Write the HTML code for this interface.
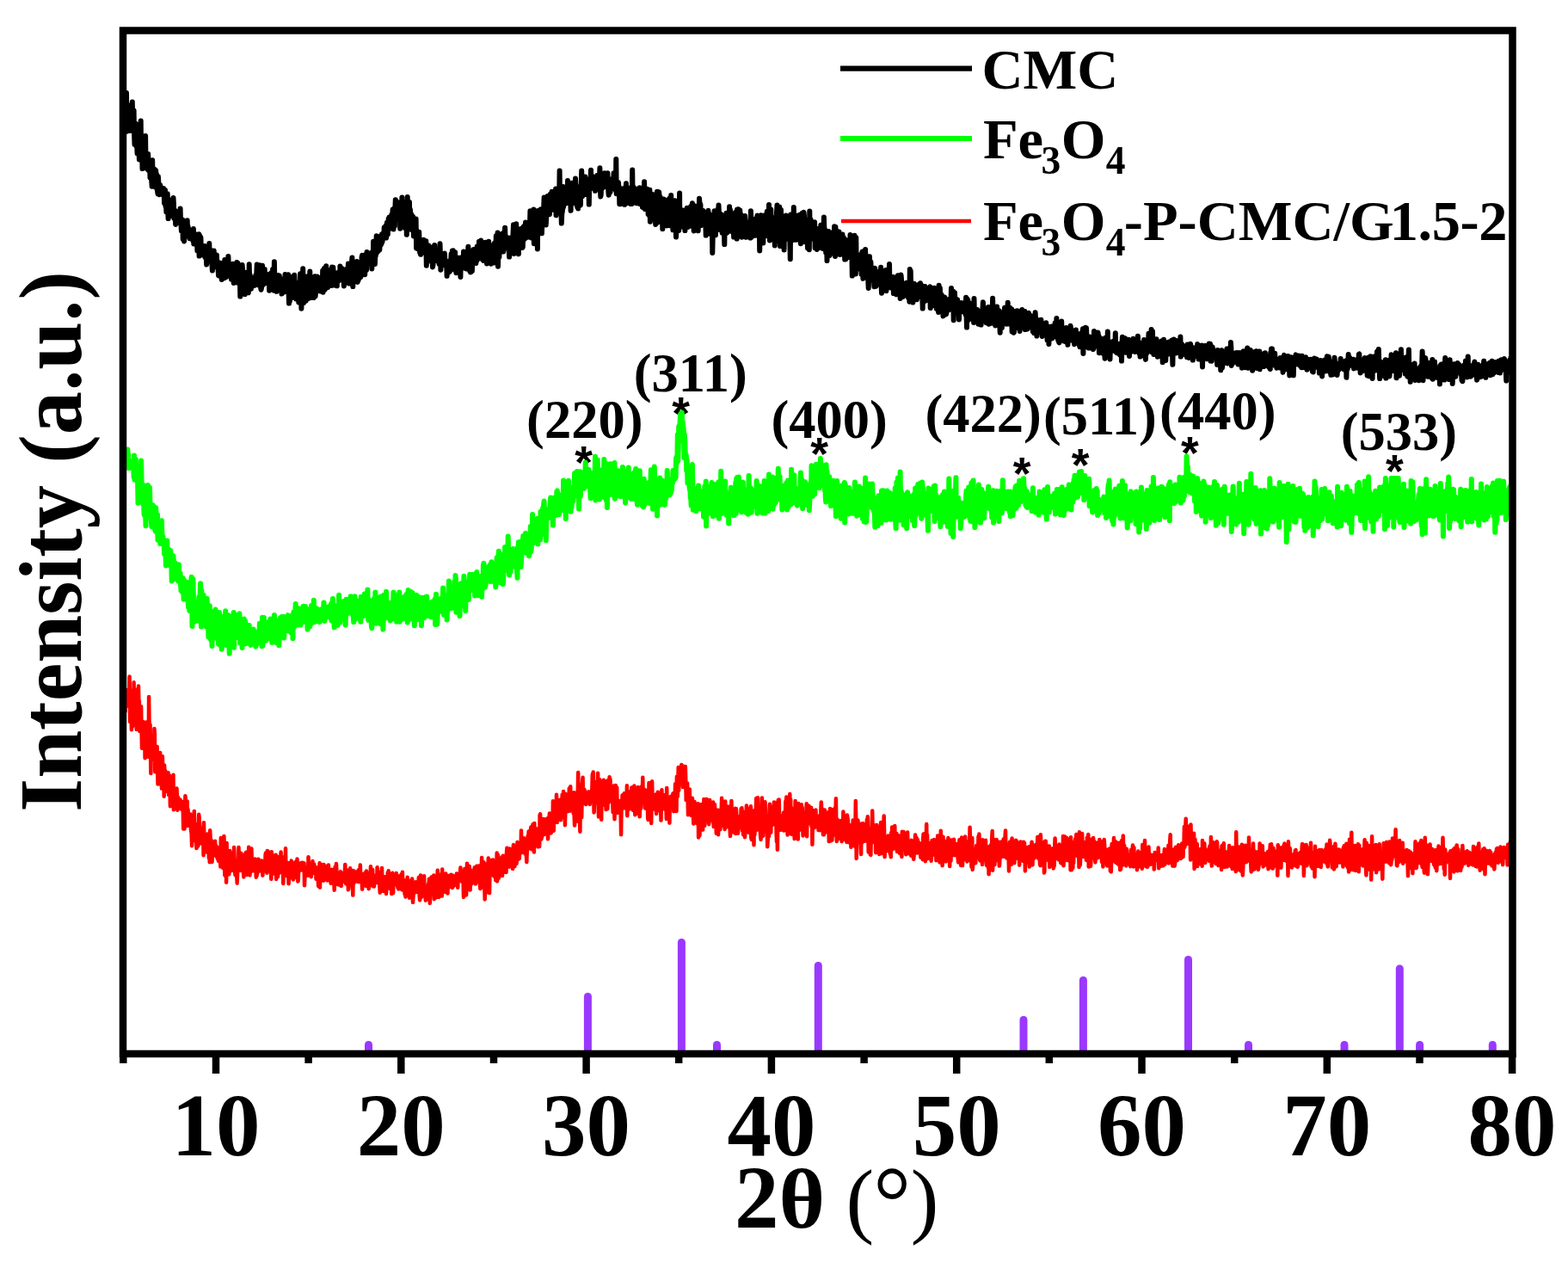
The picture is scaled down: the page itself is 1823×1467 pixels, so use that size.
<!DOCTYPE html>
<html><head><meta charset="utf-8"><title>XRD</title>
<style>html,body{margin:0;padding:0;background:#fff;overflow:hidden}svg{display:block}</style>
</head><body>
<svg width="1823" height="1467" viewBox="0 0 1823 1467" font-family="'Liberation Serif', 'Times New Roman', serif"><text x="678.5" y="556.3" text-anchor="middle" font-family="Liberation Sans, Arial, sans-serif" font-size="53.3" font-weight="bold">*</text>
<text x="791.5" y="498.7" text-anchor="middle" font-family="Liberation Sans, Arial, sans-serif" font-size="53.3" font-weight="bold">*</text>
<text x="952.5" y="546.4" text-anchor="middle" font-family="Liberation Sans, Arial, sans-serif" font-size="53.3" font-weight="bold">*</text>
<text x="1188.0" y="568.8" text-anchor="middle" font-family="Liberation Sans, Arial, sans-serif" font-size="53.3" font-weight="bold">*</text>
<text x="1256.0" y="559.4" text-anchor="middle" font-family="Liberation Sans, Arial, sans-serif" font-size="53.3" font-weight="bold">*</text>
<text x="1383.4" y="544.9" text-anchor="middle" font-family="Liberation Sans, Arial, sans-serif" font-size="53.3" font-weight="bold">*</text>
<text x="1621.3" y="565.8" text-anchor="middle" font-family="Liberation Sans, Arial, sans-serif" font-size="53.3" font-weight="bold">*</text>
<polyline fill="none" stroke="#000" stroke-width="6.0" stroke-linejoin="round" points="143.0,125.4 143.4,142.3 143.9,141.0 144.3,119.8 144.8,123.2 145.2,121.1 145.7,135.8 146.1,128.9 146.6,140.0 147.0,108.1 147.5,152.8 147.9,132.5 148.4,143.7 148.8,134.0 149.3,131.7 149.7,144.2 150.2,150.3 150.6,137.2 151.1,138.9 151.5,151.9 152.0,130.6 152.4,122.1 152.9,151.0 153.3,136.3 153.8,118.4 154.2,136.0 154.7,142.2 155.1,131.9 155.6,128.1 156.0,153.1 156.5,167.9 156.9,150.8 157.4,143.5 157.8,162.9 158.3,169.6 158.7,153.6 159.2,168.9 159.6,178.5 160.1,158.2 160.5,148.6 161.0,169.9 161.4,169.2 161.9,185.5 162.3,144.2 162.8,156.4 163.2,154.5 163.7,140.6 164.1,173.1 164.6,180.7 165.0,161.1 165.5,196.1 165.9,188.0 166.4,185.8 166.8,183.3 167.3,192.5 167.7,159.8 168.2,189.2 168.6,189.9 169.1,157.9 169.5,188.2 170.0,181.2 170.4,195.8 170.9,180.9 171.3,187.4 171.8,192.9 172.2,179.1 172.7,197.8 173.1,190.5 173.6,198.3 174.0,188.0 174.5,206.5 174.9,202.1 175.4,195.0 175.8,204.1 176.3,211.1 176.7,216.8 177.2,186.2 177.6,209.7 178.1,206.8 178.5,202.9 179.0,196.4 179.4,215.6 179.9,196.9 180.3,211.7 180.8,217.8 181.2,198.3 181.7,208.3 182.1,202.8 182.6,213.6 183.0,222.0 183.5,225.4 183.9,205.2 184.4,212.6 184.8,220.4 185.3,226.2 185.7,220.7 186.2,215.0 186.6,221.8 187.1,220.8 187.5,220.6 188.0,218.3 188.4,225.8 188.9,226.2 189.3,224.6 189.8,224.7 190.2,218.9 190.7,224.6 191.1,236.1 191.6,228.1 192.0,220.9 192.5,239.6 192.9,235.2 193.4,246.4 193.8,233.8 194.3,231.1 194.7,225.2 195.2,244.7 195.6,254.1 196.1,231.6 196.5,233.6 197.0,243.0 197.4,233.7 197.9,238.4 198.3,238.6 198.8,243.3 199.2,250.6 199.7,243.5 200.1,250.9 200.6,241.7 201.0,248.0 201.5,230.0 201.9,235.9 202.4,253.8 202.8,243.8 203.3,253.6 203.7,254.0 204.2,260.9 204.6,257.5 205.1,259.9 205.5,251.5 206.0,247.3 206.4,247.7 206.9,250.3 207.3,245.7 207.8,251.1 208.2,255.4 208.7,258.8 209.1,254.6 209.6,242.4 210.0,257.9 210.5,260.9 210.9,268.4 211.4,264.9 211.8,255.7 212.3,255.6 212.7,278.0 213.2,268.5 213.6,277.6 214.1,280.5 214.5,257.7 215.0,267.7 215.4,268.8 215.9,270.2 216.3,270.6 216.8,268.4 217.2,268.7 217.7,256.2 218.1,267.1 218.6,263.1 219.0,270.4 219.5,266.4 219.9,275.3 220.4,277.3 220.8,273.9 221.3,274.5 221.7,273.3 222.2,269.6 222.6,272.3 223.1,270.3 223.5,277.6 224.0,275.3 224.4,280.1 224.9,266.1 225.3,283.4 225.8,271.5 226.2,272.2 226.7,276.8 227.1,274.6 227.6,281.6 228.0,275.6 228.5,272.5 228.9,274.7 229.4,291.3 229.8,282.5 230.3,274.0 230.7,283.3 231.2,272.3 231.6,297.6 232.1,273.8 232.5,289.1 233.0,290.2 233.4,276.1 233.9,289.5 234.3,295.2 234.8,291.9 235.2,291.0 235.7,296.6 236.1,291.5 236.6,293.3 237.0,290.6 237.5,296.6 237.9,285.9 238.4,298.9 238.8,290.2 239.3,286.6 239.7,297.6 240.2,307.6 240.6,302.9 241.1,293.0 241.5,302.1 242.0,294.5 242.4,297.4 242.9,299.4 243.3,283.0 243.8,301.1 244.2,293.1 244.7,295.9 245.1,290.9 245.6,291.1 246.0,295.6 246.5,308.2 246.9,314.5 247.4,303.2 247.8,311.3 248.3,302.3 248.7,291.4 249.2,305.9 249.6,308.2 250.1,302.6 250.5,307.9 251.0,310.1 251.4,300.4 251.9,296.4 252.3,305.4 252.8,305.8 253.2,305.0 253.7,314.8 254.1,320.4 254.6,305.3 255.0,313.6 255.5,315.6 255.9,314.2 256.4,316.9 256.8,306.6 257.3,315.2 257.7,325.0 258.2,316.2 258.6,305.7 259.1,315.2 259.5,320.4 260.0,313.8 260.4,306.9 260.9,323.3 261.3,302.0 261.8,315.7 262.2,311.9 262.7,302.9 263.1,322.0 263.6,315.3 264.0,303.5 264.5,317.8 264.9,309.7 265.4,298.1 265.8,308.0 266.3,315.8 266.7,319.1 267.2,315.4 267.6,314.6 268.1,318.3 268.5,312.9 269.0,324.6 269.4,316.3 269.9,317.7 270.3,320.0 270.8,306.7 271.2,309.8 271.7,329.0 272.1,319.0 272.6,314.0 273.0,319.5 273.5,312.8 273.9,319.3 274.4,311.8 274.8,319.7 275.3,305.0 275.7,328.6 276.2,314.1 276.6,305.9 277.1,316.9 277.5,316.0 278.0,320.3 278.4,310.6 278.9,322.6 279.3,344.6 279.8,310.5 280.2,322.8 280.7,318.2 281.1,322.1 281.6,307.9 282.0,313.0 282.5,324.7 282.9,321.4 283.4,333.2 283.8,317.2 284.3,323.4 284.7,342.1 285.2,317.5 285.6,316.9 286.1,322.8 286.5,322.9 287.0,328.8 287.4,324.4 287.9,318.9 288.3,325.2 288.8,340.3 289.2,331.9 289.7,307.3 290.1,323.5 290.6,319.2 291.0,328.2 291.5,323.6 291.9,335.8 292.4,330.0 292.8,329.7 293.3,325.8 293.7,324.6 294.2,326.7 294.6,332.0 295.1,327.8 295.5,322.8 296.0,332.1 296.4,325.9 296.9,324.3 297.3,320.1 297.8,321.3 298.2,320.9 298.7,307.6 299.1,330.9 299.6,328.2 300.0,323.2 300.5,331.2 300.9,327.3 301.4,326.9 301.8,308.2 302.3,322.9 302.7,327.9 303.2,335.2 303.6,336.8 304.1,334.0 304.5,316.2 305.0,308.8 305.4,328.1 305.9,324.3 306.3,330.9 306.8,323.1 307.2,325.6 307.7,312.9 308.1,327.2 308.6,320.5 309.0,326.4 309.5,327.3 309.9,322.8 310.4,326.2 310.8,323.6 311.3,329.6 311.7,327.6 312.2,319.2 312.6,318.9 313.1,337.7 313.5,322.7 314.0,331.7 314.4,326.8 314.9,318.9 315.3,317.3 315.8,324.6 316.2,325.8 316.7,328.9 317.1,313.1 317.6,318.9 318.0,323.2 318.5,337.7 318.9,304.3 319.4,328.2 319.8,320.0 320.3,328.5 320.7,320.8 321.2,328.3 321.6,338.8 322.1,328.7 322.5,329.6 323.0,329.4 323.4,320.1 323.9,331.4 324.3,325.3 324.8,320.4 325.2,327.3 325.7,326.0 326.1,334.7 326.6,328.2 327.0,324.3 327.5,341.6 327.9,337.9 328.4,340.7 328.8,335.3 329.3,329.4 329.7,327.1 330.2,328.6 330.6,339.4 331.1,332.5 331.5,319.0 332.0,331.7 332.4,320.1 332.9,334.0 333.3,322.4 333.8,322.1 334.2,334.2 334.7,332.7 335.1,319.2 335.6,340.2 336.0,352.6 336.5,321.2 336.9,349.9 337.4,328.3 337.8,330.1 338.3,332.9 338.7,321.9 339.2,346.0 339.6,339.0 340.1,328.2 340.5,332.4 341.0,321.5 341.4,331.9 341.9,343.4 342.3,319.8 342.8,331.3 343.2,336.6 343.7,344.8 344.1,347.6 344.6,331.3 345.0,328.8 345.5,339.7 345.9,332.3 346.4,332.8 346.8,345.7 347.3,351.4 347.7,338.3 348.2,334.1 348.6,341.3 349.1,318.3 349.5,335.9 350.0,326.1 350.4,358.7 350.9,343.0 351.3,337.6 351.8,334.4 352.2,312.3 352.7,343.1 353.1,352.0 353.6,329.4 354.0,343.0 354.5,343.4 354.9,321.4 355.4,345.6 355.8,349.7 356.3,338.7 356.7,335.9 357.2,344.3 357.6,321.3 358.1,337.4 358.5,346.9 359.0,324.1 359.4,346.3 359.9,332.2 360.3,315.6 360.8,335.1 361.2,326.4 361.7,339.1 362.1,324.2 362.6,345.9 363.0,328.1 363.5,338.7 363.9,329.1 364.4,331.5 364.8,346.1 365.3,336.2 365.7,329.9 366.2,321.3 366.6,344.5 367.1,340.0 367.5,329.3 368.0,334.5 368.4,321.8 368.9,321.6 369.3,323.1 369.8,334.1 370.2,333.2 370.7,322.8 371.1,336.7 371.6,336.8 372.0,330.5 372.5,338.5 372.9,325.4 373.4,326.7 373.8,331.9 374.3,326.7 374.7,334.3 375.2,314.4 375.6,339.7 376.1,318.3 376.5,323.9 377.0,312.1 377.4,330.6 377.9,336.8 378.3,334.6 378.8,332.1 379.2,309.3 379.7,316.5 380.1,319.3 380.6,314.8 381.0,334.0 381.5,325.0 381.9,323.0 382.4,327.6 382.8,314.3 383.3,314.7 383.7,314.9 384.2,327.2 384.6,325.7 385.1,327.7 385.5,332.0 386.0,310.6 386.4,317.6 386.9,323.6 387.3,310.8 387.8,317.8 388.2,330.7 388.7,331.4 389.1,331.0 389.6,322.4 390.0,320.3 390.5,330.7 390.9,318.9 391.4,324.6 391.8,332.3 392.3,318.9 392.7,317.0 393.2,321.6 393.6,326.3 394.1,325.3 394.5,322.8 395.0,325.7 395.4,309.6 395.9,315.1 396.3,322.6 396.8,314.6 397.2,311.6 397.7,312.6 398.1,314.7 398.6,319.8 399.0,313.9 399.5,322.6 399.9,332.4 400.4,319.8 400.8,329.2 401.3,322.5 401.7,313.2 402.2,318.8 402.6,314.0 403.1,325.1 403.5,312.7 404.0,328.5 404.4,323.6 404.9,306.5 405.3,324.7 405.8,329.6 406.2,313.9 406.7,325.6 407.1,306.8 407.6,320.3 408.0,307.1 408.5,321.5 408.9,305.7 409.4,299.6 409.8,320.2 410.3,333.1 410.7,312.8 411.2,322.5 411.6,317.2 412.1,313.8 412.5,320.2 413.0,327.2 413.4,306.3 413.9,318.9 414.3,317.1 414.8,303.9 415.2,325.7 415.7,327.9 416.1,306.2 416.6,325.7 417.0,312.9 417.5,310.9 417.9,323.1 418.4,313.1 418.8,313.5 419.3,322.2 419.7,320.1 420.2,316.7 420.6,298.7 421.1,296.9 421.5,317.5 422.0,301.1 422.4,309.1 422.9,299.0 423.3,305.6 423.8,296.5 424.2,319.3 424.7,297.7 425.1,304.4 425.6,303.4 426.0,314.0 426.5,293.0 426.9,303.3 427.4,301.5 427.8,306.6 428.3,305.6 428.7,298.1 429.2,302.8 429.6,297.8 430.1,303.3 430.5,298.6 431.0,294.2 431.4,298.0 431.9,300.1 432.3,312.5 432.8,293.0 433.2,297.8 433.7,304.7 434.1,280.8 434.6,282.5 435.0,285.5 435.5,291.7 435.9,307.0 436.4,293.4 436.8,297.7 437.3,288.3 437.7,274.2 438.2,274.6 438.6,293.3 439.1,287.7 439.5,278.6 440.0,291.4 440.4,275.9 440.9,289.8 441.3,290.6 441.8,278.0 442.2,275.5 442.7,284.8 443.1,274.1 443.6,283.2 444.0,272.2 444.5,281.1 444.9,276.8 445.4,273.5 445.8,270.5 446.3,274.8 446.7,264.4 447.2,270.6 447.6,269.0 448.1,273.2 448.5,262.4 449.0,276.6 449.4,264.7 449.9,258.8 450.3,272.0 450.8,272.6 451.2,260.1 451.7,254.3 452.1,258.7 452.6,252.6 453.0,253.8 453.5,265.7 453.9,256.2 454.4,253.2 454.8,253.5 455.3,249.3 455.7,255.4 456.2,254.9 456.6,243.6 457.1,246.8 457.5,266.4 458.0,248.3 458.4,242.3 458.9,262.7 459.3,243.3 459.8,232.2 460.2,249.4 460.7,233.7 461.1,237.6 461.6,245.9 462.0,241.3 462.5,234.9 462.9,237.1 463.4,236.8 463.8,255.4 464.3,235.7 464.7,237.5 465.2,265.7 465.6,238.1 466.1,260.6 466.5,259.1 467.0,243.2 467.4,229.4 467.9,250.7 468.3,253.5 468.8,257.3 469.2,247.5 469.7,261.0 470.1,263.6 470.6,235.4 471.0,265.1 471.5,250.7 471.9,242.3 472.4,245.7 472.8,272.8 473.3,262.5 473.7,228.9 474.2,252.4 474.6,250.2 475.1,250.2 475.5,246.5 476.0,235.1 476.4,265.1 476.9,243.4 477.3,251.3 477.8,249.4 478.2,248.9 478.7,267.1 479.1,263.9 479.6,253.0 480.0,251.3 480.5,257.9 480.9,274.4 481.4,266.8 481.8,269.1 482.3,264.8 482.7,266.9 483.2,272.8 483.6,254.6 484.1,288.4 484.5,267.6 485.0,271.0 485.4,289.1 485.9,280.5 486.3,280.2 486.8,276.3 487.2,269.7 487.7,284.6 488.1,293.3 488.6,278.5 489.0,295.8 489.5,278.9 489.9,282.5 490.4,291.5 490.8,288.7 491.3,293.7 491.7,285.0 492.2,283.7 492.6,278.8 493.1,283.4 493.5,284.6 494.0,282.7 494.4,294.0 494.9,288.2 495.3,280.2 495.8,308.7 496.2,288.1 496.7,285.7 497.1,301.7 497.6,301.5 498.0,287.2 498.5,285.4 498.9,288.7 499.4,302.3 499.8,293.5 500.3,290.6 500.7,295.7 501.2,303.7 501.6,287.7 502.1,294.2 502.5,288.2 503.0,310.5 503.4,308.5 503.9,303.3 504.3,296.7 504.8,301.8 505.2,284.9 505.7,299.8 506.1,290.0 506.6,290.3 507.0,294.3 507.5,296.6 507.9,302.5 508.4,303.4 508.8,300.9 509.3,293.6 509.7,303.8 510.2,299.0 510.6,307.2 511.1,294.4 511.5,283.3 512.0,297.4 512.4,313.7 512.9,303.5 513.3,299.6 513.8,306.4 514.2,304.3 514.7,304.2 515.1,298.1 515.6,302.0 516.0,303.0 516.5,297.7 516.9,294.6 517.4,303.1 517.8,308.8 518.3,306.8 518.7,306.0 519.2,306.2 519.6,320.8 520.1,304.8 520.5,310.5 521.0,317.2 521.4,303.8 521.9,305.5 522.3,311.3 522.8,316.1 523.2,306.2 523.7,306.8 524.1,304.9 524.6,295.2 525.0,312.8 525.5,302.6 525.9,291.4 526.4,303.6 526.8,291.3 527.3,297.0 527.7,305.1 528.2,297.7 528.6,313.6 529.1,293.3 529.5,307.3 530.0,309.8 530.4,317.2 530.9,312.9 531.3,307.2 531.8,306.0 532.2,304.8 532.7,314.7 533.1,299.8 533.6,309.5 534.0,304.4 534.5,307.0 534.9,302.9 535.4,322.0 535.8,299.6 536.3,306.7 536.7,306.7 537.2,309.1 537.6,307.8 538.1,307.4 538.5,311.5 539.0,292.4 539.4,303.7 539.9,294.2 540.3,305.0 540.8,294.3 541.2,295.8 541.7,302.2 542.1,312.5 542.6,306.4 543.0,304.1 543.5,311.7 543.9,295.0 544.4,286.8 544.8,298.2 545.3,299.0 545.7,309.1 546.2,314.9 546.6,291.4 547.1,316.5 547.5,310.1 548.0,305.1 548.4,301.8 548.9,314.8 549.3,299.6 549.8,295.9 550.2,299.5 550.7,290.0 551.1,301.2 551.6,297.5 552.0,300.0 552.5,300.0 552.9,291.0 553.4,305.9 553.8,290.8 554.3,303.0 554.7,286.4 555.2,299.4 555.6,291.1 556.1,296.9 556.5,291.9 557.0,280.7 557.4,288.1 557.9,296.5 558.3,300.6 558.8,284.7 559.2,279.4 559.7,288.7 560.1,293.7 560.6,290.2 561.0,288.6 561.5,301.9 561.9,302.8 562.4,300.8 562.8,286.6 563.3,295.0 563.7,292.6 564.2,281.7 564.6,301.8 565.1,294.6 565.5,289.3 566.0,306.5 566.4,300.5 566.9,301.3 567.3,304.4 567.8,299.8 568.2,280.7 568.7,288.9 569.1,302.4 569.6,284.8 570.0,292.6 570.5,296.1 570.9,306.7 571.4,305.2 571.8,301.0 572.3,289.5 572.7,301.0 573.2,296.8 573.6,289.3 574.1,305.6 574.5,296.0 575.0,282.5 575.4,303.7 575.9,287.5 576.3,296.1 576.8,274.3 577.2,289.5 577.7,280.0 578.1,279.7 578.6,270.4 579.0,309.8 579.5,287.4 579.9,290.9 580.4,298.9 580.8,287.2 581.3,292.8 581.7,275.6 582.2,289.5 582.6,283.9 583.1,291.8 583.5,288.8 584.0,275.2 584.4,271.2 584.9,278.2 585.3,292.6 585.8,289.8 586.2,289.4 586.7,269.9 587.1,264.7 587.6,280.7 588.0,282.8 588.5,280.6 588.9,287.6 589.4,283.5 589.8,276.0 590.3,278.1 590.7,285.1 591.2,284.4 591.6,283.2 592.1,298.6 592.5,281.5 593.0,283.8 593.4,276.5 593.9,280.3 594.3,285.6 594.8,285.6 595.2,281.0 595.7,284.0 596.1,281.8 596.6,270.0 597.0,261.2 597.5,294.9 597.9,285.6 598.4,279.8 598.8,268.7 599.3,271.3 599.7,288.5 600.2,260.3 600.6,276.7 601.1,284.7 601.5,279.4 602.0,283.6 602.4,276.9 602.9,295.3 603.3,269.6 603.8,266.6 604.2,278.8 604.7,287.6 605.1,275.7 605.6,284.3 606.0,271.2 606.5,265.4 606.9,286.6 607.4,287.9 607.8,287.5 608.3,270.2 608.7,263.5 609.2,262.9 609.6,271.0 610.1,278.0 610.5,277.0 611.0,258.6 611.4,273.5 611.9,271.5 612.3,271.8 612.8,270.4 613.2,268.2 613.7,275.8 614.1,270.8 614.6,271.4 615.0,261.6 615.5,272.5 615.9,266.7 616.4,245.2 616.8,272.3 617.3,263.9 617.7,276.4 618.2,264.1 618.6,264.3 619.1,267.2 619.5,264.3 620.0,259.0 620.4,243.6 620.9,283.2 621.3,244.8 621.8,257.9 622.2,268.3 622.7,264.6 623.1,266.1 623.6,267.7 624.0,272.5 624.5,261.1 624.9,289.5 625.4,245.0 625.8,258.2 626.3,250.9 626.7,248.1 627.2,256.7 627.6,269.2 628.1,244.0 628.5,243.3 629.0,258.8 629.4,256.0 629.9,271.3 630.3,260.1 630.8,250.4 631.2,243.3 631.7,248.8 632.1,243.7 632.6,229.5 633.0,244.5 633.5,241.8 633.9,240.5 634.4,237.7 634.8,261.4 635.3,249.5 635.7,251.7 636.2,233.4 636.6,228.1 637.1,236.2 637.5,241.9 638.0,234.6 638.4,236.1 638.9,249.1 639.3,241.1 639.8,225.8 640.2,232.0 640.7,229.1 641.1,238.6 641.6,222.8 642.0,234.0 642.5,243.8 642.9,235.9 643.4,224.9 643.8,228.2 644.3,236.5 644.7,240.4 645.2,244.2 645.6,232.9 646.1,219.5 646.5,250.3 647.0,237.4 647.4,238.5 647.9,237.2 648.3,222.0 648.8,229.9 649.2,236.2 649.7,244.7 650.1,233.8 650.6,198.4 651.0,230.2 651.5,236.6 651.9,246.8 652.4,240.3 652.8,259.6 653.3,247.8 653.7,246.8 654.2,242.2 654.6,216.9 655.1,240.9 655.5,238.1 656.0,225.8 656.4,237.6 656.9,235.7 657.3,226.1 657.8,229.6 658.2,228.0 658.7,233.1 659.1,226.0 659.6,236.1 660.0,209.9 660.5,227.0 660.9,212.1 661.4,224.6 661.8,234.9 662.3,229.5 662.7,228.0 663.2,229.6 663.6,244.8 664.1,217.2 664.5,237.3 665.0,212.8 665.4,223.2 665.9,229.3 666.3,219.0 666.8,229.3 667.2,234.2 667.7,215.1 668.1,225.8 668.6,222.7 669.0,207.4 669.5,224.0 669.9,218.0 670.4,238.1 670.8,216.9 671.3,240.8 671.7,219.6 672.2,242.4 672.6,229.1 673.1,228.1 673.5,231.0 674.0,231.6 674.4,235.8 674.9,238.5 675.3,219.6 675.8,211.3 676.2,198.6 676.7,218.6 677.1,228.3 677.6,224.8 678.0,222.2 678.5,218.0 678.9,215.4 679.4,218.2 679.8,223.6 680.3,205.4 680.7,226.0 681.2,207.7 681.6,218.2 682.1,214.1 682.5,216.1 683.0,210.5 683.4,209.5 683.9,216.7 684.3,209.7 684.8,237.6 685.2,214.6 685.7,212.5 686.1,213.2 686.6,208.8 687.0,197.7 687.5,214.9 687.9,219.1 688.4,204.7 688.8,216.3 689.3,206.6 689.7,215.6 690.2,218.5 690.6,219.3 691.1,218.7 691.5,209.6 692.0,221.8 692.4,211.2 692.9,217.2 693.3,219.8 693.8,211.7 694.2,203.9 694.7,218.5 695.1,204.9 695.6,206.5 696.0,204.6 696.5,219.6 696.9,211.6 697.4,195.3 697.8,218.3 698.3,228.5 698.7,226.3 699.2,207.8 699.6,212.7 700.1,215.9 700.5,218.8 701.0,212.0 701.4,203.2 701.9,217.4 702.3,216.2 702.8,201.2 703.2,208.5 703.7,213.4 704.1,211.3 704.6,215.3 705.0,217.4 705.5,215.5 705.9,210.5 706.4,201.2 706.8,216.2 707.3,222.3 707.7,226.7 708.2,211.8 708.6,212.0 709.1,223.2 709.5,223.3 710.0,215.5 710.4,218.5 710.9,208.2 711.3,218.2 711.8,208.5 712.2,213.8 712.7,214.3 713.1,212.3 713.6,201.2 714.0,210.7 714.5,219.3 714.9,217.1 715.4,215.2 715.8,221.4 716.3,185.0 716.7,225.2 717.2,214.5 717.6,220.6 718.1,218.7 718.5,215.6 719.0,212.0 719.4,221.7 719.9,217.2 720.3,237.3 720.8,223.2 721.2,222.8 721.7,222.1 722.1,237.0 722.6,219.6 723.0,224.9 723.5,221.5 723.9,225.9 724.4,226.8 724.8,234.0 725.3,218.9 725.7,227.7 726.2,237.8 726.6,225.2 727.1,227.4 727.5,223.4 728.0,213.3 728.4,228.4 728.9,236.2 729.3,226.5 729.8,218.2 730.2,231.1 730.7,230.1 731.1,235.8 731.6,235.4 732.0,228.2 732.5,232.5 732.9,218.9 733.4,237.1 733.8,231.4 734.3,237.1 734.7,237.0 735.2,197.6 735.6,229.6 736.1,225.0 736.5,217.5 737.0,229.9 737.4,231.8 737.9,223.9 738.3,235.5 738.8,231.6 739.2,234.0 739.7,226.1 740.1,219.7 740.6,236.3 741.0,235.3 741.5,230.6 741.9,228.6 742.4,229.7 742.8,230.7 743.3,228.3 743.7,218.3 744.2,237.1 744.6,221.8 745.1,229.7 745.5,230.0 746.0,233.9 746.4,221.3 746.9,240.6 747.3,237.0 747.8,237.9 748.2,241.5 748.7,227.4 749.1,211.2 749.6,235.6 750.0,243.0 750.5,242.3 750.9,229.7 751.4,233.3 751.8,236.5 752.3,219.7 752.7,229.1 753.2,229.5 753.6,248.9 754.1,229.8 754.5,249.9 755.0,236.2 755.4,220.8 755.9,257.7 756.3,227.7 756.8,243.4 757.2,254.7 757.7,232.6 758.1,225.7 758.6,249.6 759.0,239.8 759.5,226.2 759.9,227.9 760.4,235.8 760.8,251.3 761.3,237.5 761.7,248.7 762.2,260.9 762.6,257.0 763.1,259.6 763.5,257.6 764.0,222.8 764.4,258.6 764.9,247.7 765.3,242.2 765.8,229.9 766.2,223.3 766.7,229.7 767.1,244.6 767.6,229.0 768.0,234.1 768.5,237.0 768.9,255.4 769.4,241.9 769.8,244.2 770.3,266.1 770.7,241.9 771.2,255.8 771.6,231.4 772.1,252.1 772.5,249.1 773.0,250.1 773.4,241.1 773.9,233.4 774.3,243.9 774.8,241.7 775.2,262.5 775.7,260.8 776.1,232.6 776.6,257.1 777.0,242.7 777.5,255.0 777.9,243.1 778.4,230.7 778.8,262.2 779.3,255.2 779.7,234.8 780.2,227.1 780.6,243.7 781.1,236.2 781.5,246.1 782.0,257.6 782.4,267.3 782.9,246.7 783.3,266.1 783.8,263.6 784.2,246.3 784.7,233.3 785.1,260.2 785.6,257.6 786.0,275.5 786.5,265.9 786.9,259.3 787.4,268.2 787.8,241.6 788.3,253.6 788.7,249.3 789.2,268.0 789.6,257.1 790.1,224.6 790.5,264.1 791.0,244.2 791.4,258.7 791.9,248.1 792.3,254.2 792.8,257.3 793.2,253.7 793.7,244.4 794.1,263.6 794.6,255.4 795.0,252.0 795.5,258.1 795.9,247.6 796.4,268.1 796.8,254.0 797.3,255.2 797.7,255.0 798.2,244.1 798.6,241.7 799.1,253.8 799.5,255.0 800.0,263.9 800.4,255.9 800.9,241.9 801.3,256.5 801.8,259.2 802.2,260.9 802.7,254.6 803.1,240.1 803.6,262.4 804.0,244.4 804.5,256.8 804.9,236.2 805.4,258.6 805.8,243.5 806.3,261.7 806.7,268.4 807.2,262.5 807.6,239.3 808.1,241.5 808.5,242.1 809.0,257.5 809.4,254.3 809.9,252.3 810.3,253.9 810.8,256.6 811.2,257.4 811.7,268.3 812.1,250.0 812.6,252.7 813.0,230.8 813.5,236.3 813.9,243.0 814.4,237.7 814.8,252.9 815.3,262.0 815.7,245.8 816.2,245.3 816.6,245.1 817.1,252.4 817.5,244.9 818.0,256.1 818.4,254.9 818.9,255.6 819.3,260.8 819.8,252.5 820.2,254.1 820.7,273.6 821.1,252.5 821.6,263.0 822.0,254.4 822.5,248.5 822.9,248.8 823.4,244.7 823.8,255.3 824.3,248.1 824.7,250.7 825.2,271.8 825.6,255.1 826.1,271.8 826.5,261.0 827.0,269.2 827.4,250.5 827.9,260.8 828.3,294.0 828.8,270.6 829.2,273.4 829.7,263.5 830.1,272.3 830.6,245.3 831.0,249.8 831.5,267.5 831.9,273.3 832.4,256.5 832.8,259.9 833.3,257.6 833.7,260.3 834.2,246.1 834.6,242.8 835.1,262.2 835.5,238.5 836.0,249.4 836.4,254.0 836.9,248.3 837.3,267.1 837.8,257.2 838.2,262.5 838.7,249.3 839.1,253.1 839.6,270.7 840.0,268.5 840.5,257.0 840.9,268.2 841.4,265.7 841.8,265.2 842.3,284.1 842.7,257.6 843.2,268.2 843.6,268.1 844.1,259.6 844.5,247.7 845.0,270.9 845.4,265.4 845.9,262.6 846.3,262.2 846.8,262.0 847.2,250.9 847.7,264.9 848.1,240.3 848.6,260.9 849.0,243.9 849.5,256.9 849.9,268.8 850.4,257.7 850.8,255.2 851.3,265.9 851.7,257.3 852.2,255.8 852.6,255.9 853.1,275.6 853.5,266.6 854.0,264.6 854.4,247.7 854.9,265.6 855.3,246.8 855.8,264.0 856.2,248.7 856.7,277.6 857.1,243.6 857.6,270.4 858.0,266.4 858.5,243.3 858.9,257.0 859.4,271.8 859.8,269.1 860.3,244.6 860.7,254.7 861.2,249.0 861.6,250.3 862.1,253.8 862.5,275.7 863.0,260.7 863.4,257.7 863.9,256.8 864.3,265.7 864.8,266.1 865.2,252.0 865.7,273.1 866.1,250.9 866.6,258.1 867.0,264.6 867.5,275.8 867.9,257.9 868.4,263.6 868.8,272.7 869.3,266.9 869.7,271.5 870.2,270.9 870.6,264.2 871.1,267.6 871.5,270.3 872.0,262.1 872.4,276.6 872.9,245.2 873.3,254.7 873.8,275.6 874.2,266.9 874.7,257.6 875.1,266.7 875.6,273.0 876.0,258.7 876.5,270.4 876.9,262.7 877.4,262.9 877.8,263.4 878.3,273.8 878.7,254.3 879.2,260.9 879.6,270.0 880.1,253.5 880.5,250.4 881.0,269.3 881.4,264.3 881.9,262.9 882.3,265.6 882.8,255.3 883.2,291.4 883.7,254.9 884.1,260.0 884.6,250.3 885.0,260.0 885.5,279.1 885.9,264.1 886.4,269.9 886.8,258.8 887.3,282.5 887.7,265.4 888.2,250.4 888.6,271.7 889.1,259.4 889.5,270.0 890.0,264.8 890.4,266.1 890.9,264.6 891.3,252.7 891.8,245.7 892.2,274.2 892.7,261.2 893.1,266.1 893.6,257.1 894.0,238.1 894.5,246.9 894.9,279.5 895.4,252.5 895.8,257.4 896.3,243.6 896.7,255.3 897.2,257.2 897.6,259.0 898.1,260.9 898.5,253.5 899.0,254.1 899.4,261.5 899.9,266.0 900.3,259.6 900.8,285.5 901.2,264.4 901.7,263.7 902.1,252.2 902.6,276.0 903.0,246.8 903.5,238.4 903.9,247.6 904.4,270.2 904.8,245.4 905.3,279.6 905.7,261.2 906.2,240.5 906.6,258.4 907.1,286.1 907.5,249.9 908.0,243.9 908.4,268.7 908.9,279.4 909.3,275.5 909.8,257.5 910.2,264.5 910.7,266.4 911.1,277.6 911.6,290.4 912.0,260.9 912.5,279.2 912.9,258.0 913.4,270.1 913.8,250.6 914.3,252.9 914.7,268.0 915.2,251.5 915.6,274.1 916.1,256.2 916.5,264.1 917.0,262.2 917.4,259.2 917.9,265.0 918.3,276.7 918.8,301.3 919.2,249.4 919.7,267.4 920.1,261.8 920.6,253.2 921.0,267.5 921.5,253.9 921.9,263.4 922.4,278.9 922.8,241.1 923.3,267.5 923.7,269.8 924.2,253.9 924.6,270.9 925.1,269.0 925.5,261.2 926.0,278.8 926.4,250.7 926.9,272.6 927.3,262.9 927.8,253.9 928.2,263.8 928.7,262.0 929.1,274.9 929.6,249.7 930.0,264.0 930.5,261.3 930.9,283.3 931.4,254.4 931.8,277.9 932.3,247.9 932.7,270.4 933.2,265.4 933.6,271.0 934.1,259.7 934.5,246.8 935.0,251.2 935.4,281.1 935.9,269.8 936.3,258.8 936.8,277.1 937.2,260.3 937.7,260.5 938.1,255.9 938.6,280.3 939.0,288.3 939.5,258.9 939.9,271.7 940.4,278.7 940.8,290.2 941.3,245.4 941.7,270.8 942.2,275.9 942.6,255.2 943.1,273.9 943.5,272.1 944.0,277.4 944.4,264.8 944.9,274.9 945.3,265.1 945.8,277.2 946.2,273.0 946.7,268.1 947.1,258.2 947.6,288.3 948.0,283.3 948.5,281.4 948.9,266.7 949.4,270.0 949.8,289.9 950.3,281.2 950.7,266.1 951.2,275.1 951.6,276.3 952.1,273.3 952.5,266.5 953.0,287.9 953.4,281.9 953.9,274.6 954.3,261.7 954.8,271.5 955.2,277.4 955.7,286.0 956.1,274.5 956.6,288.9 957.0,279.9 957.5,271.8 957.9,252.6 958.4,268.3 958.8,265.5 959.3,278.5 959.7,283.3 960.2,293.5 960.6,280.5 961.1,269.9 961.5,303.1 962.0,284.1 962.4,278.9 962.9,279.0 963.3,269.0 963.8,287.7 964.2,285.4 964.7,297.1 965.1,292.7 965.6,290.6 966.0,294.5 966.5,279.6 966.9,278.1 967.4,282.1 967.8,270.2 968.3,281.3 968.7,279.5 969.2,289.7 969.6,282.8 970.1,263.3 970.5,283.4 971.0,298.0 971.4,263.8 971.9,275.2 972.3,283.5 972.8,269.1 973.2,277.5 973.7,284.1 974.1,269.0 974.6,286.8 975.0,288.2 975.5,269.5 975.9,284.0 976.4,296.0 976.8,281.8 977.3,288.9 977.7,291.4 978.2,281.3 978.6,295.6 979.1,288.7 979.5,272.5 980.0,290.5 980.4,294.7 980.9,294.2 981.3,276.7 981.8,290.2 982.2,301.6 982.7,287.7 983.1,299.6 983.6,301.3 984.0,284.7 984.5,293.6 984.9,281.7 985.4,299.2 985.8,284.6 986.3,278.9 986.7,285.8 987.2,285.5 987.6,291.5 988.1,292.8 988.5,273.0 989.0,279.8 989.4,292.5 989.9,294.3 990.3,290.1 990.8,320.6 991.2,303.2 991.7,289.8 992.1,299.6 992.6,307.1 993.0,296.7 993.5,273.7 993.9,295.0 994.4,295.1 994.8,318.4 995.3,276.3 995.7,313.2 996.2,295.8 996.6,307.9 997.1,295.9 997.5,301.5 998.0,311.9 998.4,302.0 998.9,312.4 999.3,301.9 999.8,299.4 1000.2,302.0 1000.7,300.1 1001.1,304.4 1001.6,318.9 1002.0,296.2 1002.5,292.5 1002.9,308.0 1003.4,323.8 1003.8,318.6 1004.3,321.5 1004.7,321.3 1005.2,304.9 1005.6,312.6 1006.1,290.1 1006.5,307.6 1007.0,317.8 1007.4,301.0 1007.9,297.6 1008.3,303.9 1008.8,316.1 1009.2,323.7 1009.7,334.9 1010.1,326.3 1010.6,304.0 1011.0,298.3 1011.5,317.3 1011.9,324.4 1012.4,304.6 1012.8,313.0 1013.3,313.9 1013.7,317.7 1014.2,316.4 1014.6,321.7 1015.1,325.9 1015.5,318.9 1016.0,324.0 1016.4,333.2 1016.9,311.7 1017.3,311.8 1017.8,323.1 1018.2,332.8 1018.7,321.0 1019.1,327.7 1019.6,318.1 1020.0,326.8 1020.5,316.3 1020.9,325.5 1021.4,323.7 1021.8,323.9 1022.3,330.8 1022.7,328.8 1023.2,317.8 1023.6,327.9 1024.1,310.8 1024.5,328.9 1025.0,340.7 1025.4,326.3 1025.9,326.3 1026.3,323.6 1026.8,328.8 1027.2,320.7 1027.7,328.1 1028.1,322.3 1028.6,321.5 1029.0,325.2 1029.5,324.3 1029.9,314.0 1030.4,338.2 1030.8,326.2 1031.3,314.7 1031.7,332.7 1032.2,325.8 1032.6,327.6 1033.1,331.1 1033.5,320.7 1034.0,307.0 1034.4,326.4 1034.9,329.0 1035.3,334.5 1035.8,322.5 1036.2,326.2 1036.7,331.1 1037.1,326.3 1037.6,326.9 1038.0,330.8 1038.5,321.9 1038.9,341.1 1039.4,322.8 1039.8,330.2 1040.3,327.6 1040.7,325.0 1041.2,334.7 1041.6,338.6 1042.1,342.4 1042.5,335.8 1043.0,327.9 1043.4,338.6 1043.9,320.3 1044.3,332.5 1044.8,336.6 1045.2,337.2 1045.7,323.3 1046.1,320.5 1046.6,347.0 1047.0,329.0 1047.5,319.6 1047.9,323.2 1048.4,334.0 1048.8,344.3 1049.3,334.3 1049.7,345.0 1050.2,336.6 1050.6,339.0 1051.1,343.8 1051.5,331.8 1052.0,338.0 1052.4,332.0 1052.9,329.9 1053.3,341.6 1053.8,328.7 1054.2,336.7 1054.7,329.3 1055.1,335.5 1055.6,331.9 1056.0,345.9 1056.5,337.4 1056.9,337.5 1057.4,350.7 1057.8,313.1 1058.3,328.0 1058.7,314.9 1059.2,337.3 1059.6,341.0 1060.1,342.7 1060.5,339.8 1061.0,330.9 1061.4,351.6 1061.9,340.4 1062.3,336.1 1062.8,329.7 1063.2,341.6 1063.7,334.8 1064.1,335.3 1064.6,340.3 1065.0,340.5 1065.5,333.0 1065.9,348.2 1066.4,332.0 1066.8,331.4 1067.3,341.6 1067.7,340.5 1068.2,340.2 1068.6,337.0 1069.1,340.3 1069.5,336.3 1070.0,329.2 1070.4,345.3 1070.9,333.8 1071.3,339.2 1071.8,345.6 1072.2,341.1 1072.7,358.6 1073.1,332.5 1073.6,336.8 1074.0,342.2 1074.5,350.3 1074.9,340.4 1075.4,332.9 1075.8,349.7 1076.3,336.4 1076.7,341.4 1077.2,348.8 1077.6,338.5 1078.1,340.2 1078.5,346.9 1079.0,342.3 1079.4,345.9 1079.9,337.3 1080.3,343.4 1080.8,336.6 1081.2,333.3 1081.7,358.0 1082.1,348.6 1082.6,352.3 1083.0,338.2 1083.5,345.6 1083.9,344.4 1084.4,335.1 1084.8,350.8 1085.3,340.9 1085.7,345.3 1086.2,334.8 1086.6,355.5 1087.1,353.8 1087.5,351.0 1088.0,340.3 1088.4,343.6 1088.9,358.8 1089.3,346.2 1089.8,351.1 1090.2,350.2 1090.7,339.3 1091.1,362.9 1091.6,331.7 1092.0,351.7 1092.5,349.0 1092.9,335.1 1093.4,353.2 1093.8,355.2 1094.3,350.9 1094.7,342.7 1095.2,355.0 1095.6,361.5 1096.1,353.1 1096.5,367.4 1097.0,359.3 1097.4,358.5 1097.9,364.3 1098.3,345.4 1098.8,346.8 1099.2,356.4 1099.7,356.5 1100.1,365.4 1100.6,362.2 1101.0,353.6 1101.5,354.0 1101.9,349.8 1102.4,349.1 1102.8,348.5 1103.3,360.2 1103.7,348.5 1104.2,349.6 1104.6,354.0 1105.1,348.5 1105.5,350.9 1106.0,335.0 1106.4,356.0 1106.9,350.6 1107.3,354.7 1107.8,356.2 1108.2,338.7 1108.7,372.3 1109.1,354.8 1109.6,355.1 1110.0,340.2 1110.5,358.7 1110.9,357.2 1111.4,351.6 1111.8,356.3 1112.3,364.0 1112.7,352.3 1113.2,348.3 1113.6,364.5 1114.1,357.0 1114.5,354.0 1115.0,371.4 1115.4,356.6 1115.9,354.4 1116.3,357.5 1116.8,353.1 1117.2,357.4 1117.7,357.1 1118.1,351.9 1118.6,354.7 1119.0,358.7 1119.5,359.4 1119.9,360.9 1120.4,362.5 1120.8,359.2 1121.3,361.2 1121.7,355.5 1122.2,356.6 1122.6,365.5 1123.1,345.7 1123.5,361.7 1124.0,380.6 1124.4,347.4 1124.9,370.1 1125.3,348.7 1125.8,363.2 1126.2,371.9 1126.7,371.3 1127.1,355.6 1127.6,353.3 1128.0,352.7 1128.5,367.5 1128.9,360.4 1129.4,363.4 1129.8,365.4 1130.3,366.7 1130.7,367.9 1131.2,365.4 1131.6,354.1 1132.1,375.0 1132.5,347.0 1133.0,374.1 1133.4,362.0 1133.9,364.9 1134.3,363.0 1134.8,364.2 1135.2,366.8 1135.7,365.2 1136.1,359.9 1136.6,373.2 1137.0,363.7 1137.5,376.7 1137.9,366.7 1138.4,363.1 1138.8,370.8 1139.3,373.9 1139.7,361.7 1140.2,366.1 1140.6,377.6 1141.1,361.2 1141.5,362.2 1142.0,369.0 1142.4,359.7 1142.9,351.2 1143.3,356.5 1143.8,370.3 1144.2,372.1 1144.7,371.6 1145.1,370.2 1145.6,359.2 1146.0,372.0 1146.5,375.1 1146.9,362.6 1147.4,373.6 1147.8,364.7 1148.3,368.4 1148.7,369.5 1149.2,356.9 1149.6,376.7 1150.1,361.0 1150.5,366.0 1151.0,363.3 1151.4,369.6 1151.9,369.4 1152.3,366.5 1152.8,375.8 1153.2,368.1 1153.7,363.5 1154.1,346.7 1154.6,364.1 1155.0,364.0 1155.5,360.0 1155.9,360.1 1156.4,369.8 1156.8,372.8 1157.3,378.5 1157.7,373.3 1158.2,360.9 1158.6,367.3 1159.1,356.4 1159.5,370.5 1160.0,367.9 1160.4,361.4 1160.9,364.8 1161.3,363.8 1161.8,361.2 1162.2,374.5 1162.7,386.7 1163.1,371.2 1163.6,372.9 1164.0,366.8 1164.5,363.4 1164.9,380.9 1165.4,363.4 1165.8,368.7 1166.3,365.3 1166.7,370.3 1167.2,365.9 1167.6,370.5 1168.1,357.7 1168.5,365.9 1169.0,376.3 1169.4,359.6 1169.9,362.3 1170.3,376.7 1170.8,370.1 1171.2,374.9 1171.7,351.7 1172.1,368.7 1172.6,358.7 1173.0,358.0 1173.5,371.0 1173.9,376.7 1174.4,357.7 1174.8,360.6 1175.3,364.5 1175.7,368.0 1176.2,359.4 1176.6,385.5 1177.1,373.6 1177.5,366.9 1178.0,365.9 1178.4,386.8 1178.9,386.4 1179.3,366.5 1179.8,372.8 1180.2,379.7 1180.7,361.8 1181.1,366.3 1181.6,380.8 1182.0,365.8 1182.5,367.9 1182.9,361.2 1183.4,365.7 1183.8,376.6 1184.3,365.5 1184.7,362.1 1185.2,367.3 1185.6,384.9 1186.1,373.4 1186.5,368.2 1187.0,373.5 1187.4,375.7 1187.9,373.5 1188.3,359.9 1188.8,375.0 1189.2,371.5 1189.7,379.1 1190.1,363.8 1190.6,380.8 1191.0,370.1 1191.5,361.9 1191.9,383.1 1192.4,370.5 1192.8,376.7 1193.3,373.2 1193.7,381.9 1194.2,382.1 1194.6,382.3 1195.1,379.7 1195.5,364.2 1196.0,363.9 1196.4,376.6 1196.9,369.1 1197.3,378.7 1197.8,376.8 1198.2,366.7 1198.7,369.3 1199.1,368.8 1199.6,370.6 1200.0,375.2 1200.5,381.0 1200.9,385.4 1201.4,370.8 1201.8,373.6 1202.3,387.1 1202.7,383.0 1203.2,379.1 1203.6,363.2 1204.1,371.7 1204.5,379.1 1205.0,374.6 1205.4,390.6 1205.9,379.1 1206.3,380.5 1206.8,372.1 1207.2,372.6 1207.7,375.1 1208.1,375.5 1208.6,378.1 1209.0,382.1 1209.5,381.4 1209.9,386.4 1210.4,371.8 1210.8,381.8 1211.3,382.1 1211.7,390.9 1212.2,379.6 1212.6,383.2 1213.1,376.1 1213.5,384.2 1214.0,384.3 1214.4,377.9 1214.9,379.3 1215.3,382.1 1215.8,386.2 1216.2,375.2 1216.7,388.5 1217.1,380.8 1217.6,395.5 1218.0,392.9 1218.5,380.9 1218.9,379.6 1219.4,400.0 1219.8,388.2 1220.3,388.0 1220.7,381.6 1221.2,383.7 1221.6,390.1 1222.1,389.0 1222.5,379.6 1223.0,393.5 1223.4,387.5 1223.9,379.2 1224.3,392.4 1224.8,384.7 1225.2,391.3 1225.7,382.4 1226.1,388.8 1226.6,375.5 1227.0,389.2 1227.5,376.5 1227.9,388.0 1228.4,370.1 1228.8,386.8 1229.3,392.1 1229.7,390.7 1230.2,395.4 1230.6,380.7 1231.1,398.0 1231.5,398.4 1232.0,380.4 1232.4,383.2 1232.9,384.8 1233.3,388.4 1233.8,389.8 1234.2,373.4 1234.7,392.6 1235.1,387.5 1235.6,382.9 1236.0,395.1 1236.5,387.3 1236.9,396.4 1237.4,392.9 1237.8,387.9 1238.3,396.9 1238.7,394.8 1239.2,387.2 1239.6,380.9 1240.1,387.2 1240.5,394.1 1241.0,389.3 1241.4,400.8 1241.9,392.3 1242.3,392.0 1242.8,393.3 1243.2,386.3 1243.7,390.6 1244.1,387.8 1244.6,378.7 1245.0,382.0 1245.5,395.6 1245.9,389.4 1246.4,391.2 1246.8,384.2 1247.3,389.0 1247.7,396.2 1248.2,392.7 1248.6,389.7 1249.1,400.2 1249.5,392.2 1250.0,390.7 1250.4,398.7 1250.9,383.5 1251.3,395.8 1251.8,386.8 1252.2,388.6 1252.7,389.2 1253.1,393.8 1253.6,393.7 1254.0,394.9 1254.5,394.5 1254.9,401.5 1255.4,403.3 1255.8,397.6 1256.3,398.0 1256.7,391.3 1257.2,386.9 1257.6,397.3 1258.1,393.9 1258.5,399.1 1259.0,382.3 1259.4,410.9 1259.9,385.8 1260.3,394.2 1260.8,400.5 1261.2,385.0 1261.7,390.5 1262.1,380.7 1262.6,384.6 1263.0,381.2 1263.5,395.1 1263.9,396.5 1264.4,392.3 1264.8,403.4 1265.3,404.4 1265.7,394.7 1266.2,393.2 1266.6,392.9 1267.1,391.6 1267.5,404.6 1268.0,396.8 1268.4,392.7 1268.9,393.5 1269.3,399.4 1269.8,392.4 1270.2,397.9 1270.7,395.3 1271.1,406.1 1271.6,404.7 1272.0,385.0 1272.5,394.8 1272.9,401.5 1273.4,392.8 1273.8,402.5 1274.3,399.1 1274.7,401.1 1275.2,396.4 1275.6,399.3 1276.1,401.0 1276.5,386.4 1277.0,390.7 1277.4,390.2 1277.9,410.2 1278.3,400.2 1278.8,400.9 1279.2,399.6 1279.7,394.8 1280.1,393.4 1280.6,405.0 1281.0,396.5 1281.5,410.5 1281.9,400.9 1282.4,400.3 1282.8,398.3 1283.3,399.5 1283.7,400.5 1284.2,411.0 1284.6,416.7 1285.1,392.8 1285.5,402.7 1286.0,405.9 1286.4,395.1 1286.9,397.1 1287.3,398.4 1287.8,385.5 1288.2,406.2 1288.7,401.6 1289.1,401.4 1289.6,402.7 1290.0,403.9 1290.5,417.5 1290.9,403.6 1291.4,407.9 1291.8,399.2 1292.3,404.9 1292.7,400.7 1293.2,401.8 1293.6,397.1 1294.1,397.7 1294.5,405.8 1295.0,407.6 1295.4,405.9 1295.9,398.8 1296.3,405.0 1296.8,387.3 1297.2,409.0 1297.7,402.9 1298.1,404.8 1298.6,410.3 1299.0,400.7 1299.5,409.1 1299.9,400.6 1300.4,406.6 1300.8,400.9 1301.3,405.2 1301.7,412.1 1302.2,399.6 1302.6,399.9 1303.1,401.6 1303.5,405.3 1304.0,419.6 1304.4,400.2 1304.9,391.8 1305.3,399.8 1305.8,394.5 1306.2,400.5 1306.7,403.8 1307.1,398.3 1307.6,399.9 1308.0,393.2 1308.5,404.8 1308.9,399.6 1309.4,409.8 1309.8,409.6 1310.3,399.0 1310.7,401.8 1311.2,404.1 1311.6,408.0 1312.1,394.8 1312.5,403.5 1313.0,413.9 1313.4,403.4 1313.9,405.1 1314.3,403.9 1314.8,397.6 1315.2,408.9 1315.7,405.3 1316.1,404.8 1316.6,407.8 1317.0,408.1 1317.5,393.7 1317.9,406.5 1318.4,400.7 1318.8,404.7 1319.3,400.0 1319.7,399.2 1320.2,409.1 1320.6,403.8 1321.1,402.3 1321.5,402.3 1322.0,404.3 1322.4,403.7 1322.9,390.7 1323.3,399.0 1323.8,402.5 1324.2,408.0 1324.7,411.4 1325.1,398.6 1325.6,414.6 1326.0,404.3 1326.5,406.5 1326.9,400.7 1327.4,400.3 1327.8,411.9 1328.3,402.5 1328.7,403.1 1329.2,410.3 1329.6,413.6 1330.1,395.1 1330.5,402.6 1331.0,403.6 1331.4,414.1 1331.9,417.9 1332.3,403.3 1332.8,405.8 1333.2,408.6 1333.7,410.3 1334.1,401.7 1334.6,408.6 1335.0,399.4 1335.5,387.7 1335.9,395.3 1336.4,404.7 1336.8,408.1 1337.3,390.0 1337.7,392.6 1338.2,403.2 1338.6,383.1 1339.1,406.7 1339.5,409.6 1340.0,385.3 1340.4,408.0 1340.9,402.2 1341.3,412.0 1341.8,405.0 1342.2,401.8 1342.7,404.0 1343.1,409.0 1343.6,404.4 1344.0,403.5 1344.5,394.3 1344.9,406.2 1345.4,403.4 1345.8,414.7 1346.3,403.1 1346.7,402.6 1347.2,399.2 1347.6,407.7 1348.1,401.9 1348.5,398.7 1349.0,413.2 1349.4,414.4 1349.9,400.2 1350.3,396.6 1350.8,410.3 1351.2,397.7 1351.7,421.1 1352.1,402.2 1352.6,409.2 1353.0,394.7 1353.5,402.8 1353.9,410.1 1354.4,405.9 1354.8,399.5 1355.3,419.0 1355.7,407.8 1356.2,401.5 1356.6,399.0 1357.1,401.2 1357.5,411.9 1358.0,397.9 1358.4,403.2 1358.9,397.5 1359.3,411.3 1359.8,401.9 1360.2,408.7 1360.7,406.8 1361.1,399.1 1361.6,407.7 1362.0,409.3 1362.5,395.4 1362.9,407.7 1363.4,423.8 1363.8,401.1 1364.3,407.3 1364.7,394.4 1365.2,406.2 1365.6,399.4 1366.1,408.3 1366.5,403.0 1367.0,395.7 1367.4,410.6 1367.9,402.1 1368.3,397.0 1368.8,404.1 1369.2,397.5 1369.7,406.3 1370.1,403.5 1370.6,401.6 1371.0,408.3 1371.5,395.9 1371.9,410.4 1372.4,391.5 1372.8,414.6 1373.3,405.6 1373.7,402.9 1374.2,400.0 1374.6,408.2 1375.1,403.9 1375.5,403.9 1376.0,411.6 1376.4,402.5 1376.9,403.8 1377.3,408.1 1377.8,412.2 1378.2,404.7 1378.7,406.8 1379.1,406.2 1379.6,410.6 1380.0,415.3 1380.5,400.5 1380.9,405.6 1381.4,406.2 1381.8,410.3 1382.3,416.0 1382.7,406.8 1383.2,408.3 1383.6,414.0 1384.1,399.7 1384.5,402.8 1385.0,404.8 1385.4,407.7 1385.9,409.2 1386.3,404.8 1386.8,418.6 1387.2,404.0 1387.7,407.2 1388.1,415.0 1388.6,413.2 1389.0,408.7 1389.5,411.1 1389.9,413.9 1390.4,409.1 1390.8,413.1 1391.3,404.1 1391.7,410.0 1392.2,400.1 1392.6,404.6 1393.1,403.3 1393.5,417.4 1394.0,407.5 1394.4,412.1 1394.9,405.1 1395.3,409.4 1395.8,409.1 1396.2,405.9 1396.7,415.9 1397.1,401.6 1397.6,414.8 1398.0,426.5 1398.5,406.8 1398.9,411.7 1399.4,402.8 1399.8,411.6 1400.3,402.1 1400.7,415.5 1401.2,409.3 1401.6,401.8 1402.1,405.0 1402.5,403.5 1403.0,410.8 1403.4,417.2 1403.9,410.4 1404.3,406.1 1404.8,408.1 1405.2,413.4 1405.7,399.5 1406.1,416.2 1406.6,415.2 1407.0,399.7 1407.5,419.6 1407.9,404.3 1408.4,412.1 1408.8,419.7 1409.3,404.5 1409.7,403.4 1410.2,407.4 1410.6,407.7 1411.1,412.8 1411.5,410.8 1412.0,411.0 1412.4,411.1 1412.9,412.8 1413.3,409.2 1413.8,415.6 1414.2,413.9 1414.7,408.4 1415.1,423.9 1415.6,407.1 1416.0,418.1 1416.5,410.1 1416.9,416.2 1417.4,417.1 1417.8,419.0 1418.3,422.2 1418.7,409.8 1419.2,430.3 1419.6,416.8 1420.1,410.1 1420.5,407.1 1421.0,427.8 1421.4,423.9 1421.9,414.7 1422.3,419.1 1422.8,422.3 1423.2,415.5 1423.7,412.6 1424.1,414.8 1424.6,419.8 1425.0,415.3 1425.5,408.2 1425.9,419.5 1426.4,405.4 1426.8,411.0 1427.3,422.4 1427.7,416.7 1428.2,416.7 1428.6,416.0 1429.1,421.4 1429.5,415.2 1430.0,404.3 1430.4,417.0 1430.9,397.9 1431.3,403.8 1431.8,424.9 1432.2,421.7 1432.7,413.0 1433.1,415.3 1433.6,416.3 1434.0,421.7 1434.5,411.3 1434.9,410.7 1435.4,412.2 1435.8,416.8 1436.3,417.5 1436.7,413.7 1437.2,420.5 1437.6,410.0 1438.1,415.7 1438.5,412.0 1439.0,410.2 1439.4,423.5 1439.9,414.3 1440.3,410.2 1440.8,416.5 1441.2,410.3 1441.7,419.9 1442.1,421.5 1442.6,422.6 1443.0,410.1 1443.5,415.6 1443.9,427.7 1444.4,415.3 1444.8,424.3 1445.3,425.9 1445.7,408.2 1446.2,424.1 1446.6,421.3 1447.1,422.1 1447.5,427.2 1448.0,419.7 1448.4,417.4 1448.9,420.7 1449.3,414.8 1449.8,420.0 1450.2,404.6 1450.7,427.8 1451.1,413.8 1451.6,420.5 1452.0,419.1 1452.5,417.8 1452.9,417.9 1453.4,417.7 1453.8,407.0 1454.3,413.9 1454.7,424.9 1455.2,411.0 1455.6,410.8 1456.1,430.8 1456.5,425.1 1457.0,427.4 1457.4,417.5 1457.9,419.3 1458.3,422.5 1458.8,421.3 1459.2,417.2 1459.7,408.4 1460.1,413.1 1460.6,408.2 1461.0,428.0 1461.5,415.3 1461.9,416.8 1462.4,419.8 1462.8,418.1 1463.3,421.4 1463.7,414.1 1464.2,408.4 1464.6,429.3 1465.1,413.7 1465.5,415.2 1466.0,413.2 1466.4,414.8 1466.9,418.5 1467.3,423.1 1467.8,411.8 1468.2,420.3 1468.7,414.3 1469.1,426.1 1469.6,410.9 1470.0,419.3 1470.5,423.2 1470.9,410.2 1471.4,419.5 1471.8,419.7 1472.3,413.9 1472.7,417.6 1473.2,425.1 1473.6,420.6 1474.1,416.5 1474.5,417.8 1475.0,421.9 1475.4,427.1 1475.9,424.2 1476.3,423.8 1476.8,429.0 1477.2,409.9 1477.7,410.6 1478.1,405.6 1478.6,424.7 1479.0,405.6 1479.5,419.4 1479.9,424.3 1480.4,411.3 1480.8,415.8 1481.3,418.3 1481.7,424.4 1482.2,410.8 1482.6,422.0 1483.1,424.3 1483.5,421.0 1484.0,421.1 1484.4,427.8 1484.9,421.6 1485.3,420.2 1485.8,418.4 1486.2,424.4 1486.7,418.8 1487.1,424.5 1487.6,421.2 1488.0,427.4 1488.5,416.0 1488.9,421.2 1489.4,422.9 1489.8,423.4 1490.3,427.7 1490.7,423.3 1491.2,426.4 1491.6,432.7 1492.1,426.2 1492.5,414.9 1493.0,412.8 1493.4,425.3 1493.9,419.1 1494.3,423.1 1494.8,420.4 1495.2,429.2 1495.7,428.6 1496.1,415.0 1496.6,423.3 1497.0,419.9 1497.5,414.1 1497.9,425.6 1498.4,421.0 1498.8,424.5 1499.3,436.4 1499.7,429.7 1500.2,428.5 1500.6,419.7 1501.1,415.3 1501.5,429.4 1502.0,420.5 1502.4,422.5 1502.9,420.1 1503.3,422.9 1503.8,436.3 1504.2,420.6 1504.7,420.8 1505.1,423.7 1505.6,424.2 1506.0,415.7 1506.5,412.4 1506.9,419.3 1507.4,421.4 1507.8,418.2 1508.3,417.0 1508.7,417.3 1509.2,420.5 1509.6,422.1 1510.1,413.5 1510.5,419.7 1511.0,424.8 1511.4,422.1 1511.9,415.1 1512.3,420.9 1512.8,422.8 1513.2,427.3 1513.7,413.7 1514.1,426.8 1514.6,420.4 1515.0,424.2 1515.5,426.9 1515.9,418.1 1516.4,418.5 1516.8,422.5 1517.3,427.2 1517.7,420.1 1518.2,415.2 1518.6,419.3 1519.1,425.4 1519.5,429.8 1520.0,420.4 1520.4,421.5 1520.9,422.3 1521.3,422.6 1521.8,418.0 1522.2,420.9 1522.7,424.6 1523.1,424.0 1523.6,423.5 1524.0,417.8 1524.5,420.4 1524.9,419.5 1525.4,429.4 1525.8,431.7 1526.3,425.5 1526.7,432.5 1527.2,422.0 1527.6,422.0 1528.1,416.5 1528.5,425.0 1529.0,421.2 1529.4,424.3 1529.9,426.5 1530.3,422.5 1530.8,417.6 1531.2,423.6 1531.7,423.5 1532.1,424.1 1532.6,427.7 1533.0,422.8 1533.5,422.5 1533.9,433.6 1534.4,430.0 1534.8,423.6 1535.3,419.0 1535.7,421.7 1536.2,426.3 1536.6,428.8 1537.1,437.4 1537.5,422.9 1538.0,425.1 1538.4,422.4 1538.9,424.8 1539.3,422.3 1539.8,418.6 1540.2,430.0 1540.7,425.2 1541.1,431.5 1541.6,421.8 1542.0,426.0 1542.5,428.1 1542.9,414.3 1543.4,417.4 1543.8,428.7 1544.3,425.2 1544.7,414.7 1545.2,420.7 1545.6,419.0 1546.1,422.1 1546.5,433.1 1547.0,421.7 1547.4,435.8 1547.9,423.5 1548.3,420.9 1548.8,433.3 1549.2,430.0 1549.7,432.4 1550.1,435.4 1550.6,430.7 1551.0,431.6 1551.5,415.7 1551.9,420.6 1552.4,427.4 1552.8,426.2 1553.3,429.0 1553.7,422.5 1554.2,431.1 1554.6,436.0 1555.1,428.3 1555.5,429.7 1556.0,427.9 1556.4,430.2 1556.9,426.4 1557.3,422.5 1557.8,426.3 1558.2,425.8 1558.7,417.0 1559.1,426.5 1559.6,425.4 1560.0,426.4 1560.5,422.3 1560.9,427.8 1561.4,428.6 1561.8,421.5 1562.3,427.0 1562.7,429.5 1563.2,429.3 1563.6,420.3 1564.1,419.7 1564.5,425.4 1565.0,419.5 1565.4,438.8 1565.9,420.7 1566.3,420.8 1566.8,428.7 1567.2,422.5 1567.7,412.1 1568.1,424.3 1568.6,419.6 1569.0,422.1 1569.5,416.0 1569.9,419.9 1570.4,424.0 1570.8,424.5 1571.3,418.6 1571.7,420.8 1572.2,420.0 1572.6,425.6 1573.1,423.9 1573.5,417.7 1574.0,428.4 1574.4,420.7 1574.9,426.9 1575.3,419.4 1575.8,426.4 1576.2,424.0 1576.7,425.0 1577.1,427.6 1577.6,427.2 1578.0,425.6 1578.5,425.6 1578.9,417.2 1579.4,424.2 1579.8,411.8 1580.3,411.5 1580.7,422.8 1581.2,423.3 1581.6,433.5 1582.1,428.6 1582.5,431.2 1583.0,422.8 1583.4,427.3 1583.9,431.6 1584.3,427.8 1584.8,426.8 1585.2,425.3 1585.7,419.1 1586.1,419.3 1586.6,416.0 1587.0,427.2 1587.5,423.1 1587.9,420.6 1588.4,426.9 1588.8,421.2 1589.3,431.2 1589.7,436.5 1590.2,427.6 1590.6,420.5 1591.1,415.5 1591.5,437.3 1592.0,427.6 1592.4,417.5 1592.9,431.5 1593.3,414.3 1593.8,422.0 1594.2,423.3 1594.7,422.5 1595.1,417.6 1595.6,440.0 1596.0,422.3 1596.5,427.2 1596.9,425.0 1597.4,414.6 1597.8,421.3 1598.3,426.2 1598.7,430.8 1599.2,422.6 1599.6,427.2 1600.1,422.6 1600.5,428.6 1601.0,408.7 1601.4,428.7 1601.9,420.8 1602.3,421.0 1602.8,406.1 1603.2,417.8 1603.7,428.9 1604.1,440.1 1604.6,420.2 1605.0,420.4 1605.5,428.1 1605.9,426.8 1606.4,420.9 1606.8,423.7 1607.3,422.3 1607.7,429.0 1608.2,430.2 1608.6,436.7 1609.1,431.1 1609.5,429.4 1610.0,425.9 1610.4,431.3 1610.9,418.2 1611.3,439.6 1611.8,426.8 1612.2,434.6 1612.7,419.4 1613.1,432.0 1613.6,427.7 1614.0,423.6 1614.5,420.3 1614.9,418.9 1615.4,437.4 1615.8,433.5 1616.3,425.8 1616.7,426.4 1617.2,420.0 1617.6,412.3 1618.1,412.6 1618.5,420.9 1619.0,424.1 1619.4,417.0 1619.9,430.9 1620.3,429.0 1620.8,426.5 1621.2,413.1 1621.7,424.0 1622.1,425.3 1622.6,416.7 1623.0,410.2 1623.5,439.3 1623.9,430.2 1624.4,423.1 1624.8,437.3 1625.3,433.9 1625.7,429.2 1626.2,427.7 1626.6,431.7 1627.1,436.7 1627.5,426.8 1628.0,424.8 1628.4,430.7 1628.9,406.3 1629.3,427.3 1629.8,423.8 1630.2,426.7 1630.7,425.6 1631.1,429.4 1631.6,427.8 1632.0,427.6 1632.5,426.3 1632.9,430.6 1633.4,423.7 1633.8,434.6 1634.3,415.4 1634.7,429.2 1635.2,431.1 1635.6,418.6 1636.1,424.8 1636.5,437.7 1637.0,427.2 1637.4,421.8 1637.9,406.5 1638.3,430.9 1638.8,429.3 1639.2,433.1 1639.7,443.8 1640.1,428.8 1640.6,429.9 1641.0,423.9 1641.5,428.6 1641.9,428.9 1642.4,434.8 1642.8,433.4 1643.3,423.8 1643.7,426.0 1644.2,439.8 1644.6,422.5 1645.1,435.3 1645.5,442.0 1646.0,434.8 1646.4,431.9 1646.9,440.3 1647.3,432.8 1647.8,430.2 1648.2,428.8 1648.7,439.0 1649.1,435.7 1649.6,442.2 1650.0,428.1 1650.5,428.3 1650.9,427.5 1651.4,432.9 1651.8,425.7 1652.3,438.0 1652.7,433.6 1653.2,423.6 1653.6,408.6 1654.1,417.3 1654.5,442.2 1655.0,430.8 1655.4,432.5 1655.9,428.1 1656.3,434.4 1656.8,416.8 1657.2,416.2 1657.7,419.0 1658.1,432.1 1658.6,437.0 1659.0,435.3 1659.5,430.7 1659.9,421.8 1660.4,437.8 1660.8,429.5 1661.3,431.6 1661.7,431.2 1662.2,428.1 1662.6,426.1 1663.1,427.2 1663.5,421.8 1664.0,433.7 1664.4,430.4 1664.9,439.5 1665.3,417.9 1665.8,440.7 1666.2,431.2 1666.7,430.5 1667.1,425.7 1667.6,425.6 1668.0,420.5 1668.5,438.5 1668.9,430.1 1669.4,437.1 1669.8,437.9 1670.3,428.0 1670.7,430.0 1671.2,429.2 1671.6,439.2 1672.1,432.7 1672.5,432.9 1673.0,436.9 1673.4,431.2 1673.9,446.5 1674.3,425.0 1674.8,440.7 1675.2,441.8 1675.7,423.5 1676.1,437.8 1676.6,433.7 1677.0,437.8 1677.5,423.2 1677.9,433.4 1678.4,424.8 1678.8,429.3 1679.3,441.6 1679.7,430.7 1680.2,416.0 1680.6,422.0 1681.1,423.8 1681.5,438.6 1682.0,426.8 1682.4,421.0 1682.9,439.2 1683.3,433.3 1683.8,433.9 1684.2,426.2 1684.7,441.1 1685.1,430.7 1685.6,418.3 1686.0,423.9 1686.5,425.9 1686.9,430.4 1687.4,436.5 1687.8,426.7 1688.3,427.5 1688.7,445.9 1689.2,432.0 1689.6,428.0 1690.1,431.6 1690.5,423.3 1691.0,434.8 1691.4,437.6 1691.9,427.7 1692.3,437.7 1692.8,429.5 1693.2,433.2 1693.7,426.7 1694.1,426.3 1694.6,421.9 1695.0,432.7 1695.5,429.5 1695.9,429.7 1696.4,424.3 1696.8,424.1 1697.3,427.4 1697.7,434.1 1698.2,433.1 1698.6,427.1 1699.1,433.0 1699.5,441.8 1700.0,431.8 1700.4,443.2 1700.9,433.7 1701.3,439.0 1701.8,428.0 1702.2,438.0 1702.7,424.1 1703.1,432.5 1703.6,429.1 1704.0,419.4 1704.5,423.1 1704.9,437.5 1705.4,433.8 1705.8,438.4 1706.3,432.1 1706.7,414.4 1707.2,432.3 1707.6,427.7 1708.1,428.1 1708.5,428.4 1709.0,426.6 1709.4,425.5 1709.9,437.7 1710.3,433.3 1710.8,427.2 1711.2,428.5 1711.7,436.1 1712.1,432.8 1712.6,431.8 1713.0,424.1 1713.5,428.4 1713.9,424.6 1714.4,420.4 1714.8,435.4 1715.3,428.9 1715.7,428.4 1716.2,425.4 1716.6,434.6 1717.1,441.7 1717.5,433.6 1718.0,435.5 1718.4,423.8 1718.9,431.4 1719.3,431.6 1719.8,438.4 1720.2,430.4 1720.7,425.2 1721.1,429.9 1721.6,427.9 1722.0,438.0 1722.5,433.8 1722.9,432.0 1723.4,431.1 1723.8,434.6 1724.3,427.4 1724.7,425.0 1725.2,419.8 1725.6,436.3 1726.1,432.6 1726.5,433.3 1727.0,430.0 1727.4,438.8 1727.9,424.4 1728.3,436.2 1728.8,425.1 1729.2,427.1 1729.7,422.9 1730.1,430.0 1730.6,427.9 1731.0,431.7 1731.5,426.2 1731.9,421.7 1732.4,432.3 1732.8,436.2 1733.3,433.2 1733.7,428.8 1734.2,431.3 1734.6,419.8 1735.1,427.1 1735.5,435.2 1736.0,431.4 1736.4,424.1 1736.9,433.4 1737.3,428.0 1737.8,432.6 1738.2,420.9 1738.7,425.7 1739.1,430.3 1739.6,430.1 1740.0,431.4 1740.5,428.3 1740.9,427.2 1741.4,430.8 1741.8,432.9 1742.3,419.8 1742.7,426.3 1743.2,426.9 1743.6,428.8 1744.1,433.4 1744.5,420.5 1745.0,430.7 1745.4,418.2 1745.9,423.5 1746.3,424.7 1746.8,426.0 1747.2,424.1 1747.7,424.6 1748.1,425.5 1748.6,425.8 1749.0,417.1 1749.5,419.4 1749.9,424.7 1750.4,429.9 1750.8,432.5 1751.3,442.6 1751.7,427.4 1752.2,422.5 1752.6,427.7 1753.1,430.4 1753.5,427.4 1754.0,420.7 1754.4,425.9 1754.9,426.2 1755.3,418.6 1755.8,419.7 1756.2,433.0 1756.7,414.0"/>
<polyline fill="none" stroke="#00ff00" stroke-width="6.0" stroke-linejoin="round" points="143.0,523.0 143.4,524.4 143.9,524.4 144.3,524.8 144.8,527.1 145.2,522.9 145.7,524.6 146.1,523.2 146.6,527.3 147.0,532.0 147.5,529.3 147.9,532.4 148.4,522.4 148.8,532.9 149.3,528.1 149.7,544.3 150.2,540.4 150.6,542.1 151.1,536.4 151.5,542.2 152.0,543.7 152.4,536.8 152.9,536.3 153.3,540.5 153.8,536.8 154.2,537.7 154.7,541.5 155.1,537.7 155.6,554.6 156.0,529.4 156.5,557.8 156.9,541.8 157.4,543.5 157.8,534.0 158.3,550.4 158.7,549.9 159.2,556.9 159.6,547.7 160.1,557.7 160.5,584.7 161.0,564.7 161.4,550.3 161.9,575.9 162.3,559.4 162.8,572.1 163.2,573.4 163.7,558.5 164.1,535.4 164.6,561.4 165.0,576.4 165.5,563.2 165.9,576.8 166.4,586.0 166.8,564.2 167.3,591.8 167.7,598.5 168.2,591.5 168.6,593.8 169.1,593.8 169.5,611.3 170.0,583.0 170.4,581.6 170.9,591.1 171.3,571.4 171.8,563.9 172.2,574.3 172.7,592.4 173.1,594.9 173.6,569.6 174.0,566.5 174.5,588.1 174.9,590.9 175.4,593.9 175.8,604.1 176.3,612.1 176.7,600.9 177.2,606.7 177.6,587.2 178.1,587.6 178.5,605.5 179.0,611.7 179.4,613.5 179.9,613.0 180.3,616.3 180.8,617.6 181.2,590.3 181.7,602.8 182.1,616.9 182.6,619.5 183.0,598.2 183.5,627.6 183.9,611.9 184.4,615.2 184.8,621.5 185.3,627.4 185.7,606.5 186.2,631.9 186.6,623.9 187.1,616.7 187.5,622.7 188.0,605.3 188.4,621.4 188.9,630.5 189.3,623.2 189.8,627.9 190.2,630.8 190.7,633.7 191.1,643.8 191.6,635.3 192.0,634.3 192.5,642.6 192.9,657.4 193.4,636.9 193.8,645.6 194.3,628.4 194.7,654.9 195.2,650.0 195.6,656.8 196.1,646.0 196.5,638.9 197.0,656.0 197.4,655.9 197.9,643.7 198.3,639.9 198.8,656.5 199.2,652.6 199.7,675.5 200.1,651.2 200.6,652.9 201.0,657.1 201.5,646.3 201.9,653.3 202.4,673.2 202.8,660.9 203.3,658.4 203.7,654.5 204.2,668.9 204.6,670.3 205.1,668.4 205.5,664.7 206.0,670.5 206.4,672.0 206.9,665.3 207.3,675.7 207.8,656.2 208.2,663.1 208.7,671.5 209.1,674.0 209.6,666.4 210.0,679.5 210.5,686.6 210.9,682.6 211.4,681.6 211.8,688.0 212.3,685.3 212.7,672.1 213.2,681.7 213.6,696.7 214.1,674.6 214.5,687.0 215.0,683.5 215.4,679.3 215.9,678.9 216.3,691.1 216.8,694.3 217.2,695.1 217.7,677.1 218.1,690.3 218.6,698.1 219.0,705.7 219.5,703.5 219.9,706.2 220.4,710.1 220.8,707.7 221.3,688.9 221.7,700.0 222.2,691.1 222.6,670.8 223.1,679.8 223.5,727.9 224.0,687.5 224.4,673.1 224.9,694.9 225.3,723.2 225.8,702.6 226.2,709.0 226.7,699.9 227.1,702.7 227.6,721.8 228.0,715.4 228.5,702.9 228.9,717.1 229.4,719.9 229.8,701.1 230.3,708.3 230.7,708.1 231.2,694.3 231.6,721.9 232.1,701.8 232.5,694.8 233.0,678.3 233.4,684.6 233.9,728.5 234.3,686.3 234.8,711.3 235.2,698.5 235.7,712.8 236.1,714.4 236.6,691.7 237.0,699.8 237.5,706.4 237.9,706.8 238.4,704.6 238.8,700.1 239.3,716.6 239.7,728.5 240.2,716.0 240.6,695.8 241.1,715.1 241.5,710.8 242.0,718.2 242.4,740.4 242.9,710.7 243.3,715.2 243.8,704.2 244.2,714.5 244.7,712.3 245.1,743.5 245.6,727.4 246.0,717.4 246.5,751.0 246.9,710.9 247.4,739.4 247.8,742.1 248.3,737.6 248.7,728.6 249.2,730.8 249.6,729.0 250.1,741.6 250.5,708.4 251.0,728.1 251.4,735.4 251.9,727.5 252.3,714.1 252.8,731.1 253.2,725.5 253.7,742.3 254.1,748.7 254.6,734.1 255.0,712.1 255.5,731.0 255.9,722.8 256.4,740.3 256.8,751.2 257.3,736.0 257.7,754.8 258.2,748.9 258.6,739.7 259.1,722.3 259.5,733.9 260.0,716.6 260.4,744.1 260.9,733.7 261.3,747.6 261.8,735.4 262.2,710.3 262.7,739.2 263.1,742.2 263.6,750.3 264.0,720.5 264.5,720.9 264.9,731.9 265.4,719.1 265.8,715.2 266.3,718.2 266.7,759.8 267.2,723.1 267.6,718.5 268.1,724.7 268.5,729.7 269.0,744.3 269.4,740.3 269.9,738.4 270.3,729.8 270.8,731.1 271.2,721.9 271.7,711.9 272.1,752.7 272.6,724.1 273.0,740.7 273.5,726.0 273.9,728.6 274.4,728.1 274.8,715.2 275.3,729.3 275.7,734.3 276.2,739.1 276.6,735.9 277.1,741.4 277.5,734.4 278.0,731.8 278.4,713.3 278.9,727.5 279.3,747.5 279.8,734.5 280.2,741.0 280.7,732.3 281.1,728.7 281.6,752.9 282.0,738.6 282.5,748.6 282.9,740.9 283.4,734.5 283.8,719.4 284.3,738.6 284.7,726.1 285.2,721.8 285.6,748.4 286.1,744.9 286.5,744.6 287.0,740.7 287.4,740.5 287.9,744.0 288.3,742.5 288.8,742.2 289.2,746.8 289.7,726.9 290.1,748.0 290.6,738.9 291.0,748.0 291.5,749.9 291.9,738.5 292.4,747.7 292.8,747.6 293.3,739.7 293.7,740.6 294.2,743.9 294.6,731.4 295.1,740.8 295.5,744.2 296.0,740.6 296.4,733.9 296.9,740.6 297.3,751.6 297.8,750.4 298.2,741.7 298.7,737.4 299.1,742.0 299.6,742.0 300.0,737.5 300.5,739.4 300.9,745.4 301.4,747.3 301.8,724.7 302.3,747.3 302.7,741.4 303.2,748.1 303.6,739.8 304.1,742.8 304.5,751.2 305.0,717.7 305.4,750.5 305.9,740.1 306.3,724.8 306.8,717.9 307.2,740.2 307.7,729.6 308.1,745.1 308.6,738.7 309.0,735.7 309.5,744.5 309.9,737.8 310.4,742.0 310.8,742.6 311.3,738.1 311.7,741.8 312.2,741.6 312.6,722.8 313.1,732.0 313.5,733.1 314.0,730.6 314.4,719.5 314.9,728.4 315.3,736.4 315.8,734.9 316.2,746.8 316.7,727.2 317.1,728.6 317.6,727.1 318.0,729.3 318.5,726.5 318.9,714.9 319.4,734.7 319.8,740.3 320.3,741.3 320.7,721.3 321.2,729.1 321.6,747.2 322.1,729.5 322.5,733.4 323.0,728.8 323.4,738.9 323.9,738.3 324.3,750.1 324.8,733.8 325.2,733.2 325.7,718.4 326.1,725.3 326.6,722.6 327.0,725.7 327.5,717.0 327.9,738.7 328.4,718.9 328.8,730.2 329.3,716.8 329.7,730.5 330.2,741.5 330.6,720.1 331.1,730.1 331.5,726.2 332.0,729.0 332.4,730.0 332.9,720.8 333.3,724.5 333.8,720.9 334.2,718.7 334.7,715.1 335.1,733.4 335.6,718.9 336.0,730.5 336.5,729.3 336.9,716.2 337.4,733.0 337.8,716.9 338.3,729.1 338.7,735.8 339.2,717.5 339.6,715.4 340.1,715.1 340.5,742.1 341.0,719.4 341.4,711.6 341.9,729.0 342.3,720.3 342.8,721.3 343.2,712.8 343.7,702.0 344.1,714.5 344.6,711.5 345.0,706.3 345.5,710.6 345.9,711.5 346.4,726.4 346.8,725.3 347.3,723.4 347.7,714.0 348.2,707.4 348.6,720.8 349.1,722.0 349.5,726.5 350.0,717.2 350.4,716.1 350.9,719.7 351.3,708.5 351.8,709.4 352.2,722.0 352.7,704.8 353.1,715.2 353.6,722.7 354.0,717.6 354.5,719.2 354.9,705.1 355.4,713.8 355.8,712.3 356.3,720.1 356.7,718.3 357.2,714.6 357.6,731.6 358.1,719.1 358.5,711.4 359.0,708.2 359.4,713.4 359.9,708.5 360.3,728.3 360.8,718.5 361.2,710.6 361.7,707.6 362.1,703.9 362.6,710.7 363.0,724.0 363.5,719.9 363.9,712.4 364.4,713.9 364.8,697.7 365.3,718.6 365.7,710.7 366.2,723.0 366.6,710.9 367.1,708.5 367.5,713.7 368.0,707.3 368.4,721.7 368.9,713.9 369.3,714.4 369.8,714.0 370.2,709.2 370.7,714.8 371.1,712.7 371.6,723.0 372.0,711.8 372.5,713.7 372.9,708.4 373.4,708.9 373.8,709.3 374.3,718.9 374.7,711.6 375.2,716.7 375.6,709.6 376.1,709.0 376.5,700.4 377.0,715.4 377.4,721.8 377.9,709.7 378.3,718.2 378.8,715.1 379.2,707.5 379.7,714.5 380.1,706.5 380.6,709.4 381.0,716.2 381.5,711.4 381.9,705.3 382.4,717.5 382.8,705.4 383.3,710.0 383.7,709.0 384.2,710.0 384.6,706.2 385.1,701.8 385.5,721.4 386.0,705.4 386.4,705.7 386.9,696.1 387.3,711.5 387.8,719.2 388.2,720.1 388.7,729.3 389.1,721.2 389.6,713.9 390.0,711.3 390.5,721.4 390.9,711.0 391.4,712.7 391.8,704.1 392.3,712.1 392.7,726.7 393.2,710.8 393.6,714.6 394.1,691.7 394.5,722.6 395.0,714.6 395.4,723.6 395.9,713.6 396.3,703.9 396.8,699.2 397.2,716.0 397.7,711.1 398.1,702.2 398.6,710.7 399.0,705.1 399.5,718.3 399.9,707.1 400.4,698.8 400.8,710.2 401.3,705.2 401.7,726.4 402.2,706.0 402.6,696.7 403.1,710.1 403.5,707.8 404.0,713.4 404.4,712.7 404.9,699.3 405.3,709.7 405.8,709.0 406.2,697.5 406.7,704.0 407.1,711.8 407.6,693.3 408.0,698.4 408.5,704.6 408.9,708.2 409.4,714.0 409.8,695.4 410.3,711.5 410.7,714.4 411.2,723.1 411.6,704.0 412.1,699.2 412.5,693.3 413.0,712.7 413.4,719.3 413.9,700.9 414.3,711.1 414.8,714.8 415.2,715.5 415.7,703.2 416.1,712.4 416.6,706.2 417.0,698.4 417.5,708.8 417.9,709.5 418.4,698.2 418.8,710.0 419.3,722.7 419.7,693.7 420.2,711.7 420.6,713.3 421.1,706.2 421.5,708.3 422.0,703.5 422.4,716.1 422.9,698.2 423.3,704.3 423.8,690.6 424.2,707.6 424.7,707.9 425.1,692.7 425.6,698.6 426.0,708.7 426.5,701.3 426.9,695.7 427.4,685.4 427.8,707.9 428.3,720.8 428.7,701.5 429.2,708.9 429.6,708.9 430.1,704.8 430.5,706.4 431.0,706.7 431.4,698.3 431.9,728.0 432.3,730.3 432.8,709.1 433.2,722.7 433.7,699.1 434.1,704.7 434.6,717.5 435.0,696.3 435.5,694.9 435.9,710.8 436.4,688.4 436.8,724.8 437.3,715.5 437.7,710.7 438.2,715.3 438.6,699.5 439.1,699.2 439.5,717.7 440.0,719.1 440.4,711.0 440.9,709.1 441.3,704.0 441.8,725.0 442.2,693.8 442.7,700.7 443.1,704.3 443.6,693.3 444.0,695.5 444.5,698.8 444.9,722.2 445.4,731.5 445.8,714.8 446.3,691.7 446.7,703.5 447.2,709.1 447.6,707.5 448.1,706.2 448.5,716.6 449.0,687.8 449.4,703.6 449.9,712.6 450.3,718.2 450.8,713.1 451.2,709.9 451.7,707.9 452.1,701.8 452.6,710.0 453.0,706.5 453.5,700.8 453.9,721.4 454.4,720.9 454.8,703.7 455.3,714.0 455.7,719.9 456.2,709.6 456.6,707.8 457.1,711.3 457.5,688.5 458.0,690.5 458.4,710.5 458.9,707.5 459.3,718.4 459.8,699.0 460.2,714.8 460.7,714.0 461.1,722.7 461.6,694.8 462.0,698.9 462.5,704.8 462.9,704.4 463.4,691.9 463.8,695.8 464.3,688.6 464.7,722.8 465.2,700.0 465.6,700.4 466.1,694.6 466.5,700.4 467.0,707.3 467.4,696.9 467.9,699.6 468.3,719.4 468.8,708.0 469.2,701.9 469.7,696.0 470.1,699.6 470.6,693.2 471.0,702.4 471.5,694.0 471.9,693.6 472.4,696.6 472.8,690.7 473.3,702.3 473.7,723.5 474.2,695.3 474.6,686.0 475.1,710.0 475.5,700.6 476.0,719.8 476.4,705.4 476.9,710.7 477.3,695.4 477.8,688.1 478.2,701.3 478.7,709.4 479.1,695.6 479.6,689.2 480.0,698.6 480.5,700.3 480.9,701.6 481.4,704.6 481.8,727.3 482.3,705.7 482.7,701.1 483.2,695.9 483.6,713.7 484.1,691.8 484.5,720.3 485.0,706.9 485.4,693.2 485.9,709.2 486.3,706.6 486.8,719.3 487.2,693.9 487.7,710.1 488.1,708.1 488.6,717.1 489.0,697.8 489.5,701.2 489.9,727.3 490.4,714.0 490.8,694.8 491.3,711.9 491.7,701.3 492.2,702.2 492.6,697.2 493.1,718.1 493.5,703.6 494.0,710.6 494.4,709.4 494.9,694.1 495.3,701.5 495.8,715.8 496.2,693.5 496.7,710.7 497.1,707.3 497.6,714.4 498.0,714.7 498.5,716.0 498.9,708.6 499.4,710.4 499.8,701.1 500.3,702.6 500.7,716.3 501.2,701.9 501.6,717.3 502.1,716.9 502.5,699.6 503.0,712.5 503.4,699.3 503.9,710.2 504.3,699.4 504.8,709.9 505.2,708.2 505.7,696.5 506.1,726.0 506.6,715.5 507.0,690.7 507.5,709.3 507.9,701.7 508.4,725.4 508.8,705.0 509.3,709.3 509.7,703.6 510.2,711.3 510.6,699.9 511.1,696.2 511.5,700.0 512.0,700.5 512.4,710.5 512.9,705.1 513.3,699.8 513.8,700.0 514.2,694.8 514.7,704.8 515.1,683.4 515.6,700.9 516.0,714.6 516.5,699.0 516.9,695.8 517.4,702.5 517.8,692.5 518.3,693.9 518.7,708.1 519.2,694.5 519.6,720.5 520.1,705.8 520.5,698.9 521.0,693.3 521.4,696.6 521.9,675.4 522.3,701.1 522.8,707.5 523.2,703.8 523.7,692.9 524.1,703.6 524.6,703.5 525.0,695.0 525.5,699.7 525.9,706.7 526.4,700.1 526.8,690.8 527.3,694.6 527.7,695.7 528.2,676.3 528.6,694.7 529.1,691.6 529.5,668.9 530.0,673.4 530.4,711.7 530.9,692.6 531.3,706.1 531.8,686.6 532.2,707.6 532.7,696.5 533.1,682.1 533.6,692.6 534.0,706.9 534.5,716.0 534.9,694.5 535.4,683.3 535.8,678.3 536.3,695.4 536.7,699.6 537.2,688.8 537.6,685.8 538.1,695.6 538.5,691.7 539.0,690.4 539.4,669.7 539.9,682.2 540.3,705.2 540.8,685.0 541.2,710.0 541.7,688.6 542.1,681.5 542.6,687.0 543.0,690.0 543.5,676.5 543.9,685.8 544.4,679.1 544.8,697.0 545.3,678.2 545.7,683.5 546.2,667.8 546.6,669.0 547.1,680.7 547.5,672.8 548.0,678.3 548.4,682.9 548.9,685.6 549.3,667.7 549.8,678.4 550.2,685.6 550.7,673.6 551.1,668.0 551.6,673.0 552.0,692.5 552.5,678.6 552.9,691.5 553.4,675.3 553.8,687.9 554.3,664.9 554.7,674.9 555.2,677.7 555.6,692.1 556.1,680.5 556.5,686.0 557.0,672.2 557.4,671.9 557.9,686.8 558.3,688.0 558.8,686.0 559.2,685.5 559.7,669.7 560.1,693.8 560.6,675.5 561.0,685.3 561.5,680.3 561.9,657.0 562.4,654.9 562.8,657.7 563.3,672.0 563.7,682.7 564.2,669.6 564.6,679.6 565.1,659.7 565.5,665.2 566.0,662.3 566.4,670.9 566.9,659.3 567.3,669.1 567.8,675.5 568.2,665.0 568.7,660.5 569.1,664.5 569.6,656.7 570.0,658.2 570.5,676.1 570.9,671.2 571.4,653.2 571.8,664.5 572.3,671.5 572.7,674.8 573.2,672.9 573.6,676.0 574.1,665.4 574.5,665.3 575.0,662.7 575.4,676.0 575.9,673.3 576.3,682.4 576.8,675.3 577.2,655.3 577.7,648.2 578.1,648.7 578.6,653.4 579.0,668.5 579.5,647.5 579.9,640.7 580.4,659.3 580.8,669.1 581.3,668.4 581.7,677.2 582.2,659.3 582.6,653.5 583.1,655.8 583.5,644.8 584.0,651.2 584.4,671.0 584.9,679.1 585.3,670.1 585.8,659.7 586.2,653.7 586.7,658.4 587.1,635.9 587.6,661.0 588.0,662.8 588.5,652.9 588.9,654.1 589.4,635.8 589.8,661.3 590.3,660.9 590.7,623.4 591.2,645.8 591.6,655.1 592.1,668.5 592.5,641.6 593.0,649.8 593.4,665.2 593.9,654.4 594.3,646.7 594.8,644.0 595.2,648.6 595.7,639.5 596.1,658.1 596.6,638.0 597.0,652.6 597.5,656.1 597.9,658.5 598.4,647.0 598.8,645.6 599.3,648.6 599.7,645.7 600.2,655.7 600.6,643.1 601.1,663.3 601.5,671.7 602.0,636.3 602.4,646.5 602.9,630.3 603.3,649.1 603.8,645.2 604.2,638.4 604.7,629.7 605.1,639.9 605.6,659.1 606.0,654.6 606.5,642.0 606.9,631.7 607.4,637.0 607.8,628.9 608.3,623.1 608.7,626.5 609.2,641.1 609.6,637.7 610.1,635.9 610.5,623.1 611.0,619.7 611.4,642.3 611.9,628.7 612.3,642.9 612.8,624.0 613.2,639.8 613.7,632.3 614.1,625.5 614.6,625.0 615.0,646.3 615.5,636.6 615.9,625.0 616.4,628.4 616.8,612.0 617.3,641.5 617.7,637.9 618.2,620.9 618.6,628.2 619.1,598.1 619.5,631.6 620.0,626.4 620.4,623.8 620.9,628.3 621.3,622.8 621.8,610.4 622.2,612.2 622.7,616.2 623.1,625.4 623.6,616.6 624.0,609.4 624.5,618.1 624.9,602.7 625.4,632.4 625.8,615.3 626.3,602.6 626.7,612.4 627.2,620.1 627.6,614.3 628.1,627.4 628.5,594.7 629.0,621.7 629.4,606.0 629.9,613.7 630.3,620.6 630.8,592.9 631.2,590.1 631.7,598.9 632.1,586.4 632.6,582.4 633.0,601.1 633.5,610.5 633.9,594.6 634.4,603.0 634.8,628.2 635.3,600.2 635.7,593.6 636.2,594.4 636.6,599.3 637.1,592.1 637.5,600.7 638.0,595.7 638.4,601.8 638.9,594.1 639.3,591.5 639.8,583.2 640.2,578.5 640.7,588.4 641.1,587.0 641.6,592.9 642.0,589.2 642.5,585.9 642.9,610.6 643.4,591.9 643.8,600.1 644.3,578.5 644.7,597.5 645.2,598.8 645.6,591.7 646.1,578.6 646.5,598.8 647.0,579.6 647.4,571.3 647.9,570.4 648.3,586.4 648.8,580.7 649.2,593.0 649.7,591.5 650.1,598.0 650.6,587.8 651.0,585.3 651.5,584.1 651.9,576.1 652.4,575.4 652.8,576.1 653.3,585.3 653.7,574.4 654.2,581.6 654.6,592.9 655.1,558.4 655.5,573.1 656.0,571.6 656.4,581.0 656.9,566.0 657.3,573.9 657.8,603.0 658.2,566.3 658.7,578.8 659.1,581.4 659.6,576.0 660.0,566.6 660.5,588.4 660.9,558.7 661.4,567.9 661.8,574.9 662.3,570.5 662.7,588.2 663.2,572.8 663.6,594.6 664.1,574.9 664.5,590.0 665.0,578.2 665.4,571.0 665.9,570.1 666.3,582.6 666.8,566.5 667.2,571.0 667.7,562.9 668.1,549.9 668.6,575.1 669.0,575.4 669.5,556.6 669.9,572.7 670.4,565.0 670.8,548.1 671.3,557.1 671.7,572.3 672.2,575.4 672.6,568.6 673.1,591.6 673.5,567.1 674.0,555.8 674.4,548.3 674.9,576.8 675.3,557.1 675.8,557.6 676.2,552.8 676.7,552.5 677.1,556.5 677.6,564.1 678.0,564.6 678.5,562.3 678.9,567.8 679.4,553.6 679.8,548.2 680.3,557.3 680.7,537.8 681.2,565.6 681.6,562.2 682.1,562.2 682.5,546.5 683.0,552.1 683.4,556.9 683.9,546.9 684.3,545.9 684.8,554.4 685.2,557.9 685.7,549.6 686.1,566.8 686.6,579.2 687.0,562.3 687.5,554.3 687.9,552.7 688.4,573.5 688.8,559.4 689.3,562.8 689.7,558.6 690.2,549.6 690.6,573.2 691.1,553.2 691.5,557.7 692.0,530.8 692.4,581.5 692.9,564.8 693.3,554.6 693.8,546.1 694.2,548.2 694.7,534.5 695.1,561.5 695.6,544.6 696.0,561.0 696.5,561.4 696.9,580.5 697.4,558.4 697.8,559.5 698.3,562.3 698.7,547.2 699.2,552.3 699.6,560.1 700.1,571.6 700.5,566.0 701.0,552.0 701.4,573.0 701.9,550.5 702.3,534.0 702.8,578.5 703.2,556.3 703.7,549.3 704.1,538.3 704.6,549.6 705.0,581.6 705.5,555.4 705.9,589.9 706.4,556.9 706.8,573.4 707.3,557.1 707.7,549.9 708.2,550.5 708.6,552.9 709.1,539.3 709.5,539.1 710.0,562.2 710.4,574.8 710.9,559.4 711.3,558.0 711.8,544.6 712.2,573.2 712.7,572.1 713.1,541.8 713.6,558.8 714.0,553.4 714.5,537.9 714.9,579.8 715.4,574.1 715.8,562.7 716.3,577.2 716.7,552.1 717.2,562.5 717.6,576.5 718.1,555.4 718.5,563.2 719.0,547.2 719.4,567.8 719.9,574.2 720.3,547.8 720.8,550.3 721.2,559.2 721.7,577.2 722.1,554.2 722.6,550.5 723.0,559.3 723.5,574.1 723.9,542.9 724.4,558.9 724.8,576.2 725.3,560.8 725.7,558.1 726.2,571.1 726.6,548.0 727.1,584.5 727.5,567.1 728.0,557.7 728.4,562.9 728.9,561.4 729.3,559.0 729.8,548.7 730.2,559.7 730.7,543.4 731.1,578.2 731.6,550.2 732.0,554.8 732.5,554.2 732.9,571.4 733.4,561.2 733.8,579.9 734.3,558.6 734.7,565.7 735.2,563.4 735.6,560.5 736.1,577.3 736.5,578.8 737.0,579.9 737.4,549.2 737.9,569.3 738.3,552.5 738.8,552.4 739.2,545.0 739.7,555.1 740.1,573.1 740.6,582.6 741.0,586.8 741.5,556.3 741.9,559.7 742.4,569.9 742.8,569.1 743.3,570.1 743.7,547.2 744.2,565.7 744.6,575.0 745.1,571.4 745.5,567.1 746.0,560.1 746.4,567.7 746.9,588.0 747.3,575.1 747.8,581.9 748.2,589.3 748.7,556.7 749.1,577.8 749.6,575.5 750.0,585.8 750.5,567.4 750.9,567.8 751.4,562.9 751.8,572.7 752.3,567.6 752.7,569.2 753.2,574.8 753.6,566.9 754.1,561.0 754.5,567.0 755.0,565.6 755.4,576.4 755.9,585.3 756.3,568.4 756.8,546.2 757.2,578.5 757.7,571.8 758.1,562.9 758.6,570.2 759.0,591.8 759.5,557.9 759.9,561.5 760.4,572.6 760.8,542.6 761.3,568.9 761.7,583.0 762.2,578.9 762.6,577.3 763.1,570.7 763.5,572.4 764.0,599.5 764.4,576.2 764.9,586.4 765.3,562.8 765.8,576.4 766.2,577.5 766.7,575.6 767.1,555.4 767.6,570.6 768.0,586.7 768.5,578.9 768.9,567.6 769.4,581.4 769.8,558.6 770.3,578.7 770.7,576.6 771.2,568.8 771.6,565.4 772.1,560.1 772.5,571.4 773.0,586.9 773.4,579.7 773.9,575.8 774.3,579.8 774.8,567.0 775.2,575.9 775.7,547.0 776.1,566.7 776.6,566.3 777.0,569.2 777.5,567.8 777.9,573.6 778.4,562.7 778.8,575.2 779.3,564.4 779.7,573.2 780.2,565.7 780.6,571.0 781.1,566.6 781.5,556.0 782.0,561.5 782.4,546.9 782.9,557.1 783.3,558.2 783.8,550.3 784.2,549.0 784.7,556.7 785.1,556.0 785.6,554.9 786.0,533.5 786.5,531.2 786.9,538.3 787.4,534.9 787.8,505.3 788.3,535.6 788.7,523.1 789.2,495.7 789.6,513.3 790.1,494.1 790.5,493.0 791.0,481.7 791.4,481.2 791.9,484.5 792.3,489.5 792.8,479.7 793.2,492.5 793.7,490.0 794.1,496.2 794.6,497.6 795.0,505.2 795.5,532.2 795.9,505.6 796.4,513.4 796.8,530.3 797.3,530.3 797.7,528.7 798.2,547.0 798.6,534.4 799.1,549.2 799.5,561.7 800.0,560.3 800.4,553.9 800.9,559.0 801.3,562.6 801.8,568.8 802.2,554.3 802.7,578.8 803.1,574.8 803.6,587.7 804.0,578.1 804.5,581.1 804.9,540.0 805.4,567.4 805.8,592.7 806.3,577.7 806.7,569.4 807.2,582.4 807.6,576.5 808.1,580.4 808.5,568.7 809.0,582.8 809.4,594.1 809.9,580.6 810.3,583.2 810.8,570.9 811.2,584.4 811.7,574.8 812.1,564.4 812.6,575.2 813.0,577.5 813.5,586.7 813.9,591.4 814.4,578.5 814.8,576.9 815.3,588.4 815.7,571.0 816.2,577.6 816.6,578.9 817.1,579.8 817.5,575.0 818.0,600.7 818.4,593.1 818.9,580.2 819.3,565.5 819.8,576.4 820.2,589.2 820.7,559.6 821.1,611.5 821.6,581.5 822.0,581.8 822.5,589.9 822.9,565.6 823.4,583.2 823.8,582.4 824.3,590.9 824.7,570.4 825.2,589.9 825.6,596.6 826.1,585.9 826.5,575.8 827.0,572.1 827.4,560.9 827.9,575.3 828.3,588.2 828.8,600.2 829.2,594.6 829.7,596.5 830.1,576.2 830.6,576.6 831.0,563.1 831.5,573.5 831.9,567.8 832.4,578.6 832.8,589.8 833.3,580.0 833.7,577.4 834.2,589.9 834.6,600.0 835.1,594.7 835.5,560.2 836.0,602.8 836.4,575.6 836.9,563.1 837.3,576.5 837.8,593.4 838.2,547.7 838.7,597.1 839.1,583.5 839.6,587.7 840.0,563.6 840.5,573.7 840.9,566.4 841.4,595.1 841.8,570.7 842.3,584.9 842.7,572.0 843.2,559.5 843.6,591.0 844.1,594.8 844.5,598.6 845.0,572.9 845.4,580.3 845.9,588.3 846.3,583.7 846.8,582.1 847.2,608.4 847.7,574.1 848.1,590.2 848.6,572.6 849.0,596.7 849.5,575.8 849.9,566.8 850.4,588.2 850.8,579.5 851.3,574.0 851.7,575.9 852.2,571.0 852.6,585.0 853.1,582.6 853.5,599.1 854.0,570.0 854.4,596.0 854.9,585.1 855.3,560.8 855.8,596.7 856.2,556.3 856.7,584.4 857.1,555.1 857.6,581.5 858.0,573.5 858.5,574.7 858.9,554.4 859.4,568.6 859.8,592.5 860.3,585.6 860.7,577.3 861.2,576.6 861.6,570.5 862.1,595.2 862.5,577.9 863.0,590.9 863.4,561.3 863.9,560.7 864.3,593.7 864.8,568.6 865.2,576.2 865.7,583.7 866.1,588.5 866.6,585.3 867.0,584.4 867.5,595.8 867.9,581.2 868.4,588.0 868.8,578.9 869.3,580.1 869.7,597.8 870.2,575.8 870.6,553.0 871.1,579.1 871.5,580.2 872.0,596.2 872.4,574.7 872.9,567.2 873.3,579.4 873.8,595.5 874.2,574.9 874.7,589.8 875.1,582.6 875.6,583.8 876.0,570.4 876.5,578.5 876.9,570.7 877.4,577.7 877.8,571.6 878.3,586.9 878.7,573.0 879.2,575.4 879.6,558.9 880.1,569.2 880.5,596.8 881.0,573.9 881.4,563.9 881.9,576.7 882.3,574.8 882.8,572.4 883.2,574.0 883.7,572.3 884.1,584.4 884.6,565.5 885.0,577.9 885.5,583.5 885.9,567.6 886.4,596.5 886.8,575.9 887.3,574.3 887.7,569.7 888.2,582.5 888.6,559.1 889.1,580.3 889.5,596.6 890.0,577.7 890.4,582.7 890.9,564.5 891.3,582.1 891.8,565.6 892.2,568.9 892.7,573.5 893.1,594.2 893.6,566.7 894.0,551.4 894.5,574.3 894.9,581.6 895.4,580.2 895.8,575.2 896.3,588.4 896.7,582.8 897.2,582.2 897.6,567.1 898.1,554.4 898.5,591.7 899.0,561.2 899.4,587.8 899.9,586.5 900.3,556.9 900.8,563.4 901.2,577.0 901.7,584.2 902.1,559.0 902.6,567.7 903.0,557.8 903.5,555.3 903.9,572.7 904.4,565.1 904.8,544.8 905.3,576.7 905.7,566.4 906.2,566.3 906.6,554.3 907.1,580.9 907.5,575.7 908.0,575.7 908.4,571.1 908.9,576.7 909.3,592.5 909.8,574.7 910.2,575.6 910.7,567.0 911.1,581.2 911.6,570.1 912.0,564.2 912.5,587.7 912.9,571.6 913.4,563.0 913.8,565.3 914.3,567.8 914.7,561.1 915.2,592.4 915.6,582.0 916.1,558.4 916.5,589.5 917.0,570.9 917.4,578.7 917.9,571.1 918.3,580.9 918.8,580.6 919.2,585.3 919.7,586.1 920.1,545.8 920.6,570.3 921.0,575.9 921.5,573.8 921.9,559.1 922.4,571.7 922.8,573.9 923.3,552.3 923.7,565.9 924.2,584.3 924.6,567.2 925.1,573.7 925.5,575.7 926.0,581.4 926.4,584.0 926.9,587.7 927.3,577.0 927.8,578.0 928.2,574.1 928.7,577.9 929.1,574.3 929.6,584.1 930.0,583.5 930.5,559.8 930.9,549.6 931.4,580.0 931.8,569.0 932.3,557.4 932.7,585.3 933.2,591.3 933.6,561.4 934.1,563.3 934.5,566.1 935.0,564.5 935.4,571.8 935.9,560.2 936.3,572.3 936.8,567.7 937.2,583.4 937.7,570.3 938.1,580.9 938.6,587.2 939.0,575.9 939.5,576.9 939.9,563.7 940.4,568.7 940.8,593.3 941.3,582.6 941.7,567.2 942.2,561.7 942.6,563.7 943.1,576.6 943.5,541.2 944.0,565.7 944.4,547.6 944.9,576.8 945.3,544.6 945.8,569.3 946.2,555.1 946.7,557.5 947.1,574.4 947.6,555.2 948.0,561.8 948.5,557.5 948.9,539.8 949.4,551.1 949.8,561.3 950.3,553.7 950.7,551.4 951.2,541.0 951.6,565.1 952.1,542.0 952.5,567.3 953.0,549.9 953.4,555.6 953.9,533.0 954.3,549.9 954.8,539.1 955.2,550.9 955.7,563.8 956.1,555.5 956.6,555.4 957.0,564.2 957.5,542.0 957.9,557.1 958.4,550.6 958.8,570.0 959.3,551.9 959.7,577.8 960.2,583.4 960.6,540.3 961.1,562.3 961.5,548.1 962.0,579.1 962.4,557.7 962.9,574.5 963.3,572.0 963.8,559.7 964.2,554.2 964.7,582.9 965.1,565.5 965.6,575.3 966.0,588.1 966.5,573.5 966.9,571.2 967.4,564.2 967.8,580.3 968.3,567.4 968.7,558.8 969.2,570.7 969.6,570.7 970.1,560.7 970.5,575.5 971.0,586.9 971.4,584.7 971.9,600.2 972.3,591.2 972.8,582.5 973.2,559.0 973.7,582.7 974.1,593.3 974.6,578.1 975.0,596.0 975.5,571.9 975.9,584.4 976.4,590.5 976.8,599.6 977.3,581.8 977.7,602.7 978.2,579.0 978.6,564.4 979.1,581.8 979.5,597.3 980.0,579.8 980.4,600.3 980.9,581.4 981.3,603.1 981.8,561.1 982.2,607.4 982.7,563.0 983.1,583.4 983.6,572.0 984.0,587.5 984.5,582.1 984.9,581.4 985.4,591.0 985.8,594.4 986.3,581.2 986.7,597.4 987.2,566.9 987.6,573.7 988.1,570.6 988.5,589.8 989.0,594.3 989.4,580.3 989.9,578.1 990.3,572.1 990.8,591.9 991.2,596.8 991.7,578.8 992.1,582.7 992.6,580.3 993.0,584.3 993.5,589.5 993.9,560.5 994.4,578.6 994.8,593.2 995.3,574.4 995.7,598.1 996.2,599.7 996.6,573.7 997.1,575.3 997.5,598.6 998.0,565.7 998.4,572.1 998.9,565.6 999.3,584.0 999.8,587.6 1000.2,589.1 1000.7,586.7 1001.1,567.6 1001.6,596.8 1002.0,582.6 1002.5,578.7 1002.9,602.9 1003.4,584.6 1003.8,587.2 1004.3,592.7 1004.7,606.4 1005.2,582.8 1005.6,591.0 1006.1,555.6 1006.5,571.4 1007.0,607.1 1007.4,606.4 1007.9,581.1 1008.3,572.3 1008.8,566.7 1009.2,568.7 1009.7,576.1 1010.1,562.4 1010.6,581.8 1011.0,581.1 1011.5,568.4 1011.9,567.6 1012.4,569.2 1012.8,577.5 1013.3,580.8 1013.7,590.5 1014.2,562.4 1014.6,579.5 1015.1,584.3 1015.5,587.9 1016.0,594.5 1016.4,579.2 1016.9,599.5 1017.3,612.6 1017.8,590.1 1018.2,603.9 1018.7,597.0 1019.1,590.7 1019.6,582.7 1020.0,588.7 1020.5,611.1 1020.9,586.7 1021.4,576.3 1021.8,579.9 1022.3,596.0 1022.7,578.4 1023.2,598.0 1023.6,595.8 1024.1,589.7 1024.5,607.8 1025.0,570.6 1025.4,580.2 1025.9,585.0 1026.3,592.3 1026.8,570.3 1027.2,580.2 1027.7,604.1 1028.1,582.4 1028.6,599.3 1029.0,584.5 1029.5,577.9 1029.9,594.2 1030.4,604.5 1030.8,587.0 1031.3,570.4 1031.7,577.3 1032.2,581.6 1032.6,584.1 1033.1,574.9 1033.5,597.0 1034.0,573.1 1034.4,601.3 1034.9,573.0 1035.3,574.0 1035.8,603.7 1036.2,597.9 1036.7,582.9 1037.1,579.2 1037.6,584.6 1038.0,588.6 1038.5,591.6 1038.9,603.5 1039.4,575.6 1039.8,588.1 1040.3,589.0 1040.7,567.2 1041.2,606.1 1041.6,614.1 1042.1,588.0 1042.5,560.6 1043.0,575.2 1043.4,603.0 1043.9,555.5 1044.3,555.9 1044.8,579.7 1045.2,595.6 1045.7,601.6 1046.1,604.7 1046.6,548.6 1047.0,578.1 1047.5,571.5 1047.9,571.2 1048.4,601.1 1048.8,595.1 1049.3,575.2 1049.7,591.8 1050.2,591.6 1050.6,610.2 1051.1,578.3 1051.5,599.1 1052.0,575.3 1052.4,595.9 1052.9,587.4 1053.3,592.7 1053.8,588.0 1054.2,614.3 1054.7,576.2 1055.1,572.3 1055.6,578.8 1056.0,596.1 1056.5,600.3 1056.9,587.3 1057.4,577.1 1057.8,581.3 1058.3,576.6 1058.7,596.0 1059.2,587.4 1059.6,591.2 1060.1,588.3 1060.5,588.3 1061.0,605.2 1061.4,579.0 1061.9,593.1 1062.3,593.4 1062.8,574.5 1063.2,611.1 1063.7,588.9 1064.1,567.5 1064.6,599.5 1065.0,593.1 1065.5,595.0 1065.9,580.9 1066.4,578.4 1066.8,585.8 1067.3,563.0 1067.7,585.5 1068.2,583.9 1068.6,595.9 1069.1,579.4 1069.5,591.1 1070.0,561.6 1070.4,571.0 1070.9,593.1 1071.3,602.7 1071.8,594.4 1072.2,560.4 1072.7,566.9 1073.1,572.8 1073.6,598.8 1074.0,573.0 1074.5,584.7 1074.9,587.9 1075.4,587.9 1075.8,579.6 1076.3,586.3 1076.7,593.6 1077.2,584.3 1077.6,581.5 1078.1,593.2 1078.5,603.4 1079.0,616.8 1079.4,567.5 1079.9,587.1 1080.3,585.0 1080.8,568.8 1081.2,580.2 1081.7,575.1 1082.1,571.2 1082.6,576.5 1083.0,593.7 1083.5,571.4 1083.9,578.5 1084.4,584.1 1084.8,572.7 1085.3,569.8 1085.7,565.2 1086.2,576.8 1086.6,606.0 1087.1,564.6 1087.5,599.0 1088.0,575.6 1088.4,575.5 1088.9,598.7 1089.3,596.1 1089.8,597.4 1090.2,589.0 1090.7,600.8 1091.1,581.1 1091.6,594.3 1092.0,602.6 1092.5,589.4 1092.9,578.8 1093.4,612.3 1093.8,587.4 1094.3,577.6 1094.7,598.8 1095.2,607.3 1095.6,598.1 1096.1,574.9 1096.5,591.6 1097.0,594.9 1097.4,599.3 1097.9,571.6 1098.3,573.6 1098.8,593.4 1099.2,591.0 1099.7,597.0 1100.1,606.8 1100.6,571.9 1101.0,574.9 1101.5,582.4 1101.9,611.9 1102.4,587.7 1102.8,604.3 1103.3,556.6 1103.7,593.7 1104.2,603.8 1104.6,610.9 1105.1,580.2 1105.5,620.0 1106.0,578.7 1106.4,612.3 1106.9,616.1 1107.3,589.7 1107.8,570.8 1108.2,623.9 1108.7,596.6 1109.1,572.6 1109.6,598.3 1110.0,574.6 1110.5,593.3 1110.9,573.6 1111.4,555.2 1111.8,600.9 1112.3,579.3 1112.7,588.0 1113.2,591.7 1113.6,587.2 1114.1,578.7 1114.5,595.6 1115.0,599.5 1115.4,593.4 1115.9,584.1 1116.3,590.4 1116.8,614.3 1117.2,609.5 1117.7,585.9 1118.1,599.9 1118.6,599.6 1119.0,599.6 1119.5,590.9 1119.9,598.0 1120.4,584.8 1120.8,601.1 1121.3,598.3 1121.7,600.4 1122.2,599.9 1122.6,598.0 1123.1,576.9 1123.5,570.6 1124.0,590.6 1124.4,582.1 1124.9,599.1 1125.3,577.7 1125.8,580.1 1126.2,566.5 1126.7,584.7 1127.1,580.1 1127.6,602.9 1128.0,586.4 1128.5,605.8 1128.9,573.8 1129.4,561.3 1129.8,600.0 1130.3,591.3 1130.7,606.5 1131.2,574.0 1131.6,558.6 1132.1,605.7 1132.5,587.4 1133.0,574.9 1133.4,613.1 1133.9,583.7 1134.3,571.4 1134.8,588.0 1135.2,575.3 1135.7,571.0 1136.1,587.8 1136.6,582.7 1137.0,579.5 1137.5,580.4 1137.9,563.6 1138.4,591.2 1138.8,606.9 1139.3,585.3 1139.7,598.3 1140.2,607.5 1140.6,578.7 1141.1,572.7 1141.5,569.1 1142.0,575.4 1142.4,591.5 1142.9,579.7 1143.3,596.5 1143.8,573.6 1144.2,602.3 1144.7,577.7 1145.1,580.7 1145.6,582.7 1146.0,579.1 1146.5,580.5 1146.9,589.1 1147.4,580.7 1147.8,587.4 1148.3,572.8 1148.7,572.9 1149.2,565.7 1149.6,590.8 1150.1,572.7 1150.5,587.6 1151.0,583.8 1151.4,584.1 1151.9,580.2 1152.3,589.3 1152.8,588.5 1153.2,601.5 1153.7,580.8 1154.1,579.3 1154.6,570.2 1155.0,607.4 1155.5,576.0 1155.9,592.5 1156.4,592.0 1156.8,570.9 1157.3,577.2 1157.7,591.7 1158.2,583.9 1158.6,570.7 1159.1,585.4 1159.5,599.6 1160.0,587.6 1160.4,589.7 1160.9,597.0 1161.3,605.9 1161.8,584.5 1162.2,578.0 1162.7,583.4 1163.1,579.4 1163.6,570.5 1164.0,582.5 1164.5,574.5 1164.9,596.3 1165.4,582.8 1165.8,558.3 1166.3,573.7 1166.7,587.3 1167.2,577.9 1167.6,575.6 1168.1,578.0 1168.5,575.1 1169.0,589.0 1169.4,578.5 1169.9,574.2 1170.3,590.9 1170.8,571.5 1171.2,584.8 1171.7,573.1 1172.1,578.4 1172.6,577.6 1173.0,571.5 1173.5,576.5 1173.9,595.7 1174.4,571.4 1174.8,600.2 1175.3,589.2 1175.7,595.9 1176.2,576.6 1176.6,590.9 1177.1,582.6 1177.5,599.2 1178.0,576.3 1178.4,591.3 1178.9,574.2 1179.3,592.0 1179.8,575.5 1180.2,568.3 1180.7,565.5 1181.1,572.1 1181.6,590.6 1182.0,564.4 1182.5,568.7 1182.9,573.9 1183.4,574.4 1183.8,575.5 1184.3,586.9 1184.7,570.3 1185.2,558.8 1185.6,577.3 1186.1,566.7 1186.5,567.9 1187.0,570.7 1187.4,583.1 1187.9,580.0 1188.3,569.9 1188.8,566.8 1189.2,574.0 1189.7,564.2 1190.1,556.3 1190.6,566.3 1191.0,580.9 1191.5,567.8 1191.9,570.0 1192.4,587.2 1192.8,588.0 1193.3,589.0 1193.7,571.1 1194.2,582.3 1194.6,589.9 1195.1,587.8 1195.5,577.0 1196.0,578.9 1196.4,575.1 1196.9,577.3 1197.3,585.0 1197.8,585.4 1198.2,575.9 1198.7,588.4 1199.1,585.1 1199.6,594.0 1200.0,579.9 1200.5,586.1 1200.9,567.2 1201.4,590.9 1201.8,589.6 1202.3,591.9 1202.7,585.8 1203.2,585.9 1203.6,585.4 1204.1,595.5 1204.5,578.9 1205.0,585.6 1205.4,591.0 1205.9,583.9 1206.3,579.9 1206.8,584.6 1207.2,589.2 1207.7,598.6 1208.1,583.2 1208.6,571.4 1209.0,594.6 1209.5,587.2 1209.9,591.6 1210.4,586.5 1210.8,587.0 1211.3,573.2 1211.7,591.3 1212.2,579.0 1212.6,591.9 1213.1,572.7 1213.5,595.8 1214.0,585.5 1214.4,569.2 1214.9,587.5 1215.3,587.2 1215.8,587.2 1216.2,577.7 1216.7,603.6 1217.1,582.1 1217.6,593.8 1218.0,566.1 1218.5,590.6 1218.9,589.5 1219.4,585.3 1219.8,595.3 1220.3,580.3 1220.7,588.8 1221.2,584.4 1221.6,587.1 1222.1,576.7 1222.5,590.0 1223.0,589.2 1223.4,587.0 1223.9,587.0 1224.3,581.0 1224.8,579.1 1225.2,582.3 1225.7,587.4 1226.1,573.6 1226.6,583.2 1227.0,597.6 1227.5,590.3 1227.9,575.7 1228.4,594.8 1228.8,569.1 1229.3,582.1 1229.7,593.7 1230.2,589.7 1230.6,586.9 1231.1,574.5 1231.5,569.1 1232.0,588.2 1232.4,585.9 1232.9,598.4 1233.3,578.0 1233.8,573.3 1234.2,578.0 1234.7,566.3 1235.1,579.4 1235.6,581.9 1236.0,580.7 1236.5,598.5 1236.9,599.0 1237.4,578.9 1237.8,576.7 1238.3,593.3 1238.7,591.3 1239.2,569.9 1239.6,574.4 1240.1,573.7 1240.5,568.8 1241.0,575.2 1241.4,568.6 1241.9,587.0 1242.3,584.2 1242.8,563.4 1243.2,573.1 1243.7,573.2 1244.1,591.6 1244.6,572.0 1245.0,585.9 1245.5,592.6 1245.9,568.4 1246.4,581.4 1246.8,576.8 1247.3,583.7 1247.7,561.6 1248.2,570.5 1248.6,557.4 1249.1,579.5 1249.5,552.8 1250.0,571.6 1250.4,554.8 1250.9,561.9 1251.3,560.1 1251.8,567.9 1252.2,571.5 1252.7,576.5 1253.1,577.7 1253.6,563.6 1254.0,551.6 1254.5,573.8 1254.9,548.6 1255.4,560.3 1255.8,552.9 1256.3,553.3 1256.7,561.2 1257.2,548.0 1257.6,558.5 1258.1,558.9 1258.5,571.0 1259.0,572.4 1259.4,569.7 1259.9,563.3 1260.3,581.2 1260.8,574.7 1261.2,553.0 1261.7,570.0 1262.1,572.7 1262.6,560.4 1263.0,572.5 1263.5,567.6 1263.9,562.7 1264.4,573.4 1264.8,567.2 1265.3,561.8 1265.7,575.4 1266.2,556.7 1266.6,588.3 1267.1,573.6 1267.5,578.7 1268.0,588.4 1268.4,588.7 1268.9,576.3 1269.3,583.3 1269.8,590.4 1270.2,595.5 1270.7,572.7 1271.1,584.6 1271.6,570.2 1272.0,572.5 1272.5,581.4 1272.9,580.3 1273.4,571.1 1273.8,573.3 1274.3,582.2 1274.7,567.9 1275.2,585.2 1275.6,570.8 1276.1,598.9 1276.5,585.8 1277.0,592.1 1277.4,580.3 1277.9,596.4 1278.3,590.1 1278.8,592.8 1279.2,586.1 1279.7,591.8 1280.1,584.0 1280.6,592.0 1281.0,582.1 1281.5,582.1 1281.9,587.3 1282.4,586.9 1282.8,585.2 1283.3,577.4 1283.7,583.1 1284.2,596.5 1284.6,587.7 1285.1,590.1 1285.5,580.7 1286.0,602.0 1286.4,584.3 1286.9,592.8 1287.3,586.5 1287.8,600.3 1288.2,569.1 1288.7,563.6 1289.1,582.9 1289.6,558.5 1290.0,577.9 1290.5,578.6 1290.9,583.8 1291.4,594.3 1291.8,571.4 1292.3,592.9 1292.7,601.3 1293.2,605.6 1293.6,574.4 1294.1,583.2 1294.5,609.5 1295.0,576.0 1295.4,600.8 1295.9,592.1 1296.3,594.3 1296.8,568.4 1297.2,571.3 1297.7,577.6 1298.1,595.3 1298.6,597.6 1299.0,578.7 1299.5,591.6 1299.9,589.8 1300.4,576.7 1300.8,575.0 1301.3,564.8 1301.7,574.2 1302.2,578.0 1302.6,602.5 1303.1,597.8 1303.5,585.3 1304.0,591.5 1304.4,577.3 1304.9,559.1 1305.3,590.6 1305.8,594.5 1306.2,577.9 1306.7,602.3 1307.1,600.4 1307.6,597.6 1308.0,564.3 1308.5,588.1 1308.9,595.4 1309.4,576.8 1309.8,581.2 1310.3,598.3 1310.7,613.5 1311.2,598.0 1311.6,590.9 1312.1,581.6 1312.5,574.3 1313.0,577.3 1313.4,592.8 1313.9,581.9 1314.3,605.2 1314.8,571.2 1315.2,573.6 1315.7,587.6 1316.1,591.1 1316.6,589.8 1317.0,574.8 1317.5,579.2 1317.9,600.3 1318.4,583.8 1318.8,582.5 1319.3,596.5 1319.7,593.5 1320.2,588.6 1320.6,609.2 1321.1,571.6 1321.5,592.9 1322.0,580.8 1322.4,600.3 1322.9,576.2 1323.3,595.9 1323.8,582.9 1324.2,618.4 1324.7,590.4 1325.1,614.1 1325.6,579.2 1326.0,579.9 1326.5,591.4 1326.9,566.5 1327.4,575.7 1327.8,604.6 1328.3,599.8 1328.7,584.0 1329.2,599.7 1329.6,591.8 1330.1,591.8 1330.5,575.0 1331.0,597.4 1331.4,579.4 1331.9,603.3 1332.3,573.9 1332.8,614.9 1333.2,578.1 1333.7,570.0 1334.1,572.7 1334.6,590.0 1335.0,588.8 1335.5,577.6 1335.9,594.3 1336.4,607.8 1336.8,586.9 1337.3,594.3 1337.7,595.6 1338.2,595.2 1338.6,565.4 1339.1,602.8 1339.5,585.0 1340.0,587.1 1340.4,599.5 1340.9,554.9 1341.3,594.9 1341.8,589.0 1342.2,604.9 1342.7,589.9 1343.1,601.3 1343.6,598.1 1344.0,571.7 1344.5,584.8 1344.9,577.0 1345.4,584.6 1345.8,575.0 1346.3,567.6 1346.7,583.6 1347.2,581.2 1347.6,590.4 1348.1,604.1 1348.5,580.5 1349.0,582.1 1349.4,598.8 1349.9,595.8 1350.3,565.8 1350.8,583.9 1351.2,566.3 1351.7,573.7 1352.1,577.7 1352.6,581.5 1353.0,579.6 1353.5,585.3 1353.9,586.6 1354.4,601.1 1354.8,591.9 1355.3,570.0 1355.7,598.1 1356.2,585.9 1356.6,568.3 1357.1,570.3 1357.5,582.2 1358.0,582.6 1358.4,585.4 1358.9,563.3 1359.3,577.0 1359.8,605.1 1360.2,560.2 1360.7,564.5 1361.1,580.4 1361.6,583.2 1362.0,572.7 1362.5,580.9 1362.9,577.6 1363.4,568.6 1363.8,577.8 1364.3,574.1 1364.7,581.6 1365.2,585.2 1365.6,566.3 1366.1,575.2 1366.5,563.5 1367.0,571.2 1367.4,576.5 1367.9,582.8 1368.3,564.7 1368.8,580.9 1369.2,571.7 1369.7,569.2 1370.1,568.9 1370.6,563.9 1371.0,574.5 1371.5,554.8 1371.9,574.2 1372.4,561.7 1372.8,584.5 1373.3,560.5 1373.7,569.3 1374.2,573.2 1374.6,572.9 1375.1,581.4 1375.5,581.6 1376.0,559.6 1376.4,555.0 1376.9,576.6 1377.3,563.9 1377.8,556.9 1378.2,557.9 1378.7,567.2 1379.1,565.8 1379.6,530.5 1380.0,545.9 1380.5,548.3 1380.9,542.4 1381.4,567.8 1381.8,569.0 1382.3,552.9 1382.7,571.7 1383.2,551.5 1383.6,572.1 1384.1,565.9 1384.5,559.9 1385.0,564.5 1385.4,553.2 1385.9,573.5 1386.3,556.6 1386.8,568.8 1387.2,553.5 1387.7,554.9 1388.1,566.7 1388.6,568.1 1389.0,582.6 1389.5,566.1 1389.9,573.3 1390.4,574.8 1390.8,595.0 1391.3,573.9 1391.7,559.3 1392.2,555.9 1392.6,569.2 1393.1,575.2 1393.5,560.9 1394.0,561.3 1394.4,564.3 1394.9,575.8 1395.3,583.8 1395.8,568.4 1396.2,567.6 1396.7,593.2 1397.1,599.5 1397.6,585.4 1398.0,572.4 1398.5,572.7 1398.9,588.4 1399.4,559.5 1399.8,561.5 1400.3,592.3 1400.7,563.9 1401.2,572.2 1401.6,606.7 1402.1,576.2 1402.5,598.7 1403.0,579.4 1403.4,569.9 1403.9,588.7 1404.3,582.5 1404.8,594.1 1405.2,566.5 1405.7,590.8 1406.1,587.7 1406.6,594.9 1407.0,588.8 1407.5,573.9 1407.9,602.1 1408.4,597.2 1408.8,597.7 1409.3,594.1 1409.7,591.2 1410.2,580.0 1410.6,565.5 1411.1,568.1 1411.5,585.3 1412.0,560.0 1412.4,579.6 1412.9,597.8 1413.3,576.1 1413.8,610.7 1414.2,567.2 1414.7,595.9 1415.1,564.0 1415.6,592.0 1416.0,608.2 1416.5,584.1 1416.9,572.8 1417.4,574.2 1417.8,596.2 1418.3,598.8 1418.7,593.3 1419.2,582.2 1419.6,575.0 1420.1,578.1 1420.5,575.6 1421.0,568.8 1421.4,601.6 1421.9,604.1 1422.3,604.7 1422.8,609.8 1423.2,580.5 1423.7,565.7 1424.1,591.3 1424.6,585.2 1425.0,574.5 1425.5,594.0 1425.9,582.9 1426.4,597.0 1426.8,593.7 1427.3,577.6 1427.7,588.4 1428.2,581.6 1428.6,592.8 1429.1,587.5 1429.5,575.6 1430.0,593.9 1430.4,585.2 1430.9,586.1 1431.3,589.7 1431.8,617.9 1432.2,593.4 1432.7,585.5 1433.1,579.5 1433.6,565.5 1434.0,587.9 1434.5,588.3 1434.9,580.5 1435.4,598.3 1435.8,593.7 1436.3,597.5 1436.7,584.6 1437.2,609.4 1437.6,596.5 1438.1,579.3 1438.5,588.4 1439.0,602.6 1439.4,579.2 1439.9,606.6 1440.3,582.2 1440.8,561.8 1441.2,598.6 1441.7,580.6 1442.1,588.6 1442.6,585.8 1443.0,603.6 1443.5,587.7 1443.9,600.6 1444.4,574.7 1444.8,588.5 1445.3,578.5 1445.7,587.2 1446.2,620.2 1446.6,575.4 1447.1,592.9 1447.5,581.7 1448.0,593.4 1448.4,573.8 1448.9,578.2 1449.3,559.9 1449.8,605.7 1450.2,587.3 1450.7,590.4 1451.1,565.7 1451.6,609.8 1452.0,603.6 1452.5,580.3 1452.9,590.4 1453.4,581.7 1453.8,601.1 1454.3,550.7 1454.7,588.9 1455.2,590.0 1455.6,599.7 1456.1,569.0 1456.5,573.5 1457.0,568.2 1457.4,601.2 1457.9,592.8 1458.3,603.7 1458.8,599.7 1459.2,597.2 1459.7,566.9 1460.1,583.0 1460.6,608.9 1461.0,592.4 1461.5,570.3 1461.9,572.6 1462.4,579.4 1462.8,582.9 1463.3,588.9 1463.7,587.2 1464.2,594.6 1464.6,604.4 1465.1,597.5 1465.5,570.2 1466.0,620.6 1466.4,583.5 1466.9,576.2 1467.3,605.0 1467.8,609.7 1468.2,595.1 1468.7,608.2 1469.1,584.7 1469.6,585.1 1470.0,569.9 1470.5,603.9 1470.9,590.7 1471.4,613.7 1471.8,582.8 1472.3,605.5 1472.7,589.6 1473.2,614.4 1473.6,588.4 1474.1,610.1 1474.5,572.5 1475.0,581.7 1475.4,580.1 1475.9,604.2 1476.3,556.2 1476.8,570.4 1477.2,591.2 1477.7,587.1 1478.1,587.1 1478.6,594.1 1479.0,584.2 1479.5,597.4 1479.9,606.6 1480.4,573.6 1480.8,605.9 1481.3,575.7 1481.7,567.7 1482.2,585.5 1482.6,584.9 1483.1,590.3 1483.5,569.6 1484.0,584.5 1484.4,577.4 1484.9,601.3 1485.3,586.4 1485.8,576.7 1486.2,570.6 1486.7,585.1 1487.1,612.7 1487.6,561.0 1488.0,575.7 1488.5,602.3 1488.9,599.3 1489.4,582.2 1489.8,583.3 1490.3,579.1 1490.7,572.9 1491.2,581.2 1491.6,592.4 1492.1,590.1 1492.5,564.9 1493.0,582.4 1493.4,576.3 1493.9,601.6 1494.3,566.8 1494.8,569.8 1495.2,567.2 1495.7,630.1 1496.1,608.4 1496.6,582.5 1497.0,598.2 1497.5,562.8 1497.9,582.4 1498.4,615.5 1498.8,583.4 1499.3,568.2 1499.7,577.3 1500.2,577.6 1500.6,583.1 1501.1,583.2 1501.5,578.9 1502.0,566.0 1502.4,584.5 1502.9,584.7 1503.3,564.9 1503.8,592.0 1504.2,582.8 1504.7,606.5 1505.1,591.0 1505.6,577.0 1506.0,574.0 1506.5,606.9 1506.9,599.5 1507.4,591.9 1507.8,595.7 1508.3,568.9 1508.7,599.5 1509.2,583.8 1509.6,585.1 1510.1,597.9 1510.5,592.4 1511.0,567.7 1511.4,593.7 1511.9,583.9 1512.3,599.8 1512.8,588.3 1513.2,593.4 1513.7,575.1 1514.1,576.8 1514.6,573.6 1515.0,590.6 1515.5,576.1 1515.9,583.3 1516.4,612.7 1516.8,598.6 1517.3,616.8 1517.7,580.5 1518.2,579.0 1518.6,584.3 1519.1,597.1 1519.5,580.0 1520.0,613.4 1520.4,579.5 1520.9,606.1 1521.3,578.1 1521.8,580.0 1522.2,594.0 1522.7,589.4 1523.1,585.7 1523.6,584.2 1524.0,592.8 1524.5,582.8 1524.9,611.2 1525.4,598.6 1525.8,595.3 1526.3,577.8 1526.7,622.6 1527.2,593.0 1527.6,581.4 1528.1,578.3 1528.5,559.4 1529.0,581.3 1529.4,564.8 1529.9,571.1 1530.3,603.8 1530.8,584.0 1531.2,578.4 1531.7,607.9 1532.1,580.4 1532.6,612.1 1533.0,585.0 1533.5,593.0 1533.9,584.1 1534.4,582.1 1534.8,591.2 1535.3,605.0 1535.7,590.2 1536.2,577.5 1536.6,568.9 1537.1,603.5 1537.5,581.1 1538.0,577.1 1538.4,595.2 1538.9,595.5 1539.3,597.0 1539.8,582.9 1540.2,568.0 1540.7,596.8 1541.1,589.9 1541.6,589.8 1542.0,580.0 1542.5,596.8 1542.9,591.4 1543.4,594.1 1543.8,605.1 1544.3,588.2 1544.7,587.0 1545.2,587.2 1545.6,572.3 1546.1,586.5 1546.5,602.3 1547.0,600.0 1547.4,584.4 1547.9,576.7 1548.3,596.1 1548.8,591.4 1549.2,592.8 1549.7,608.2 1550.1,588.6 1550.6,604.1 1551.0,594.8 1551.5,601.1 1551.9,583.2 1552.4,590.6 1552.8,595.0 1553.3,589.8 1553.7,592.4 1554.2,588.4 1554.6,612.5 1555.1,565.8 1555.5,601.1 1556.0,593.0 1556.4,578.8 1556.9,584.7 1557.3,574.7 1557.8,599.0 1558.2,600.6 1558.7,597.0 1559.1,611.2 1559.6,572.8 1560.0,577.4 1560.5,587.1 1560.9,600.4 1561.4,597.6 1561.8,580.0 1562.3,592.4 1562.7,601.1 1563.2,574.8 1563.6,598.5 1564.1,602.8 1564.5,604.7 1565.0,604.5 1565.4,587.9 1565.9,565.8 1566.3,574.5 1566.8,580.2 1567.2,588.1 1567.7,600.2 1568.1,591.3 1568.6,594.6 1569.0,608.3 1569.5,570.8 1569.9,593.8 1570.4,598.9 1570.8,607.1 1571.3,618.8 1571.7,603.8 1572.2,576.3 1572.6,597.7 1573.1,578.7 1573.5,595.4 1574.0,581.4 1574.4,582.5 1574.9,593.0 1575.3,580.8 1575.8,590.1 1576.2,588.1 1576.7,596.0 1577.1,580.4 1577.6,572.3 1578.0,563.5 1578.5,594.5 1578.9,596.7 1579.4,572.8 1579.8,561.0 1580.3,597.0 1580.7,587.6 1581.2,598.2 1581.6,587.3 1582.1,604.9 1582.5,592.1 1583.0,585.2 1583.4,600.5 1583.9,569.4 1584.3,585.0 1584.8,587.3 1585.2,580.7 1585.7,590.0 1586.1,578.9 1586.6,559.6 1587.0,614.1 1587.5,584.1 1587.9,580.0 1588.4,562.3 1588.8,584.4 1589.3,580.6 1589.7,561.5 1590.2,601.6 1590.6,598.0 1591.1,554.3 1591.5,595.3 1592.0,571.0 1592.4,595.2 1592.9,591.0 1593.3,599.0 1593.8,591.6 1594.2,606.3 1594.7,577.0 1595.1,576.8 1595.6,576.9 1596.0,574.9 1596.5,617.8 1596.9,584.8 1597.4,603.2 1597.8,586.1 1598.3,580.4 1598.7,597.6 1599.2,570.8 1599.6,593.2 1600.1,603.5 1600.5,583.4 1601.0,584.4 1601.4,574.8 1601.9,593.6 1602.3,597.9 1602.8,600.1 1603.2,574.5 1603.7,581.8 1604.1,566.6 1604.6,588.2 1605.0,593.7 1605.5,583.5 1605.9,579.6 1606.4,588.0 1606.8,585.9 1607.3,589.1 1607.7,568.6 1608.2,566.3 1608.6,572.3 1609.1,565.1 1609.5,586.0 1610.0,615.2 1610.4,582.3 1610.9,556.0 1611.3,567.0 1611.8,563.7 1612.2,589.1 1612.7,584.4 1613.1,610.7 1613.6,582.5 1614.0,578.3 1614.5,602.0 1614.9,564.9 1615.4,580.5 1615.8,600.2 1616.3,585.2 1616.7,588.2 1617.2,565.8 1617.6,556.0 1618.1,576.2 1618.5,597.8 1619.0,572.3 1619.4,563.6 1619.9,556.0 1620.3,612.6 1620.8,556.0 1621.2,571.5 1621.7,562.7 1622.1,592.9 1622.6,556.0 1623.0,559.1 1623.5,585.3 1623.9,556.0 1624.4,590.6 1624.8,601.4 1625.3,584.2 1625.7,556.0 1626.2,572.2 1626.6,578.6 1627.1,604.2 1627.5,607.2 1628.0,599.1 1628.4,584.0 1628.9,579.5 1629.3,581.8 1629.8,573.5 1630.2,576.6 1630.7,574.3 1631.1,583.3 1631.6,603.8 1632.0,562.8 1632.5,613.0 1632.9,593.8 1633.4,598.2 1633.8,583.8 1634.3,583.5 1634.7,603.4 1635.2,578.5 1635.6,570.5 1636.1,583.9 1636.5,576.2 1637.0,605.6 1637.4,587.5 1637.9,593.5 1638.3,586.4 1638.8,585.7 1639.2,603.4 1639.7,590.8 1640.1,608.6 1640.6,559.0 1641.0,593.2 1641.5,599.9 1641.9,585.9 1642.4,560.3 1642.8,586.6 1643.3,582.8 1643.7,606.3 1644.2,604.6 1644.6,603.0 1645.1,591.3 1645.5,593.1 1646.0,591.9 1646.4,604.3 1646.9,589.6 1647.3,598.5 1647.8,602.1 1648.2,588.6 1648.7,592.4 1649.1,580.5 1649.6,574.4 1650.0,581.2 1650.5,579.7 1650.9,568.1 1651.4,591.9 1651.8,601.8 1652.3,602.6 1652.7,611.0 1653.2,586.8 1653.6,621.3 1654.1,585.3 1654.5,593.1 1655.0,608.7 1655.4,568.0 1655.9,595.8 1656.3,595.3 1656.8,619.6 1657.2,582.2 1657.7,592.8 1658.1,557.2 1658.6,590.2 1659.0,569.0 1659.5,572.9 1659.9,598.4 1660.4,581.0 1660.8,571.8 1661.3,599.4 1661.7,591.5 1662.2,584.0 1662.6,568.7 1663.1,579.4 1663.5,571.5 1664.0,585.1 1664.4,584.0 1664.9,586.9 1665.3,579.7 1665.8,584.6 1666.2,600.1 1666.7,581.8 1667.1,599.8 1667.6,598.5 1668.0,598.2 1668.5,565.1 1668.9,598.5 1669.4,589.8 1669.8,593.8 1670.3,584.6 1670.7,584.4 1671.2,573.5 1671.6,572.0 1672.1,591.6 1672.5,576.1 1673.0,581.3 1673.4,599.6 1673.9,604.5 1674.3,586.0 1674.8,562.1 1675.2,592.0 1675.7,599.8 1676.1,588.9 1676.6,583.3 1677.0,573.8 1677.5,590.4 1677.9,623.4 1678.4,596.4 1678.8,584.2 1679.3,576.8 1679.7,594.1 1680.2,571.0 1680.6,581.9 1681.1,585.3 1681.5,585.0 1682.0,593.7 1682.4,587.9 1682.9,573.2 1683.3,561.8 1683.8,589.8 1684.2,554.5 1684.7,570.4 1685.1,614.0 1685.6,578.7 1686.0,606.1 1686.5,579.9 1686.9,592.4 1687.4,596.6 1687.8,602.3 1688.3,584.4 1688.7,573.5 1689.2,587.6 1689.6,568.8 1690.1,569.1 1690.5,600.2 1691.0,577.0 1691.4,602.9 1691.9,602.2 1692.3,577.7 1692.8,582.5 1693.2,585.0 1693.7,600.7 1694.1,588.3 1694.6,603.0 1695.0,588.2 1695.5,602.7 1695.9,586.5 1696.4,605.3 1696.8,599.4 1697.3,605.8 1697.7,601.3 1698.2,568.8 1698.6,612.3 1699.1,591.0 1699.5,571.8 1700.0,582.0 1700.4,577.9 1700.9,596.9 1701.3,584.8 1701.8,589.1 1702.2,600.7 1702.7,570.5 1703.1,570.9 1703.6,590.9 1704.0,570.1 1704.5,598.5 1704.9,574.1 1705.4,576.3 1705.8,597.3 1706.3,606.6 1706.7,587.3 1707.2,582.4 1707.6,570.9 1708.1,583.3 1708.5,582.0 1709.0,574.1 1709.4,581.5 1709.9,597.5 1710.3,588.5 1710.8,556.9 1711.2,606.4 1711.7,600.2 1712.1,572.2 1712.6,601.6 1713.0,572.9 1713.5,593.6 1713.9,588.9 1714.4,575.8 1714.8,591.2 1715.3,588.7 1715.7,589.3 1716.2,571.9 1716.6,595.9 1717.1,584.1 1717.5,603.1 1718.0,597.0 1718.4,595.1 1718.9,574.2 1719.3,610.4 1719.8,591.3 1720.2,586.7 1720.7,580.2 1721.1,586.6 1721.6,599.9 1722.0,562.6 1722.5,592.4 1722.9,571.8 1723.4,575.9 1723.8,592.1 1724.3,592.9 1724.7,583.6 1725.2,590.6 1725.6,604.4 1726.1,587.9 1726.5,573.5 1727.0,582.5 1727.4,582.0 1727.9,603.4 1728.3,581.8 1728.8,565.9 1729.2,570.0 1729.7,600.7 1730.1,592.0 1730.6,572.3 1731.0,568.7 1731.5,595.1 1731.9,570.3 1732.4,582.7 1732.8,595.0 1733.3,593.1 1733.7,573.7 1734.2,591.6 1734.6,565.5 1735.1,587.7 1735.5,577.4 1736.0,561.4 1736.4,599.8 1736.9,581.6 1737.3,589.6 1737.8,578.6 1738.2,618.8 1738.7,603.2 1739.1,581.5 1739.6,608.6 1740.0,595.5 1740.5,604.2 1740.9,559.1 1741.4,587.7 1741.8,570.6 1742.3,582.1 1742.7,579.3 1743.2,587.0 1743.6,558.7 1744.1,578.9 1744.5,565.5 1745.0,596.2 1745.4,586.6 1745.9,590.9 1746.3,595.6 1746.8,592.5 1747.2,575.1 1747.7,583.8 1748.1,559.4 1748.6,577.0 1749.0,577.8 1749.5,579.4 1749.9,586.6 1750.4,582.4 1750.8,604.1 1751.3,594.5 1751.7,583.3 1752.2,578.9 1752.6,575.9 1753.1,597.6 1753.5,572.9 1754.0,593.9 1754.4,568.5 1754.9,581.1 1755.3,566.1 1755.8,587.9 1756.2,584.8 1756.7,575.9"/>
<polyline fill="none" stroke="#ff0000" stroke-width="4.5" stroke-linejoin="round" points="143.0,823.5 143.4,774.3 143.9,815.1 144.3,806.4 144.8,819.7 145.2,810.5 145.7,827.0 146.1,807.7 146.6,801.8 147.0,815.3 147.5,814.2 147.9,804.9 148.4,806.8 148.8,820.2 149.3,820.8 149.7,804.8 150.2,807.1 150.6,786.4 151.1,839.0 151.5,810.8 152.0,836.0 152.4,822.3 152.9,848.3 153.3,842.8 153.8,823.1 154.2,844.2 154.7,802.2 155.1,842.7 155.6,793.2 156.0,827.8 156.5,842.4 156.9,827.2 157.4,816.3 157.8,808.1 158.3,818.1 158.7,847.9 159.2,845.6 159.6,821.9 160.1,801.1 160.5,844.2 161.0,797.4 161.4,818.8 161.9,814.7 162.3,849.9 162.8,839.0 163.2,845.1 163.7,841.7 164.1,821.3 164.6,849.4 165.0,869.7 165.5,838.8 165.9,854.4 166.4,839.1 166.8,864.8 167.3,858.1 167.7,863.6 168.2,853.6 168.6,881.3 169.1,841.5 169.5,843.3 170.0,839.5 170.4,864.7 170.9,841.6 171.3,842.6 171.8,870.4 172.2,879.8 172.7,869.8 173.1,810.1 173.6,843.9 174.0,843.2 174.5,842.2 174.9,858.1 175.4,899.0 175.8,862.6 176.3,856.4 176.7,882.6 177.2,872.9 177.6,875.0 178.1,862.8 178.5,875.4 179.0,883.7 179.4,847.0 179.9,853.4 180.3,897.2 180.8,894.4 181.2,874.6 181.7,868.0 182.1,881.7 182.6,867.9 183.0,881.6 183.5,911.4 183.9,890.4 184.4,906.0 184.8,887.3 185.3,896.4 185.7,911.2 186.2,875.1 186.6,889.4 187.1,892.8 187.5,899.4 188.0,916.6 188.4,906.1 188.9,879.3 189.3,895.6 189.8,888.8 190.2,889.4 190.7,925.7 191.1,889.6 191.6,905.7 192.0,895.5 192.5,914.3 192.9,909.2 193.4,907.4 193.8,905.9 194.3,919.8 194.7,898.3 195.2,901.3 195.6,898.2 196.1,924.0 196.5,908.2 197.0,901.6 197.4,908.5 197.9,937.3 198.3,913.1 198.8,922.7 199.2,919.8 199.7,916.2 200.1,910.9 200.6,914.9 201.0,915.5 201.5,900.7 201.9,941.3 202.4,928.2 202.8,922.4 203.3,920.7 203.7,917.0 204.2,930.9 204.6,923.2 205.1,928.8 205.5,916.4 206.0,929.6 206.4,941.7 206.9,926.6 207.3,935.1 207.8,930.5 208.2,939.0 208.7,939.7 209.1,933.2 209.6,929.6 210.0,936.7 210.5,935.7 210.9,931.6 211.4,940.6 211.8,941.4 212.3,932.1 212.7,939.0 213.2,963.5 213.6,948.1 214.1,943.3 214.5,963.5 215.0,940.7 215.4,925.2 215.9,930.6 216.3,934.5 216.8,950.0 217.2,956.9 217.7,931.5 218.1,960.0 218.6,941.0 219.0,954.4 219.5,957.1 219.9,957.7 220.4,954.9 220.8,957.1 221.3,946.4 221.7,959.7 222.2,966.8 222.6,967.2 223.1,983.3 223.5,970.3 224.0,967.8 224.4,977.3 224.9,964.8 225.3,951.2 225.8,942.9 226.2,976.8 226.7,970.8 227.1,974.1 227.6,963.4 228.0,970.6 228.5,986.1 228.9,971.7 229.4,958.3 229.8,965.5 230.3,983.5 230.7,960.3 231.2,946.7 231.6,950.1 232.1,959.7 232.5,980.5 233.0,974.3 233.4,966.9 233.9,962.5 234.3,974.0 234.8,974.0 235.2,970.8 235.7,974.3 236.1,970.0 236.6,994.2 237.0,956.2 237.5,979.6 237.9,969.6 238.4,985.9 238.8,977.7 239.3,983.7 239.7,985.6 240.2,983.1 240.6,990.6 241.1,969.6 241.5,991.1 242.0,981.0 242.4,986.8 242.9,997.7 243.3,994.3 243.8,1002.3 244.2,965.3 244.7,977.1 245.1,994.4 245.6,976.5 246.0,985.2 246.5,1002.1 246.9,995.2 247.4,979.7 247.8,992.3 248.3,994.4 248.7,989.8 249.2,988.8 249.6,991.3 250.1,977.7 250.5,992.0 251.0,982.9 251.4,995.2 251.9,995.9 252.3,984.6 252.8,998.5 253.2,996.7 253.7,993.5 254.1,1001.1 254.6,991.9 255.0,992.6 255.5,996.5 255.9,995.6 256.4,1007.6 256.8,974.1 257.3,994.5 257.7,978.1 258.2,993.2 258.6,1001.2 259.1,999.1 259.5,1009.3 260.0,1003.1 260.4,972.0 260.9,989.0 261.3,1017.3 261.8,1017.8 262.2,1002.8 262.7,985.5 263.1,1025.8 263.6,979.9 264.0,1006.4 264.5,1002.8 264.9,1006.3 265.4,990.8 265.8,999.6 266.3,1016.5 266.7,999.0 267.2,988.9 267.6,1004.8 268.1,1006.2 268.5,1003.7 269.0,996.1 269.4,1012.0 269.9,1004.2 270.3,991.6 270.8,1008.5 271.2,1005.5 271.7,1007.7 272.1,985.0 272.6,996.6 273.0,1011.6 273.5,1017.3 273.9,1010.3 274.4,1008.1 274.8,1014.8 275.3,1017.8 275.7,1026.7 276.2,1011.8 276.6,1000.2 277.1,1011.9 277.5,985.1 278.0,1007.3 278.4,1001.9 278.9,1006.5 279.3,1012.0 279.8,1007.4 280.2,991.7 280.7,1003.2 281.1,998.7 281.6,1006.7 282.0,1010.5 282.5,997.3 282.9,1014.1 283.4,1019.5 283.8,1004.3 284.3,1013.8 284.7,992.9 285.2,1001.8 285.6,1015.7 286.1,990.8 286.5,1002.3 287.0,998.8 287.4,1016.9 287.9,1016.7 288.3,1001.4 288.8,1007.8 289.2,984.8 289.7,1013.7 290.1,1009.6 290.6,1017.4 291.0,987.6 291.5,1009.4 291.9,1003.9 292.4,986.6 292.8,1001.3 293.3,1005.9 293.7,1012.4 294.2,1007.9 294.6,1002.6 295.1,1009.7 295.5,1005.5 296.0,1001.4 296.4,998.6 296.9,1007.3 297.3,1007.2 297.8,1019.8 298.2,1002.5 298.7,1017.9 299.1,1008.4 299.6,1014.5 300.0,998.7 300.5,998.8 300.9,1003.0 301.4,1012.0 301.8,1006.5 302.3,1010.7 302.7,1007.3 303.2,1012.6 303.6,1006.2 304.1,1000.5 304.5,1008.4 305.0,1005.0 305.4,1017.7 305.9,1002.9 306.3,1004.8 306.8,1001.5 307.2,1012.7 307.7,1010.4 308.1,1008.6 308.6,993.7 309.0,991.5 309.5,1005.3 309.9,1008.8 310.4,1014.7 310.8,988.9 311.3,1001.6 311.7,989.6 312.2,995.2 312.6,1001.0 313.1,1010.3 313.5,998.5 314.0,997.0 314.4,1000.1 314.9,1012.6 315.3,1021.9 315.8,990.3 316.2,1000.5 316.7,999.2 317.1,1012.2 317.6,1006.4 318.0,1015.5 318.5,994.7 318.9,1003.2 319.4,999.4 319.8,994.2 320.3,1002.2 320.7,993.7 321.2,1022.0 321.6,1007.5 322.1,995.5 322.5,999.1 323.0,1019.3 323.4,1000.6 323.9,1010.8 324.3,1010.1 324.8,1014.8 325.2,1011.0 325.7,1003.9 326.1,1000.7 326.6,990.5 327.0,1005.9 327.5,1007.8 327.9,1003.6 328.4,1005.7 328.8,996.3 329.3,1027.0 329.7,1003.1 330.2,998.4 330.6,1002.6 331.1,1006.6 331.5,1015.2 332.0,986.2 332.4,1013.5 332.9,1003.1 333.3,1007.3 333.8,1018.6 334.2,1016.4 334.7,1003.0 335.1,1008.6 335.6,1027.3 336.0,1022.6 336.5,1018.0 336.9,1009.8 337.4,1019.1 337.8,1013.6 338.3,1004.7 338.7,1000.6 339.2,1014.8 339.6,1013.4 340.1,1020.9 340.5,1005.7 341.0,1022.4 341.4,1006.8 341.9,1020.8 342.3,1014.7 342.8,1005.2 343.2,1002.2 343.7,1009.1 344.1,1007.9 344.6,1017.6 345.0,1004.6 345.5,998.6 345.9,1009.9 346.4,1024.6 346.8,1022.3 347.3,1005.5 347.7,1008.1 348.2,1012.4 348.6,1005.4 349.1,1008.4 349.5,1008.2 350.0,1003.0 350.4,1006.0 350.9,1007.0 351.3,1011.6 351.8,1002.7 352.2,1010.8 352.7,1004.1 353.1,1005.3 353.6,1003.5 354.0,1029.3 354.5,1017.3 354.9,1017.7 355.4,1014.7 355.8,1008.9 356.3,1010.6 356.7,1011.7 357.2,1012.5 357.6,1013.2 358.1,1017.7 358.5,996.2 359.0,1007.7 359.4,1013.5 359.9,1008.7 360.3,1009.7 360.8,1017.6 361.2,1011.5 361.7,1019.3 362.1,1010.5 362.6,1012.0 363.0,1005.6 363.5,1001.0 363.9,1009.1 364.4,1011.7 364.8,1009.7 365.3,1004.5 365.7,1015.3 366.2,1012.3 366.6,1012.2 367.1,1008.0 367.5,1021.7 368.0,1021.0 368.4,1014.6 368.9,1012.4 369.3,1014.7 369.8,1023.4 370.2,1030.2 370.7,1013.9 371.1,1011.5 371.6,1003.3 372.0,1031.6 372.5,1007.8 372.9,1020.3 373.4,1018.2 373.8,1023.7 374.3,1009.9 374.7,1005.2 375.2,1016.7 375.6,1018.6 376.1,1023.7 376.5,1005.0 377.0,1013.4 377.4,1014.8 377.9,1007.4 378.3,1015.7 378.8,1022.5 379.2,1016.8 379.7,1007.0 380.1,1019.7 380.6,1023.4 381.0,1021.2 381.5,1023.1 381.9,1005.4 382.4,1020.9 382.8,1021.9 383.3,1014.8 383.7,1017.2 384.2,1012.0 384.6,1026.8 385.1,1015.5 385.5,1010.8 386.0,1019.2 386.4,1018.6 386.9,1022.8 387.3,1011.7 387.8,1012.8 388.2,1020.8 388.7,1034.7 389.1,1021.5 389.6,1007.8 390.0,1019.3 390.5,1012.2 390.9,1004.1 391.4,1012.9 391.8,1013.7 392.3,1021.3 392.7,1028.2 393.2,1026.8 393.6,1024.3 394.1,1014.9 394.5,1019.4 395.0,1017.9 395.4,1029.1 395.9,1013.2 396.3,1014.0 396.8,1029.9 397.2,1022.8 397.7,1014.9 398.1,1019.6 398.6,1019.5 399.0,1019.9 399.5,1024.7 399.9,1021.3 400.4,1017.0 400.8,1014.5 401.3,1004.9 401.7,1015.0 402.2,1027.5 402.6,1020.3 403.1,1013.4 403.5,1016.6 404.0,1011.8 404.4,1020.9 404.9,1034.3 405.3,1032.7 405.8,1027.9 406.2,1024.7 406.7,1016.9 407.1,1009.2 407.6,1018.8 408.0,1015.3 408.5,1025.0 408.9,1020.0 409.4,1014.4 409.8,1022.2 410.3,1040.6 410.7,1012.0 411.2,1027.2 411.6,1023.2 412.1,1018.1 412.5,1013.3 413.0,1019.0 413.4,1020.5 413.9,1024.5 414.3,1024.0 414.8,1021.2 415.2,1014.0 415.7,1021.1 416.1,1015.6 416.6,1011.6 417.0,1025.3 417.5,1014.3 417.9,1010.6 418.4,1019.6 418.8,1005.6 419.3,1018.6 419.7,1022.1 420.2,1016.2 420.6,1020.7 421.1,1033.7 421.5,1028.7 422.0,1025.4 422.4,1023.1 422.9,1015.7 423.3,1018.2 423.8,1017.3 424.2,1019.4 424.7,1020.0 425.1,1014.0 425.6,1029.9 426.0,1012.4 426.5,1021.8 426.9,1026.4 427.4,1019.4 427.8,1015.1 428.3,1019.9 428.7,1033.2 429.2,1024.3 429.6,1018.1 430.1,1024.3 430.5,1019.0 431.0,1007.2 431.4,1022.4 431.9,1028.2 432.3,1029.2 432.8,1020.6 433.2,1011.0 433.7,1030.2 434.1,1020.5 434.6,1027.3 435.0,1030.4 435.5,1024.7 435.9,1021.9 436.4,1017.8 436.8,1019.5 437.3,1023.2 437.7,1019.6 438.2,1026.1 438.6,1008.3 439.1,1015.8 439.5,1023.6 440.0,1018.5 440.4,1019.9 440.9,1015.3 441.3,1029.9 441.8,1037.8 442.2,1016.7 442.7,1034.3 443.1,1013.3 443.6,1026.4 444.0,1008.9 444.5,1029.5 444.9,1025.8 445.4,1026.9 445.8,1036.1 446.3,1030.9 446.7,1025.8 447.2,1019.2 447.6,1026.6 448.1,1020.4 448.5,1022.7 449.0,1039.0 449.4,1033.9 449.9,1029.0 450.3,1032.0 450.8,1014.4 451.2,1027.6 451.7,1012.3 452.1,1021.1 452.6,1030.0 453.0,1030.1 453.5,1032.9 453.9,1028.3 454.4,1027.4 454.8,1027.0 455.3,1039.1 455.7,1038.2 456.2,1014.7 456.6,1028.3 457.1,1038.3 457.5,1025.1 458.0,1029.2 458.4,1022.1 458.9,1017.0 459.3,1028.5 459.8,1023.8 460.2,1026.0 460.7,1014.9 461.1,1017.4 461.6,1026.2 462.0,1023.5 462.5,1032.1 462.9,1018.3 463.4,1033.4 463.8,1032.3 464.3,1028.2 464.7,1032.9 465.2,1026.7 465.6,1025.8 466.1,1027.2 466.5,1016.6 467.0,1027.2 467.4,1034.4 467.9,1013.7 468.3,1033.6 468.8,1022.2 469.2,1024.7 469.7,1028.6 470.1,1030.1 470.6,1039.6 471.0,1026.9 471.5,1042.6 471.9,1028.7 472.4,1032.5 472.8,1034.2 473.3,1023.2 473.7,1019.7 474.2,1029.9 474.6,1034.9 475.1,1036.3 475.5,1026.6 476.0,1043.8 476.4,1028.9 476.9,1024.7 477.3,1039.5 477.8,1040.2 478.2,1023.3 478.7,1037.4 479.1,1021.4 479.6,1031.7 480.0,1049.0 480.5,1041.7 480.9,1037.4 481.4,1037.1 481.8,1026.2 482.3,1035.0 482.7,1036.0 483.2,1025.2 483.6,1034.5 484.1,1037.1 484.5,1034.8 485.0,1036.5 485.4,1031.8 485.9,1025.5 486.3,1033.9 486.8,1020.1 487.2,1028.8 487.7,1041.6 488.1,1046.4 488.6,1036.8 489.0,1017.4 489.5,1043.3 489.9,1037.8 490.4,1032.9 490.8,1039.2 491.3,1037.9 491.7,1026.1 492.2,1025.3 492.6,1041.4 493.1,1018.2 493.5,1038.4 494.0,1036.4 494.4,1041.2 494.9,1046.7 495.3,1043.9 495.8,1045.5 496.2,1040.2 496.7,1037.9 497.1,1042.1 497.6,1034.0 498.0,1027.2 498.5,1033.5 498.9,1021.8 499.4,1029.7 499.8,1049.9 500.3,1037.9 500.7,1032.4 501.2,1029.0 501.6,1019.6 502.1,1029.3 502.5,1027.3 503.0,1033.5 503.4,1034.1 503.9,1032.8 504.3,1017.5 504.8,1045.2 505.2,1036.8 505.7,1033.1 506.1,1030.2 506.6,1036.6 507.0,1043.4 507.5,1037.9 507.9,1022.5 508.4,1021.6 508.8,1011.7 509.3,1033.4 509.7,1038.5 510.2,1042.9 510.6,1033.1 511.1,1039.2 511.5,1023.4 512.0,1036.3 512.4,1030.3 512.9,1025.2 513.3,1015.8 513.8,1041.6 514.2,1010.5 514.7,1036.4 515.1,1023.4 515.6,1035.8 516.0,1025.4 516.5,1036.7 516.9,1028.0 517.4,1020.7 517.8,1025.0 518.3,1015.5 518.7,1031.3 519.2,1037.5 519.6,1032.0 520.1,1029.2 520.5,1038.6 521.0,1018.3 521.4,1032.0 521.9,1027.3 522.3,1023.3 522.8,1031.1 523.2,1017.5 523.7,1025.2 524.1,1028.5 524.6,1016.8 525.0,1023.6 525.5,1029.1 525.9,1032.0 526.4,1017.7 526.8,1031.0 527.3,1022.0 527.7,1024.6 528.2,1019.8 528.6,1029.0 529.1,1018.4 529.5,1025.1 530.0,1025.6 530.4,1027.9 530.9,1015.6 531.3,1027.7 531.8,1022.6 532.2,1031.8 532.7,1019.9 533.1,1018.4 533.6,1021.6 534.0,1019.9 534.5,1020.8 534.9,1014.0 535.4,1008.6 535.8,1012.2 536.3,1017.8 536.7,1024.7 537.2,1019.6 537.6,1014.9 538.1,1020.6 538.5,1022.2 539.0,1042.9 539.4,1031.8 539.9,1023.3 540.3,1009.9 540.8,1020.3 541.2,1019.2 541.7,1026.6 542.1,1040.5 542.6,1021.2 543.0,1003.8 543.5,1020.8 543.9,1006.0 544.4,1029.9 544.8,1032.7 545.3,1025.2 545.7,1006.9 546.2,1020.1 546.6,1034.6 547.1,1011.3 547.5,1015.6 548.0,1024.8 548.4,1027.5 548.9,1022.9 549.3,1025.9 549.8,1024.4 550.2,1015.2 550.7,1021.0 551.1,1025.4 551.6,1008.6 552.0,1024.4 552.5,1023.2 552.9,1027.6 553.4,1026.1 553.8,1009.2 554.3,1006.7 554.7,1024.7 555.2,1019.8 555.6,1022.7 556.1,1014.9 556.5,1006.6 557.0,1024.3 557.4,1019.6 557.9,1027.8 558.3,1033.0 558.8,1032.7 559.2,1031.3 559.7,1009.7 560.1,997.1 560.6,1013.2 561.0,1006.7 561.5,1005.4 561.9,1026.1 562.4,1002.2 562.8,1028.2 563.3,1029.8 563.7,1045.4 564.2,1028.5 564.6,1038.8 565.1,1011.2 565.5,1010.6 566.0,1026.6 566.4,1004.1 566.9,1027.5 567.3,1013.7 567.8,997.5 568.2,1033.0 568.7,1005.2 569.1,1038.1 569.6,1001.6 570.0,1007.1 570.5,1016.4 570.9,1014.3 571.4,1000.1 571.8,1014.6 572.3,1015.0 572.7,1017.0 573.2,999.4 573.6,1007.6 574.1,1011.5 574.5,1018.8 575.0,1013.2 575.4,1008.7 575.9,1007.7 576.3,1023.3 576.8,1003.8 577.2,1013.0 577.7,991.5 578.1,1024.5 578.6,1013.5 579.0,993.9 579.5,1014.2 579.9,1020.8 580.4,1015.5 580.8,1008.6 581.3,1015.1 581.7,1000.6 582.2,1004.6 582.6,1003.3 583.1,1006.9 583.5,996.4 584.0,1018.1 584.4,1004.0 584.9,994.8 585.3,1002.4 585.8,1007.5 586.2,1004.1 586.7,1013.7 587.1,999.6 587.6,995.3 588.0,1007.0 588.5,1014.1 588.9,992.2 589.4,985.8 589.8,994.5 590.3,999.6 590.7,989.9 591.2,1001.2 591.6,990.7 592.1,1007.7 592.5,986.6 593.0,988.9 593.4,998.4 593.9,1004.1 594.3,1006.3 594.8,989.6 595.2,996.4 595.7,1001.3 596.1,1010.1 596.6,985.9 597.0,982.0 597.5,999.2 597.9,991.4 598.4,1007.2 598.8,993.5 599.3,996.1 599.7,984.6 600.2,994.9 600.6,1003.9 601.1,988.9 601.5,979.1 602.0,999.4 602.4,987.1 602.9,990.4 603.3,982.4 603.8,998.3 604.2,981.4 604.7,983.6 605.1,988.0 605.6,985.6 606.0,965.4 606.5,991.3 606.9,975.1 607.4,988.5 607.8,981.9 608.3,984.0 608.7,977.8 609.2,974.3 609.6,985.4 610.1,985.7 610.5,992.7 611.0,987.9 611.4,975.9 611.9,993.0 612.3,1002.2 612.8,987.9 613.2,979.1 613.7,971.5 614.1,980.9 614.6,966.5 615.0,986.5 615.5,975.4 615.9,973.2 616.4,980.4 616.8,966.4 617.3,961.5 617.7,972.9 618.2,987.3 618.6,968.3 619.1,983.5 619.5,958.3 620.0,974.1 620.4,979.0 620.9,990.6 621.3,956.9 621.8,972.4 622.2,963.9 622.7,975.1 623.1,966.4 623.6,972.3 624.0,963.5 624.5,965.0 624.9,973.9 625.4,984.4 625.8,971.2 626.3,969.9 626.7,963.6 627.2,983.9 627.6,947.5 628.1,946.4 628.5,958.4 629.0,970.6 629.4,975.5 629.9,971.1 630.3,972.7 630.8,966.0 631.2,958.8 631.7,952.0 632.1,967.8 632.6,952.2 633.0,966.6 633.5,969.8 633.9,954.4 634.4,955.8 634.8,954.1 635.3,967.5 635.7,961.2 636.2,951.4 636.6,961.5 637.1,975.3 637.5,960.9 638.0,958.6 638.4,952.1 638.9,945.4 639.3,955.9 639.8,956.2 640.2,951.3 640.7,968.4 641.1,951.3 641.6,951.7 642.0,955.3 642.5,958.8 642.9,931.2 643.4,954.7 643.8,965.7 644.3,937.7 644.7,954.7 645.2,943.8 645.6,937.7 646.1,951.7 646.5,947.0 647.0,923.7 647.4,940.3 647.9,955.9 648.3,939.4 648.8,937.1 649.2,940.8 649.7,939.5 650.1,952.5 650.6,933.9 651.0,929.8 651.5,947.4 651.9,953.3 652.4,949.5 652.8,950.5 653.3,933.4 653.7,923.7 654.2,931.9 654.6,939.1 655.1,920.0 655.5,935.1 656.0,944.5 656.4,930.0 656.9,959.2 657.3,945.2 657.8,923.1 658.2,923.7 658.7,928.1 659.1,943.3 659.6,940.3 660.0,928.8 660.5,936.5 660.9,943.1 661.4,939.8 661.8,916.5 662.3,921.9 662.7,923.5 663.2,914.3 663.6,942.5 664.1,925.8 664.5,925.4 665.0,923.2 665.4,935.7 665.9,938.5 666.3,939.6 666.8,945.8 667.2,921.2 667.7,950.0 668.1,959.6 668.6,925.2 669.0,927.0 669.5,938.0 669.9,945.2 670.4,927.7 670.8,921.3 671.3,954.8 671.7,924.6 672.2,898.1 672.6,936.5 673.1,941.9 673.5,950.3 674.0,951.0 674.4,966.7 674.9,923.0 675.3,917.7 675.8,911.9 676.2,950.1 676.7,923.9 677.1,908.6 677.6,903.8 678.0,930.4 678.5,923.4 678.9,932.5 679.4,917.8 679.8,919.2 680.3,934.1 680.7,925.6 681.2,935.2 681.6,926.2 682.1,924.0 682.5,932.1 683.0,923.2 683.4,929.4 683.9,932.7 684.3,920.2 684.8,925.1 685.2,927.8 685.7,935.0 686.1,929.1 686.6,929.0 687.0,931.7 687.5,921.2 687.9,929.8 688.4,915.0 688.8,900.0 689.3,929.9 689.7,897.5 690.2,921.7 690.6,944.5 691.1,933.2 691.5,909.0 692.0,933.0 692.4,925.8 692.9,910.5 693.3,920.6 693.8,914.2 694.2,917.0 694.7,925.9 695.1,898.8 695.6,932.8 696.0,949.4 696.5,917.9 696.9,905.9 697.4,913.8 697.8,937.5 698.3,912.0 698.7,926.2 699.2,952.8 699.6,908.1 700.1,920.2 700.5,910.0 701.0,912.8 701.4,920.1 701.9,906.8 702.3,925.0 702.8,920.7 703.2,935.8 703.7,928.4 704.1,923.7 704.6,941.1 705.0,914.8 705.5,927.7 705.9,907.9 706.4,940.1 706.8,907.1 707.3,933.2 707.7,907.7 708.2,922.1 708.6,903.3 709.1,908.1 709.5,905.9 710.0,926.5 710.4,928.1 710.9,931.7 711.3,927.0 711.8,918.9 712.2,931.6 712.7,944.4 713.1,918.0 713.6,913.5 714.0,931.9 714.5,952.3 714.9,924.2 715.4,921.5 715.8,913.1 716.3,917.4 716.7,915.2 717.2,915.5 717.6,941.8 718.1,944.9 718.5,930.6 719.0,931.2 719.4,940.5 719.9,931.1 720.3,932.7 720.8,938.9 721.2,931.7 721.7,947.8 722.1,970.3 722.6,933.4 723.0,936.9 723.5,924.6 723.9,929.2 724.4,935.5 724.8,939.4 725.3,932.8 725.7,922.2 726.2,939.3 726.6,929.6 727.1,939.6 727.5,933.1 728.0,934.0 728.4,934.5 728.9,913.2 729.3,948.2 729.8,925.7 730.2,938.9 730.7,940.8 731.1,929.0 731.6,920.5 732.0,940.6 732.5,924.4 732.9,933.4 733.4,938.8 733.8,928.8 734.3,915.6 734.7,926.3 735.2,938.4 735.6,924.4 736.1,941.9 736.5,916.2 737.0,922.0 737.4,913.4 737.9,921.5 738.3,947.3 738.8,937.0 739.2,927.9 739.7,923.8 740.1,942.3 740.6,928.6 741.0,919.1 741.5,945.8 741.9,915.1 742.4,930.9 742.8,935.5 743.3,938.7 743.7,949.3 744.2,937.0 744.6,920.4 745.1,940.0 745.5,930.7 746.0,914.3 746.4,915.6 746.9,918.4 747.3,903.8 747.8,931.5 748.2,932.8 748.7,931.9 749.1,917.7 749.6,926.0 750.0,939.4 750.5,930.7 750.9,925.1 751.4,918.7 751.8,926.2 752.3,940.4 752.7,927.1 753.2,951.5 753.6,953.0 754.1,934.9 754.5,910.0 755.0,924.8 755.4,941.3 755.9,921.9 756.3,920.7 756.8,928.5 757.2,956.9 757.7,923.6 758.1,908.2 758.6,932.1 759.0,933.5 759.5,937.4 759.9,930.5 760.4,933.6 760.8,925.3 761.3,940.6 761.7,930.4 762.2,936.4 762.6,923.4 763.1,946.0 763.5,934.2 764.0,927.4 764.4,932.6 764.9,920.8 765.3,926.3 765.8,941.4 766.2,939.3 766.7,942.0 767.1,940.8 767.6,930.7 768.0,934.8 768.5,953.6 768.9,932.9 769.4,918.3 769.8,934.2 770.3,930.1 770.7,933.4 771.2,934.7 771.6,923.9 772.1,939.0 772.5,933.0 773.0,940.8 773.4,927.5 773.9,924.5 774.3,930.3 774.8,952.0 775.2,915.9 775.7,946.1 776.1,934.2 776.6,946.7 777.0,930.5 777.5,938.6 777.9,938.3 778.4,956.6 778.8,932.9 779.3,936.6 779.7,925.9 780.2,936.8 780.6,925.6 781.1,932.0 781.5,936.9 782.0,938.4 782.4,922.5 782.9,922.2 783.3,943.3 783.8,924.8 784.2,931.6 784.7,925.9 785.1,911.3 785.6,925.8 786.0,924.4 786.5,943.1 786.9,902.7 787.4,915.5 787.8,925.8 788.3,911.4 788.7,891.9 789.2,919.0 789.6,911.5 790.1,898.0 790.5,893.6 791.0,894.3 791.4,901.3 791.9,895.5 792.3,889.0 792.8,899.1 793.2,906.8 793.7,890.2 794.1,915.1 794.6,901.0 795.0,909.8 795.5,910.8 795.9,914.7 796.4,914.9 796.8,891.0 797.3,907.8 797.7,930.1 798.2,911.8 798.6,926.4 799.1,910.4 799.5,922.4 800.0,947.2 800.4,934.7 800.9,924.1 801.3,927.7 801.8,917.4 802.2,941.7 802.7,934.9 803.1,946.3 803.6,947.7 804.0,936.6 804.5,930.0 804.9,927.8 805.4,937.1 805.8,942.1 806.3,957.4 806.7,932.4 807.2,948.1 807.6,932.1 808.1,937.5 808.5,952.7 809.0,950.1 809.4,938.9 809.9,937.9 810.3,957.3 810.8,943.5 811.2,942.3 811.7,934.2 812.1,973.6 812.6,966.5 813.0,952.2 813.5,971.2 813.9,952.3 814.4,943.3 814.8,953.2 815.3,963.1 815.7,935.1 816.2,961.4 816.6,961.0 817.1,964.6 817.5,953.4 818.0,960.5 818.4,928.9 818.9,947.6 819.3,959.8 819.8,954.5 820.2,951.4 820.7,934.4 821.1,946.5 821.6,928.9 822.0,945.6 822.5,952.0 822.9,942.4 823.4,953.6 823.8,948.3 824.3,958.2 824.7,944.1 825.2,929.9 825.6,933.7 826.1,939.3 826.5,947.9 827.0,949.0 827.4,939.4 827.9,949.0 828.3,940.2 828.8,955.0 829.2,932.5 829.7,960.9 830.1,950.8 830.6,943.1 831.0,935.3 831.5,954.0 831.9,940.8 832.4,955.1 832.8,968.7 833.3,949.7 833.7,950.5 834.2,954.1 834.6,941.7 835.1,970.3 835.5,945.6 836.0,956.2 836.4,952.2 836.9,941.7 837.3,964.3 837.8,953.0 838.2,941.5 838.7,941.8 839.1,927.8 839.6,937.6 840.0,958.7 840.5,959.0 840.9,939.9 841.4,956.9 841.8,960.8 842.3,958.8 842.7,964.0 843.2,931.5 843.6,953.5 844.1,941.9 844.5,958.7 845.0,944.7 845.4,953.4 845.9,961.3 846.3,937.6 846.8,946.9 847.2,946.7 847.7,953.3 848.1,939.1 848.6,961.4 849.0,972.1 849.5,952.0 849.9,959.5 850.4,931.1 850.8,944.5 851.3,961.2 851.7,958.2 852.2,961.6 852.6,967.4 853.1,957.0 853.5,954.4 854.0,952.7 854.4,957.6 854.9,939.7 855.3,968.9 855.8,939.9 856.2,944.8 856.7,957.8 857.1,964.6 857.6,961.6 858.0,968.7 858.5,954.3 858.9,952.8 859.4,961.7 859.8,948.9 860.3,959.2 860.7,961.7 861.2,960.0 861.6,940.2 862.1,955.5 862.5,939.2 863.0,965.4 863.4,953.4 863.9,967.0 864.3,970.4 864.8,944.0 865.2,966.8 865.7,961.6 866.1,973.3 866.6,943.8 867.0,943.4 867.5,948.6 867.9,936.4 868.4,958.9 868.8,948.9 869.3,959.8 869.7,961.6 870.2,967.8 870.6,940.6 871.1,966.7 871.5,966.8 872.0,944.1 872.4,948.9 872.9,937.3 873.3,974.1 873.8,976.0 874.2,944.9 874.7,955.5 875.1,962.9 875.6,967.4 876.0,955.8 876.5,982.2 876.9,942.3 877.4,970.4 877.8,958.3 878.3,961.5 878.7,944.8 879.2,928.1 879.6,948.0 880.1,964.7 880.5,942.4 881.0,927.2 881.4,953.7 881.9,956.2 882.3,939.4 882.8,954.5 883.2,963.4 883.7,959.9 884.1,971.6 884.6,975.9 885.0,955.6 885.5,942.8 885.9,927.4 886.4,972.1 886.8,961.3 887.3,971.8 887.7,942.4 888.2,957.3 888.6,942.4 889.1,941.0 889.5,932.2 890.0,951.2 890.4,961.9 890.9,966.4 891.3,957.9 891.8,949.9 892.2,984.3 892.7,976.9 893.1,968.9 893.6,955.8 894.0,972.1 894.5,942.3 894.9,934.8 895.4,962.1 895.8,955.4 896.3,967.7 896.7,941.7 897.2,956.7 897.6,938.1 898.1,947.7 898.5,958.7 899.0,951.3 899.4,939.5 899.9,932.6 900.3,946.9 900.8,939.8 901.2,933.0 901.7,953.1 902.1,940.1 902.6,968.3 903.0,978.4 903.5,966.2 903.9,987.7 904.4,936.4 904.8,930.1 905.3,950.2 905.7,929.6 906.2,954.0 906.6,963.5 907.1,962.3 907.5,964.8 908.0,949.8 908.4,951.7 908.9,955.8 909.3,952.0 909.8,964.7 910.2,947.8 910.7,952.5 911.1,944.4 911.6,965.6 912.0,955.0 912.5,955.2 912.9,947.5 913.4,931.2 913.8,948.1 914.3,926.5 914.7,953.3 915.2,938.6 915.6,970.5 916.1,946.3 916.5,953.7 917.0,948.4 917.4,940.3 917.9,935.3 918.3,923.1 918.8,946.8 919.2,929.4 919.7,969.4 920.1,938.9 920.6,947.7 921.0,955.1 921.5,953.5 921.9,970.3 922.4,954.7 922.8,949.5 923.3,954.2 923.7,975.1 924.2,965.6 924.6,931.0 925.1,953.2 925.5,944.3 926.0,955.8 926.4,963.3 926.9,955.5 927.3,962.7 927.8,975.6 928.2,933.9 928.7,954.3 929.1,955.3 929.6,959.7 930.0,955.3 930.5,964.6 930.9,953.4 931.4,958.3 931.8,935.3 932.3,955.0 932.7,938.8 933.2,958.6 933.6,971.5 934.1,950.9 934.5,956.0 935.0,959.1 935.4,965.6 935.9,958.9 936.3,963.4 936.8,944.3 937.2,948.9 937.7,934.3 938.1,972.2 938.6,936.9 939.0,958.3 939.5,950.4 939.9,949.8 940.4,936.8 940.8,948.0 941.3,949.2 941.7,952.3 942.2,945.0 942.6,950.7 943.1,938.8 943.5,960.4 944.0,941.9 944.4,981.8 944.9,945.4 945.3,942.0 945.8,950.7 946.2,947.5 946.7,960.4 947.1,962.0 947.6,942.8 948.0,942.4 948.5,941.7 948.9,955.0 949.4,960.8 949.8,957.6 950.3,948.9 950.7,951.1 951.2,958.3 951.6,965.1 952.1,950.9 952.5,964.9 953.0,948.0 953.4,954.3 953.9,965.3 954.3,942.4 954.8,932.4 955.2,939.8 955.7,951.3 956.1,940.9 956.6,951.9 957.0,970.2 957.5,949.5 957.9,970.2 958.4,964.9 958.8,941.4 959.3,966.7 959.7,965.7 960.2,967.4 960.6,957.9 961.1,959.0 961.5,948.6 962.0,944.6 962.4,955.4 962.9,965.5 963.3,948.7 963.8,978.1 964.2,951.2 964.7,961.4 965.1,939.9 965.6,977.6 966.0,967.1 966.5,974.6 966.9,942.9 967.4,976.7 967.8,964.6 968.3,951.2 968.7,954.1 969.2,940.7 969.6,957.2 970.1,970.5 970.5,949.3 971.0,964.5 971.4,945.6 971.9,928.3 972.3,958.1 972.8,977.9 973.2,974.7 973.7,952.8 974.1,975.5 974.6,972.9 975.0,965.3 975.5,957.0 975.9,972.4 976.4,960.3 976.8,957.0 977.3,973.3 977.7,954.0 978.2,969.3 978.6,978.2 979.1,954.6 979.5,964.0 980.0,968.0 980.4,943.5 980.9,957.2 981.3,956.7 981.8,957.0 982.2,953.7 982.7,976.2 983.1,953.6 983.6,962.0 984.0,969.2 984.5,979.1 984.9,947.4 985.4,950.6 985.8,953.2 986.3,960.8 986.7,973.2 987.2,962.7 987.6,965.7 988.1,979.7 988.5,961.2 989.0,966.3 989.4,984.8 989.9,972.9 990.3,958.8 990.8,958.5 991.2,976.8 991.7,953.6 992.1,956.4 992.6,974.0 993.0,979.8 993.5,983.5 993.9,955.7 994.4,971.6 994.8,931.1 995.3,957.4 995.7,997.9 996.2,983.5 996.6,974.6 997.1,957.1 997.5,953.6 998.0,979.4 998.4,965.8 998.9,958.7 999.3,975.8 999.8,975.4 1000.2,960.3 1000.7,963.3 1001.1,993.0 1001.6,957.5 1002.0,980.0 1002.5,960.8 1002.9,959.2 1003.4,957.2 1003.8,967.8 1004.3,969.0 1004.7,977.9 1005.2,961.0 1005.6,974.4 1006.1,963.4 1006.5,961.5 1007.0,977.5 1007.4,975.6 1007.9,952.7 1008.3,972.4 1008.8,949.2 1009.2,958.2 1009.7,990.5 1010.1,987.2 1010.6,969.2 1011.0,979.1 1011.5,987.5 1011.9,993.5 1012.4,993.8 1012.8,963.0 1013.3,972.3 1013.7,974.5 1014.2,942.4 1014.6,963.9 1015.1,979.0 1015.5,971.3 1016.0,966.5 1016.4,959.3 1016.9,967.3 1017.3,974.9 1017.8,971.3 1018.2,991.2 1018.7,987.2 1019.1,958.9 1019.6,989.6 1020.0,977.5 1020.5,987.9 1020.9,968.5 1021.4,990.5 1021.8,968.1 1022.3,992.9 1022.7,978.3 1023.2,975.2 1023.6,960.2 1024.1,956.0 1024.5,992.2 1025.0,963.4 1025.4,962.7 1025.9,986.0 1026.3,980.6 1026.8,989.1 1027.2,960.8 1027.7,948.6 1028.1,967.0 1028.6,996.1 1029.0,980.4 1029.5,987.7 1029.9,989.0 1030.4,983.5 1030.8,983.6 1031.3,977.9 1031.7,984.2 1032.2,985.7 1032.6,971.6 1033.1,989.5 1033.5,980.9 1034.0,979.8 1034.4,978.8 1034.9,992.7 1035.3,978.9 1035.8,996.3 1036.2,967.9 1036.7,988.0 1037.1,961.5 1037.6,981.3 1038.0,974.5 1038.5,975.1 1038.9,968.4 1039.4,980.1 1039.8,986.5 1040.3,960.0 1040.7,978.9 1041.2,982.2 1041.6,986.5 1042.1,983.8 1042.5,969.1 1043.0,989.9 1043.4,971.5 1043.9,984.6 1044.3,981.6 1044.8,974.5 1045.2,971.6 1045.7,977.8 1046.1,992.0 1046.6,985.0 1047.0,974.9 1047.5,985.4 1047.9,992.5 1048.4,996.0 1048.8,966.7 1049.3,984.7 1049.7,985.3 1050.2,973.9 1050.6,967.0 1051.1,987.6 1051.5,976.5 1052.0,969.6 1052.4,972.9 1052.9,984.1 1053.3,993.3 1053.8,985.5 1054.2,974.1 1054.7,988.0 1055.1,967.4 1055.6,986.5 1056.0,986.2 1056.5,992.2 1056.9,986.9 1057.4,988.2 1057.8,981.2 1058.3,978.1 1058.7,980.9 1059.2,994.7 1059.6,976.8 1060.1,980.7 1060.5,977.8 1061.0,986.5 1061.4,985.2 1061.9,997.4 1062.3,998.8 1062.8,990.9 1063.2,989.3 1063.7,981.4 1064.1,970.6 1064.6,984.1 1065.0,983.3 1065.5,973.8 1065.9,985.1 1066.4,991.6 1066.8,976.0 1067.3,991.3 1067.7,987.4 1068.2,979.3 1068.6,985.1 1069.1,990.9 1069.5,982.8 1070.0,984.0 1070.4,996.6 1070.9,989.8 1071.3,989.8 1071.8,980.3 1072.2,991.6 1072.7,999.2 1073.1,976.2 1073.6,969.5 1074.0,977.6 1074.5,984.1 1074.9,975.7 1075.4,969.1 1075.8,1001.3 1076.3,981.5 1076.7,977.7 1077.2,958.0 1077.6,994.3 1078.1,970.7 1078.5,998.2 1079.0,991.0 1079.4,987.7 1079.9,983.6 1080.3,994.9 1080.8,980.3 1081.2,989.3 1081.7,981.0 1082.1,982.8 1082.6,1000.8 1083.0,996.4 1083.5,977.0 1083.9,977.7 1084.4,986.3 1084.8,984.7 1085.3,990.6 1085.7,982.4 1086.2,976.1 1086.6,993.8 1087.1,983.9 1087.5,992.5 1088.0,977.6 1088.4,1000.3 1088.9,988.7 1089.3,988.6 1089.8,989.7 1090.2,971.4 1090.7,992.8 1091.1,981.4 1091.6,975.7 1092.0,989.9 1092.5,1002.4 1092.9,979.8 1093.4,1000.7 1093.8,965.7 1094.3,989.2 1094.7,980.8 1095.2,988.8 1095.6,1006.3 1096.1,992.7 1096.5,972.7 1097.0,1000.0 1097.4,976.8 1097.9,981.4 1098.3,978.3 1098.8,987.8 1099.2,985.6 1099.7,1001.5 1100.1,989.9 1100.6,993.0 1101.0,985.4 1101.5,997.0 1101.9,977.5 1102.4,974.0 1102.8,994.9 1103.3,993.7 1103.7,987.5 1104.2,1007.0 1104.6,979.2 1105.1,999.7 1105.5,1000.6 1106.0,976.4 1106.4,992.1 1106.9,994.2 1107.3,986.2 1107.8,986.3 1108.2,987.0 1108.7,980.1 1109.1,975.7 1109.6,994.3 1110.0,989.6 1110.5,987.9 1110.9,992.2 1111.4,980.9 1111.8,982.3 1112.3,994.6 1112.7,987.8 1113.2,992.0 1113.6,996.9 1114.1,1002.4 1114.5,980.5 1115.0,983.3 1115.4,976.3 1115.9,982.4 1116.3,992.3 1116.8,983.8 1117.2,1005.9 1117.7,984.8 1118.1,973.6 1118.6,980.9 1119.0,1006.1 1119.5,980.9 1119.9,988.0 1120.4,981.5 1120.8,979.0 1121.3,999.2 1121.7,978.1 1122.2,972.5 1122.6,982.1 1123.1,982.9 1123.5,993.4 1124.0,990.5 1124.4,1001.5 1124.9,987.5 1125.3,994.0 1125.8,994.8 1126.2,1000.3 1126.7,977.5 1127.1,986.7 1127.6,961.7 1128.0,981.9 1128.5,977.4 1128.9,981.1 1129.4,1007.4 1129.8,1001.9 1130.3,974.1 1130.7,1010.9 1131.2,1005.3 1131.6,993.1 1132.1,989.9 1132.5,989.6 1133.0,990.8 1133.4,999.0 1133.9,988.1 1134.3,1003.3 1134.8,987.5 1135.2,983.1 1135.7,989.8 1136.1,995.6 1136.6,996.8 1137.0,991.4 1137.5,972.4 1137.9,974.3 1138.4,969.5 1138.8,988.0 1139.3,1000.5 1139.7,992.0 1140.2,991.0 1140.6,985.5 1141.1,987.3 1141.5,983.2 1142.0,1004.9 1142.4,976.3 1142.9,980.8 1143.3,997.5 1143.8,987.2 1144.2,999.5 1144.7,986.1 1145.1,996.6 1145.6,994.2 1146.0,976.8 1146.5,997.9 1146.9,1005.8 1147.4,984.0 1147.8,990.0 1148.3,998.5 1148.7,1008.2 1149.2,995.3 1149.6,1016.2 1150.1,987.2 1150.5,1011.5 1151.0,983.7 1151.4,991.1 1151.9,982.2 1152.3,1001.2 1152.8,997.6 1153.2,974.3 1153.7,965.9 1154.1,1011.8 1154.6,988.4 1155.0,975.5 1155.5,982.7 1155.9,986.8 1156.4,1005.2 1156.8,994.9 1157.3,991.3 1157.7,982.6 1158.2,996.5 1158.6,975.9 1159.1,1000.1 1159.5,998.7 1160.0,986.8 1160.4,978.5 1160.9,985.6 1161.3,989.5 1161.8,1006.6 1162.2,1004.2 1162.7,985.0 1163.1,983.9 1163.6,978.7 1164.0,993.3 1164.5,985.4 1164.9,996.0 1165.4,990.4 1165.8,985.0 1166.3,980.8 1166.7,975.4 1167.2,994.7 1167.6,977.4 1168.1,995.7 1168.5,974.0 1169.0,965.5 1169.4,989.1 1169.9,983.2 1170.3,997.4 1170.8,988.6 1171.2,987.8 1171.7,996.8 1172.1,981.9 1172.6,994.5 1173.0,1012.5 1173.5,990.3 1173.9,978.7 1174.4,987.5 1174.8,979.6 1175.3,984.3 1175.7,1005.0 1176.2,977.3 1176.6,974.6 1177.1,992.9 1177.5,983.1 1178.0,985.5 1178.4,980.5 1178.9,989.9 1179.3,1003.3 1179.8,994.2 1180.2,982.4 1180.7,983.1 1181.1,976.8 1181.6,977.0 1182.0,997.7 1182.5,993.2 1182.9,992.4 1183.4,992.9 1183.8,979.8 1184.3,987.0 1184.7,993.2 1185.2,1005.7 1185.6,990.3 1186.1,988.2 1186.5,978.5 1187.0,999.3 1187.4,984.9 1187.9,990.7 1188.3,992.4 1188.8,979.3 1189.2,991.5 1189.7,1001.1 1190.1,978.7 1190.6,982.9 1191.0,979.8 1191.5,990.2 1191.9,1012.4 1192.4,993.0 1192.8,1003.3 1193.3,992.4 1193.7,985.3 1194.2,990.3 1194.6,992.9 1195.1,988.4 1195.5,989.9 1196.0,991.8 1196.4,984.2 1196.9,1007.6 1197.3,996.0 1197.8,990.2 1198.2,985.5 1198.7,995.8 1199.1,983.7 1199.6,978.8 1200.0,988.2 1200.5,1005.4 1200.9,990.3 1201.4,994.3 1201.8,982.5 1202.3,998.0 1202.7,987.0 1203.2,986.8 1203.6,984.8 1204.1,991.5 1204.5,982.0 1205.0,988.7 1205.4,990.9 1205.9,983.0 1206.3,972.9 1206.8,997.4 1207.2,980.1 1207.7,972.8 1208.1,992.9 1208.6,992.4 1209.0,1004.3 1209.5,1006.1 1209.9,970.2 1210.4,987.0 1210.8,995.7 1211.3,979.0 1211.7,1004.6 1212.2,996.4 1212.6,985.9 1213.1,987.4 1213.5,996.1 1214.0,1014.6 1214.4,1012.7 1214.9,978.1 1215.3,999.1 1215.8,977.7 1216.2,991.5 1216.7,982.7 1217.1,989.9 1217.6,988.3 1218.0,996.6 1218.5,985.1 1218.9,1000.1 1219.4,991.6 1219.8,983.4 1220.3,1007.9 1220.7,996.3 1221.2,990.7 1221.6,993.8 1222.1,1000.1 1222.5,991.4 1223.0,986.6 1223.4,991.2 1223.9,987.1 1224.3,987.2 1224.8,1009.5 1225.2,1000.9 1225.7,1006.6 1226.1,987.5 1226.6,974.5 1227.0,988.8 1227.5,998.1 1227.9,987.6 1228.4,994.6 1228.8,982.8 1229.3,997.8 1229.7,988.1 1230.2,992.6 1230.6,999.4 1231.1,984.9 1231.5,981.4 1232.0,984.0 1232.4,998.3 1232.9,988.8 1233.3,1003.1 1233.8,997.6 1234.2,1003.4 1234.7,993.8 1235.1,1004.2 1235.6,999.4 1236.0,972.0 1236.5,1006.3 1236.9,1000.5 1237.4,987.4 1237.8,979.1 1238.3,972.4 1238.7,992.8 1239.2,982.4 1239.6,979.2 1240.1,980.9 1240.5,974.2 1241.0,1000.3 1241.4,981.7 1241.9,990.2 1242.3,991.9 1242.8,993.9 1243.2,988.4 1243.7,998.2 1244.1,983.6 1244.6,1011.2 1245.0,973.2 1245.5,996.2 1245.9,1011.2 1246.4,978.9 1246.8,1002.9 1247.3,1008.9 1247.7,983.3 1248.2,1003.2 1248.6,981.6 1249.1,990.1 1249.5,984.5 1250.0,976.5 1250.4,974.9 1250.9,979.8 1251.3,970.1 1251.8,986.7 1252.2,985.9 1252.7,995.3 1253.1,988.0 1253.6,981.9 1254.0,980.1 1254.5,1008.0 1254.9,967.3 1255.4,969.5 1255.8,1005.6 1256.3,993.9 1256.7,985.0 1257.2,988.8 1257.6,993.6 1258.1,969.0 1258.5,980.9 1259.0,991.5 1259.4,991.2 1259.9,995.9 1260.3,987.4 1260.8,981.5 1261.2,979.2 1261.7,991.7 1262.1,985.4 1262.6,990.5 1263.0,1000.0 1263.5,998.4 1263.9,973.5 1264.4,997.8 1264.8,976.6 1265.3,970.0 1265.7,1007.6 1266.2,989.4 1266.6,980.7 1267.1,982.5 1267.5,995.8 1268.0,1006.9 1268.4,1000.0 1268.9,984.7 1269.3,975.5 1269.8,985.9 1270.2,997.2 1270.7,992.2 1271.1,974.1 1271.6,988.5 1272.0,993.5 1272.5,978.2 1272.9,996.4 1273.4,1002.4 1273.8,997.0 1274.3,979.4 1274.7,985.3 1275.2,987.6 1275.6,984.9 1276.1,997.3 1276.5,989.7 1277.0,989.0 1277.4,992.5 1277.9,984.9 1278.3,976.0 1278.8,991.0 1279.2,986.6 1279.7,997.0 1280.1,992.8 1280.6,988.0 1281.0,1002.0 1281.5,991.0 1281.9,978.3 1282.4,1007.5 1282.8,1003.7 1283.3,991.8 1283.7,976.1 1284.2,982.2 1284.6,1002.7 1285.1,992.1 1285.5,989.5 1286.0,998.0 1286.4,987.5 1286.9,988.5 1287.3,1006.5 1287.8,999.5 1288.2,1002.2 1288.7,1000.7 1289.1,1005.6 1289.6,1003.5 1290.0,986.6 1290.5,993.0 1290.9,1012.4 1291.4,997.1 1291.8,1013.5 1292.3,992.2 1292.7,980.9 1293.2,996.5 1293.6,990.3 1294.1,988.3 1294.5,987.7 1295.0,974.1 1295.4,1001.3 1295.9,994.0 1296.3,985.7 1296.8,978.2 1297.2,1002.6 1297.7,995.8 1298.1,1002.8 1298.6,999.6 1299.0,1003.7 1299.5,995.2 1299.9,979.7 1300.4,997.3 1300.8,1005.3 1301.3,980.1 1301.7,990.6 1302.2,1011.3 1302.6,981.9 1303.1,1010.3 1303.5,985.1 1304.0,977.3 1304.4,989.5 1304.9,988.4 1305.3,1005.5 1305.8,971.6 1306.2,984.3 1306.7,984.3 1307.1,982.6 1307.6,995.6 1308.0,988.2 1308.5,994.2 1308.9,991.3 1309.4,1006.4 1309.8,986.7 1310.3,994.4 1310.7,1003.8 1311.2,1000.0 1311.6,994.3 1312.1,1003.7 1312.5,999.2 1313.0,999.6 1313.4,995.5 1313.9,1006.1 1314.3,1007.2 1314.8,988.1 1315.2,1001.5 1315.7,1000.1 1316.1,1003.0 1316.6,987.5 1317.0,982.5 1317.5,993.5 1317.9,1007.5 1318.4,985.2 1318.8,1006.2 1319.3,996.4 1319.7,998.0 1320.2,998.3 1320.6,993.0 1321.1,994.3 1321.5,1002.7 1322.0,1011.3 1322.4,998.6 1322.9,1001.0 1323.3,989.6 1323.8,996.2 1324.2,1006.7 1324.7,1007.1 1325.1,995.3 1325.6,997.3 1326.0,994.4 1326.5,991.1 1326.9,1002.1 1327.4,994.9 1327.8,1009.8 1328.3,982.0 1328.7,985.1 1329.2,989.1 1329.6,998.6 1330.1,997.1 1330.5,992.9 1331.0,977.1 1331.4,999.6 1331.9,988.1 1332.3,1007.3 1332.8,999.4 1333.2,994.2 1333.7,997.1 1334.1,1007.8 1334.6,996.7 1335.0,992.5 1335.5,984.5 1335.9,997.7 1336.4,994.4 1336.8,1005.1 1337.3,999.5 1337.7,1004.8 1338.2,996.2 1338.6,993.7 1339.1,1004.2 1339.5,997.6 1340.0,994.2 1340.4,998.0 1340.9,1004.7 1341.3,994.6 1341.8,1010.6 1342.2,1001.7 1342.7,991.0 1343.1,991.6 1343.6,998.1 1344.0,996.2 1344.5,996.0 1344.9,997.5 1345.4,1000.1 1345.8,996.7 1346.3,994.8 1346.7,985.6 1347.2,1009.3 1347.6,999.1 1348.1,1002.0 1348.5,999.4 1349.0,1006.9 1349.4,998.3 1349.9,1006.8 1350.3,994.0 1350.8,996.3 1351.2,1001.8 1351.7,1002.2 1352.1,1006.5 1352.6,993.6 1353.0,1001.2 1353.5,993.9 1353.9,987.1 1354.4,1005.0 1354.8,997.0 1355.3,990.1 1355.7,991.7 1356.2,1001.4 1356.6,997.3 1357.1,996.4 1357.5,1002.3 1358.0,996.8 1358.4,982.8 1358.9,1003.5 1359.3,993.0 1359.8,993.8 1360.2,977.3 1360.7,970.2 1361.1,996.7 1361.6,992.5 1362.0,996.1 1362.5,998.3 1362.9,1003.2 1363.4,1006.6 1363.8,1005.6 1364.3,987.5 1364.7,989.0 1365.2,996.2 1365.6,1006.7 1366.1,1004.1 1366.5,990.5 1367.0,984.7 1367.4,996.6 1367.9,992.5 1368.3,999.3 1368.8,1000.0 1369.2,995.8 1369.7,985.4 1370.1,982.3 1370.6,989.6 1371.0,995.4 1371.5,990.4 1371.9,996.2 1372.4,986.4 1372.8,998.1 1373.3,991.2 1373.7,984.8 1374.2,980.4 1374.6,984.3 1375.1,985.0 1375.5,996.2 1376.0,982.4 1376.4,985.7 1376.9,961.1 1377.3,984.9 1377.8,974.1 1378.2,965.1 1378.7,951.8 1379.1,962.0 1379.6,981.3 1380.0,973.4 1380.5,972.2 1380.9,961.1 1381.4,970.5 1381.8,971.2 1382.3,969.9 1382.7,960.5 1383.2,964.9 1383.6,969.2 1384.1,999.5 1384.5,958.5 1385.0,991.3 1385.4,990.7 1385.9,982.1 1386.3,988.6 1386.8,986.0 1387.2,988.7 1387.7,979.9 1388.1,968.8 1388.6,1009.9 1389.0,1002.5 1389.5,975.8 1389.9,998.4 1390.4,985.5 1390.8,993.5 1391.3,980.9 1391.7,981.0 1392.2,1006.9 1392.6,986.9 1393.1,990.4 1393.5,997.6 1394.0,1004.6 1394.4,987.6 1394.9,997.5 1395.3,998.9 1395.8,987.1 1396.2,987.4 1396.7,998.0 1397.1,991.7 1397.6,1006.8 1398.0,977.0 1398.5,997.6 1398.9,991.7 1399.4,980.8 1399.8,992.2 1400.3,980.6 1400.7,990.4 1401.2,1003.1 1401.6,987.1 1402.1,998.9 1402.5,996.2 1403.0,989.2 1403.4,991.1 1403.9,995.6 1404.3,996.6 1404.8,989.2 1405.2,992.4 1405.7,1000.8 1406.1,984.8 1406.6,983.2 1407.0,996.7 1407.5,998.1 1407.9,973.0 1408.4,994.9 1408.8,1006.6 1409.3,1001.6 1409.7,990.8 1410.2,997.5 1410.6,979.2 1411.1,999.9 1411.5,996.9 1412.0,1002.1 1412.4,992.8 1412.9,1000.3 1413.3,990.3 1413.8,1004.1 1414.2,998.5 1414.7,978.2 1415.1,979.5 1415.6,999.3 1416.0,1003.3 1416.5,1006.0 1416.9,990.0 1417.4,996.5 1417.8,991.9 1418.3,988.8 1418.7,992.6 1419.2,1005.9 1419.6,990.8 1420.1,1010.9 1420.5,983.3 1421.0,992.0 1421.4,999.8 1421.9,999.7 1422.3,996.3 1422.8,980.3 1423.2,992.8 1423.7,1007.9 1424.1,1001.2 1424.6,1000.0 1425.0,999.2 1425.5,994.6 1425.9,995.1 1426.4,990.4 1426.8,1007.6 1427.3,999.5 1427.7,999.0 1428.2,997.1 1428.6,993.5 1429.1,983.0 1429.5,995.6 1430.0,989.8 1430.4,990.9 1430.9,997.6 1431.3,1007.4 1431.8,986.9 1432.2,996.0 1432.7,1010.0 1433.1,985.2 1433.6,1000.7 1434.0,992.2 1434.5,1002.6 1434.9,1010.0 1435.4,995.7 1435.8,1004.9 1436.3,999.1 1436.7,1013.0 1437.2,967.3 1437.6,988.7 1438.1,995.6 1438.5,997.6 1439.0,1011.2 1439.4,1006.5 1439.9,993.6 1440.3,984.5 1440.8,1006.9 1441.2,999.3 1441.7,994.7 1442.1,1004.4 1442.6,1012.5 1443.0,1000.1 1443.5,1009.4 1443.9,981.8 1444.4,1004.7 1444.8,1017.4 1445.3,1007.8 1445.7,992.4 1446.2,987.9 1446.6,1000.7 1447.1,990.3 1447.5,993.1 1448.0,982.7 1448.4,989.1 1448.9,1002.3 1449.3,991.0 1449.8,990.4 1450.2,986.2 1450.7,996.2 1451.1,1000.4 1451.6,998.3 1452.0,973.5 1452.5,997.4 1452.9,989.5 1453.4,996.5 1453.8,988.2 1454.3,1006.9 1454.7,1013.4 1455.2,1005.1 1455.6,1012.1 1456.1,999.5 1456.5,995.3 1457.0,980.6 1457.4,992.2 1457.9,993.9 1458.3,1010.6 1458.8,989.7 1459.2,998.2 1459.7,1003.0 1460.1,998.1 1460.6,997.5 1461.0,1006.4 1461.5,990.5 1461.9,997.9 1462.4,999.6 1462.8,1010.9 1463.3,1009.0 1463.7,1002.4 1464.2,1004.8 1464.6,980.4 1465.1,1000.1 1465.5,993.3 1466.0,985.1 1466.4,1003.0 1466.9,994.2 1467.3,991.9 1467.8,983.2 1468.2,998.8 1468.7,1007.5 1469.1,998.7 1469.6,1003.4 1470.0,1005.5 1470.5,997.2 1470.9,994.2 1471.4,992.2 1471.8,994.8 1472.3,992.7 1472.7,997.7 1473.2,993.2 1473.6,1006.1 1474.1,990.0 1474.5,1010.2 1475.0,993.3 1475.4,993.3 1475.9,1002.5 1476.3,991.1 1476.8,981.8 1477.2,1003.7 1477.7,1008.6 1478.1,981.3 1478.6,1001.1 1479.0,992.4 1479.5,995.1 1479.9,1009.6 1480.4,985.8 1480.8,992.6 1481.3,1006.9 1481.7,998.7 1482.2,1000.4 1482.6,991.4 1483.1,990.2 1483.5,990.4 1484.0,998.4 1484.4,993.1 1484.9,1000.0 1485.3,1017.6 1485.8,982.2 1486.2,998.6 1486.7,995.7 1487.1,987.9 1487.6,997.8 1488.0,989.2 1488.5,985.4 1488.9,996.3 1489.4,1008.8 1489.8,994.5 1490.3,999.5 1490.7,990.8 1491.2,990.1 1491.6,984.4 1492.1,995.8 1492.5,999.7 1493.0,982.1 1493.4,980.6 1493.9,999.8 1494.3,990.3 1494.8,983.0 1495.2,1000.8 1495.7,993.8 1496.1,992.2 1496.6,995.3 1497.0,990.2 1497.5,1017.9 1497.9,978.3 1498.4,991.4 1498.8,999.9 1499.3,998.5 1499.7,985.9 1500.2,992.7 1500.6,994.6 1501.1,1006.1 1501.5,1008.2 1502.0,1008.4 1502.4,996.9 1502.9,1006.3 1503.3,1000.1 1503.8,993.8 1504.2,993.2 1504.7,1001.2 1505.1,998.3 1505.6,991.6 1506.0,988.4 1506.5,988.2 1506.9,1006.7 1507.4,993.8 1507.8,996.7 1508.3,1007.3 1508.7,1007.8 1509.2,1002.6 1509.6,999.2 1510.1,992.2 1510.5,996.2 1511.0,997.7 1511.4,1001.1 1511.9,991.0 1512.3,1002.0 1512.8,1003.7 1513.2,998.5 1513.7,984.9 1514.1,981.1 1514.6,1001.0 1515.0,982.0 1515.5,997.1 1515.9,1017.9 1516.4,994.5 1516.8,984.9 1517.3,1002.5 1517.7,992.0 1518.2,994.8 1518.6,981.9 1519.1,990.3 1519.5,1006.2 1520.0,993.3 1520.4,989.8 1520.9,995.0 1521.3,996.8 1521.8,1002.9 1522.2,1000.6 1522.7,1002.8 1523.1,985.0 1523.6,992.4 1524.0,979.7 1524.5,1007.3 1524.9,990.3 1525.4,992.0 1525.8,1009.5 1526.3,1002.1 1526.7,992.5 1527.2,993.0 1527.6,991.7 1528.1,1001.9 1528.5,1019.3 1529.0,983.8 1529.4,1006.9 1529.9,1005.2 1530.3,991.3 1530.8,997.7 1531.2,997.3 1531.7,989.3 1532.1,990.1 1532.6,1007.0 1533.0,999.0 1533.5,992.1 1533.9,988.1 1534.4,994.5 1534.8,995.8 1535.3,1002.2 1535.7,1008.1 1536.2,995.7 1536.6,988.1 1537.1,998.5 1537.5,996.7 1538.0,990.9 1538.4,1001.4 1538.9,994.7 1539.3,998.2 1539.8,995.4 1540.2,999.2 1540.7,1000.3 1541.1,987.3 1541.6,1003.0 1542.0,995.7 1542.5,981.6 1542.9,992.7 1543.4,1005.7 1543.8,1007.4 1544.3,990.2 1544.7,997.9 1545.2,984.8 1545.6,999.4 1546.1,976.8 1546.5,981.2 1547.0,998.9 1547.4,999.6 1547.9,990.0 1548.3,999.5 1548.8,1008.6 1549.2,994.2 1549.7,1000.4 1550.1,988.6 1550.6,984.3 1551.0,1010.4 1551.5,996.6 1551.9,990.0 1552.4,980.7 1552.8,1000.5 1553.3,1002.9 1553.7,1007.2 1554.2,993.5 1554.6,1003.2 1555.1,995.7 1555.5,987.6 1556.0,994.9 1556.4,990.3 1556.9,987.6 1557.3,989.8 1557.8,1002.7 1558.2,995.7 1558.7,988.8 1559.1,993.9 1559.6,994.0 1560.0,994.2 1560.5,996.8 1560.9,988.8 1561.4,1007.5 1561.8,985.4 1562.3,990.1 1562.7,983.3 1563.2,991.8 1563.6,990.6 1564.1,997.2 1564.5,982.4 1565.0,997.3 1565.4,980.7 1565.9,1006.4 1566.3,990.7 1566.8,1006.2 1567.2,1008.9 1567.7,985.3 1568.1,1013.4 1568.6,995.9 1569.0,975.8 1569.5,997.6 1569.9,997.3 1570.4,1011.0 1570.8,978.5 1571.3,967.8 1571.7,994.4 1572.2,990.6 1572.6,986.4 1573.1,995.0 1573.5,1011.3 1574.0,994.7 1574.4,1003.5 1574.9,988.5 1575.3,983.0 1575.8,990.9 1576.2,1012.1 1576.7,1007.6 1577.1,1002.5 1577.6,992.2 1578.0,998.6 1578.5,1000.9 1578.9,981.3 1579.4,992.6 1579.8,1013.2 1580.3,982.7 1580.7,997.4 1581.2,990.8 1581.6,992.1 1582.1,1004.4 1582.5,987.8 1583.0,1002.6 1583.4,995.0 1583.9,1005.7 1584.3,987.3 1584.8,1006.5 1585.2,995.2 1585.7,990.3 1586.1,988.4 1586.6,976.3 1587.0,1004.6 1587.5,988.0 1587.9,1006.7 1588.4,1017.5 1588.8,979.7 1589.3,998.0 1589.7,988.4 1590.2,996.2 1590.6,999.5 1591.1,983.1 1591.5,1005.1 1592.0,993.4 1592.4,1010.9 1592.9,995.4 1593.3,997.1 1593.8,995.5 1594.2,1022.6 1594.7,990.6 1595.1,972.3 1595.6,1004.7 1596.0,996.2 1596.5,1003.8 1596.9,1007.0 1597.4,1010.3 1597.8,997.8 1598.3,999.9 1598.7,1006.4 1599.2,1009.2 1599.6,981.9 1600.1,1014.2 1600.5,984.5 1601.0,997.6 1601.4,1007.0 1601.9,990.5 1602.3,990.4 1602.8,1010.5 1603.2,1010.2 1603.7,981.3 1604.1,994.9 1604.6,999.4 1605.0,1009.9 1605.5,999.6 1605.9,1004.7 1606.4,999.9 1606.8,1003.4 1607.3,1021.8 1607.7,1002.0 1608.2,1000.4 1608.6,980.3 1609.1,984.8 1609.5,981.2 1610.0,994.6 1610.4,991.8 1610.9,987.4 1611.3,1001.8 1611.8,979.1 1612.2,996.6 1612.7,992.8 1613.1,986.0 1613.6,985.1 1614.0,989.1 1614.5,1001.9 1614.9,1003.2 1615.4,978.4 1615.8,994.1 1616.3,986.4 1616.7,1002.7 1617.2,1005.2 1617.6,1001.5 1618.1,997.8 1618.5,999.0 1619.0,974.4 1619.4,996.1 1619.9,994.4 1620.3,989.3 1620.8,983.5 1621.2,978.6 1621.7,982.2 1622.1,984.1 1622.6,964.2 1623.0,989.0 1623.5,992.2 1623.9,1005.9 1624.4,1006.3 1624.8,995.5 1625.3,991.7 1625.7,991.6 1626.2,1000.2 1626.6,1002.0 1627.1,977.1 1627.5,1000.0 1628.0,988.2 1628.4,992.9 1628.9,989.8 1629.3,997.0 1629.8,983.9 1630.2,994.2 1630.7,979.7 1631.1,1003.8 1631.6,1002.3 1632.0,990.8 1632.5,993.5 1632.9,988.7 1633.4,1001.4 1633.8,1000.1 1634.3,990.9 1634.7,993.3 1635.2,997.6 1635.6,988.1 1636.1,998.0 1636.5,1000.2 1637.0,1018.3 1637.4,998.8 1637.9,989.3 1638.3,1007.5 1638.8,998.9 1639.2,991.9 1639.7,1003.7 1640.1,990.8 1640.6,1009.3 1641.0,1003.1 1641.5,993.3 1641.9,995.9 1642.4,1015.2 1642.8,993.8 1643.3,992.7 1643.7,1002.8 1644.2,998.0 1644.6,994.8 1645.1,1002.5 1645.5,978.3 1646.0,997.3 1646.4,1009.3 1646.9,1008.6 1647.3,989.6 1647.8,996.5 1648.2,1003.6 1648.7,994.1 1649.1,1001.0 1649.6,1000.7 1650.0,980.6 1650.5,1003.0 1650.9,996.8 1651.4,995.2 1651.8,993.7 1652.3,977.0 1652.7,995.3 1653.2,1004.8 1653.6,1008.0 1654.1,997.8 1654.5,994.8 1655.0,992.9 1655.4,1007.7 1655.9,1014.7 1656.3,996.7 1656.8,973.8 1657.2,998.6 1657.7,1009.9 1658.1,984.7 1658.6,989.3 1659.0,982.9 1659.5,998.1 1659.9,1016.3 1660.4,1005.2 1660.8,982.4 1661.3,984.8 1661.7,1000.8 1662.2,993.7 1662.6,981.5 1663.1,998.9 1663.5,988.7 1664.0,1000.0 1664.4,1000.9 1664.9,998.7 1665.3,987.0 1665.8,988.8 1666.2,994.4 1666.7,990.8 1667.1,1004.8 1667.6,1005.8 1668.0,997.6 1668.5,1003.6 1668.9,1008.8 1669.4,988.0 1669.8,992.7 1670.3,1012.3 1670.7,994.6 1671.2,991.5 1671.6,996.5 1672.1,1000.2 1672.5,983.6 1673.0,996.3 1673.4,1004.3 1673.9,992.6 1674.3,992.0 1674.8,1004.1 1675.2,989.4 1675.7,985.6 1676.1,994.6 1676.6,1001.8 1677.0,993.5 1677.5,973.7 1677.9,989.7 1678.4,999.1 1678.8,1010.1 1679.3,995.1 1679.7,1016.8 1680.2,987.5 1680.6,991.4 1681.1,996.8 1681.5,1002.6 1682.0,993.6 1682.4,1001.6 1682.9,993.7 1683.3,1000.2 1683.8,1000.9 1684.2,997.6 1684.7,998.0 1685.1,994.3 1685.6,990.6 1686.0,1020.9 1686.5,989.2 1686.9,1008.1 1687.4,1005.4 1687.8,997.0 1688.3,996.4 1688.7,990.7 1689.2,998.6 1689.6,987.6 1690.1,996.9 1690.5,1013.4 1691.0,1006.7 1691.4,985.8 1691.9,998.3 1692.3,993.8 1692.8,985.9 1693.2,1006.4 1693.7,982.4 1694.1,1001.1 1694.6,1012.4 1695.0,1010.2 1695.5,987.2 1695.9,995.3 1696.4,995.9 1696.8,996.8 1697.3,1004.9 1697.7,1002.7 1698.2,1012.0 1698.6,992.6 1699.1,1001.1 1699.5,1007.8 1700.0,1001.9 1700.4,982.9 1700.9,998.8 1701.3,999.6 1701.8,998.3 1702.2,990.3 1702.7,1003.8 1703.1,998.5 1703.6,991.3 1704.0,1001.8 1704.5,997.0 1704.9,993.5 1705.4,992.4 1705.8,989.2 1706.3,997.9 1706.7,993.0 1707.2,1006.0 1707.6,996.8 1708.1,1003.4 1708.5,991.0 1709.0,993.6 1709.4,997.7 1709.9,1003.1 1710.3,1004.5 1710.8,998.4 1711.2,999.2 1711.7,1001.9 1712.1,1003.5 1712.6,1005.5 1713.0,984.1 1713.5,1004.2 1713.9,996.8 1714.4,998.1 1714.8,991.4 1715.3,1003.4 1715.7,1006.9 1716.2,1006.7 1716.6,992.5 1717.1,985.2 1717.5,1007.6 1718.0,994.0 1718.4,983.9 1718.9,1004.8 1719.3,980.6 1719.8,1005.1 1720.2,993.2 1720.7,1011.8 1721.1,997.5 1721.6,992.3 1722.0,997.8 1722.5,990.4 1722.9,992.3 1723.4,1000.2 1723.8,997.1 1724.3,987.2 1724.7,993.4 1725.2,1010.8 1725.6,986.2 1726.1,1001.0 1726.5,1016.2 1727.0,990.3 1727.4,1002.4 1727.9,996.8 1728.3,988.9 1728.8,1002.5 1729.2,1001.6 1729.7,995.9 1730.1,990.1 1730.6,1003.6 1731.0,1000.5 1731.5,993.6 1731.9,988.9 1732.4,993.4 1732.8,991.8 1733.3,991.0 1733.7,1005.1 1734.2,994.5 1734.6,1006.4 1735.1,1004.4 1735.5,1002.8 1736.0,999.1 1736.4,994.4 1736.9,994.4 1737.3,1010.4 1737.8,1003.5 1738.2,992.0 1738.7,1000.2 1739.1,990.5 1739.6,994.3 1740.0,986.8 1740.5,987.0 1740.9,986.1 1741.4,996.8 1741.8,1002.9 1742.3,993.9 1742.7,996.7 1743.2,991.7 1743.6,989.6 1744.1,995.8 1744.5,984.4 1745.0,1001.5 1745.4,999.2 1745.9,996.0 1746.3,993.1 1746.8,988.8 1747.2,1005.2 1747.7,991.2 1748.1,988.2 1748.6,984.9 1749.0,987.0 1749.5,990.8 1749.9,989.5 1750.4,997.2 1750.8,988.7 1751.3,985.7 1751.7,995.9 1752.2,986.0 1752.6,1005.4 1753.1,981.7 1753.5,990.4 1754.0,985.2 1754.4,993.7 1754.9,1001.5 1755.3,987.6 1755.8,979.0 1756.2,993.3 1756.7,991.6"/>
<line x1="428.5" y1="1214.5" x2="428.5" y2="1224" stroke="#9a38ff" stroke-width="9" stroke-linecap="round"/>
<line x1="683.4" y1="1158.5" x2="683.4" y2="1224" stroke="#9a38ff" stroke-width="9" stroke-linecap="round"/>
<line x1="792.4" y1="1095.5" x2="792.4" y2="1224" stroke="#9a38ff" stroke-width="9" stroke-linecap="round"/>
<line x1="833.5" y1="1214.5" x2="833.5" y2="1224" stroke="#9a38ff" stroke-width="9" stroke-linecap="round"/>
<line x1="951.3" y1="1122.5" x2="951.3" y2="1224" stroke="#9a38ff" stroke-width="9" stroke-linecap="round"/>
<line x1="1190" y1="1185.5" x2="1190" y2="1224" stroke="#9a38ff" stroke-width="9" stroke-linecap="round"/>
<line x1="1259.4" y1="1139.5" x2="1259.4" y2="1224" stroke="#9a38ff" stroke-width="9" stroke-linecap="round"/>
<line x1="1381.5" y1="1115.5" x2="1381.5" y2="1224" stroke="#9a38ff" stroke-width="9" stroke-linecap="round"/>
<line x1="1451.5" y1="1214.5" x2="1451.5" y2="1224" stroke="#9a38ff" stroke-width="9" stroke-linecap="round"/>
<line x1="1563" y1="1214.5" x2="1563" y2="1224" stroke="#9a38ff" stroke-width="9" stroke-linecap="round"/>
<line x1="1627.3" y1="1126.0" x2="1627.3" y2="1224" stroke="#9a38ff" stroke-width="9" stroke-linecap="round"/>
<line x1="1650.6" y1="1214.5" x2="1650.6" y2="1224" stroke="#9a38ff" stroke-width="9" stroke-linecap="round"/>
<line x1="1735.3" y1="1214.5" x2="1735.3" y2="1224" stroke="#9a38ff" stroke-width="9" stroke-linecap="round"/>
<rect x="143" y="35.5" width="1615.5" height="1189.5" fill="none" stroke="#000" stroke-width="8.5"/>
<line x1="251.0" y1="1225" x2="251.0" y2="1248" stroke="#000" stroke-width="8.5"/>
<line x1="466.3" y1="1225" x2="466.3" y2="1248" stroke="#000" stroke-width="8.5"/>
<line x1="681.6" y1="1225" x2="681.6" y2="1248" stroke="#000" stroke-width="8.5"/>
<line x1="896.9" y1="1225" x2="896.9" y2="1248" stroke="#000" stroke-width="8.5"/>
<line x1="1112.2" y1="1225" x2="1112.2" y2="1248" stroke="#000" stroke-width="8.5"/>
<line x1="1327.5" y1="1225" x2="1327.5" y2="1248" stroke="#000" stroke-width="8.5"/>
<line x1="1542.8" y1="1225" x2="1542.8" y2="1248" stroke="#000" stroke-width="8.5"/>
<line x1="1758.1" y1="1225" x2="1758.1" y2="1248" stroke="#000" stroke-width="8.5"/>
<line x1="143.3" y1="1225" x2="143.3" y2="1236" stroke="#000" stroke-width="8.5"/>
<line x1="358.6" y1="1225" x2="358.6" y2="1236" stroke="#000" stroke-width="8.5"/>
<line x1="574.0" y1="1225" x2="574.0" y2="1236" stroke="#000" stroke-width="8.5"/>
<line x1="789.2" y1="1225" x2="789.2" y2="1236" stroke="#000" stroke-width="8.5"/>
<line x1="1004.6" y1="1225" x2="1004.6" y2="1236" stroke="#000" stroke-width="8.5"/>
<line x1="1219.8" y1="1225" x2="1219.8" y2="1236" stroke="#000" stroke-width="8.5"/>
<line x1="1435.2" y1="1225" x2="1435.2" y2="1236" stroke="#000" stroke-width="8.5"/>
<line x1="1650.5" y1="1225" x2="1650.5" y2="1236" stroke="#000" stroke-width="8.5"/>
<text x="251.0" y="1343" text-anchor="middle" font-size="103" font-weight="bold">10</text>
<text x="466.3" y="1343" text-anchor="middle" font-size="103" font-weight="bold">20</text>
<text x="681.6" y="1343" text-anchor="middle" font-size="103" font-weight="bold">30</text>
<text x="896.9" y="1343" text-anchor="middle" font-size="103" font-weight="bold">40</text>
<text x="1112.2" y="1343" text-anchor="middle" font-size="103" font-weight="bold">50</text>
<text x="1327.5" y="1343" text-anchor="middle" font-size="103" font-weight="bold">60</text>
<text x="1542.8" y="1343" text-anchor="middle" font-size="103" font-weight="bold">70</text>
<text x="1758.1" y="1343" text-anchor="middle" font-size="103" font-weight="bold">80</text>
<text x="854" y="1427" font-size="103" font-weight="bold">2</text>
<text transform="translate(905.5,1426.6) scale(1,0.953)" font-size="103" font-weight="bold">θ</text>
<text x="983.5" y="1427" font-size="98">(</text>
<text x="1058.7" y="1427" font-size="98">)</text>
<text transform="translate(1015.2,1435.5) scale(1,1.055)" font-size="110">°</text>
<text transform="translate(94,944) rotate(-90) scale(0.977,1)" font-size="103" font-weight="bold">Intensity (a.u.)</text>
<line x1="977" y1="79.7" x2="1130" y2="79.7" stroke="#000" stroke-width="6.3"/>
<line x1="977" y1="161" x2="1130" y2="161" stroke="#00ff00" stroke-width="6"/>
<line x1="978" y1="257" x2="1129" y2="257" stroke="#ff0000" stroke-width="4.5"/>
<text x="1141.4" y="102.6" font-size="66.5" font-weight="bold">CMC</text>
<text x="1142.9" y="183.8" font-size="66.5" font-weight="bold">Fe</text>
<text x="1210.6" y="201.9" font-size="45.5" font-weight="bold">3</text>
<text x="1233.7" y="183.8" font-size="66.5" font-weight="bold">O</text>
<text x="1285.8" y="201.9" font-size="45.5" font-weight="bold">4</text>
<text x="1142.9" y="279" font-size="66.5" font-weight="bold">Fe</text>
<text x="1210.6" y="297.2" font-size="45.5" font-weight="bold">3</text>
<text x="1233.7" y="279" font-size="66.5" font-weight="bold">O</text>
<text x="1285.8" y="297.2" font-size="45.5" font-weight="bold">4</text>
<text x="1306.8" y="279" font-size="66.5" font-weight="bold">-P-CMC/G</text>
<text x="1615.7" y="279" font-size="66.5" font-weight="bold" letter-spacing="-0.4">1.5-2</text>
<text x="612.1" y="508.6" font-size="62.5" font-weight="bold">(220)</text>
<text x="736.8" y="454.8" font-size="62.5" font-weight="bold">(311)</text>
<text x="896.5" y="508.6" font-size="62.5" font-weight="bold">(400)</text>
<text x="1075.4" y="502.3" font-size="62.5" font-weight="bold">(422)</text>
<text x="1213.0" y="504.7" font-size="62.5" font-weight="bold">(511)</text>
<text x="1348.1" y="498.6" font-size="62.5" font-weight="bold">(440)</text>
<text x="1558.7" y="523.3" font-size="62.5" font-weight="bold">(533)</text></svg>
</body></html>
